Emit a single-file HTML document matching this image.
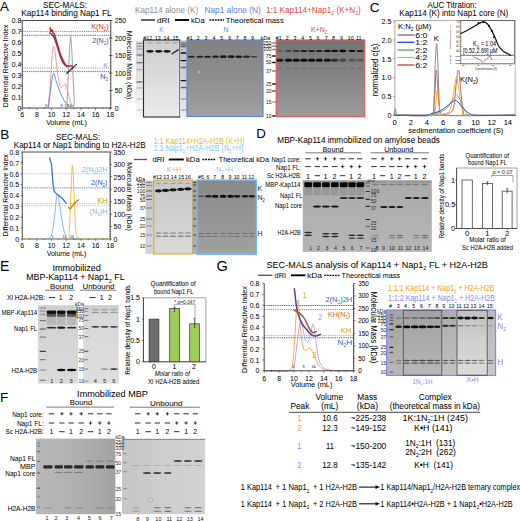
<!DOCTYPE html>
<html><head><meta charset="utf-8"><style>
html,body{margin:0;padding:0;background:#fff;}
svg{display:block;}
text{font-family:"Liberation Sans", sans-serif;}
</style></head><body>
<svg width="520" height="521" viewBox="0 0 520 521">
<rect x="0" y="0" width="520" height="521" fill="#fff"/>
<text x="0" y="4.79" font-size="13.30" text-anchor="start" fill="#000" stroke="#000" stroke-width="0.03" transform="translate(0.00 5.90) scale(1.0000 1)" >A</text>
<text x="0" y="3.17" font-size="8.80" text-anchor="start" fill="#000" stroke="#000" stroke-width="0.03" transform="translate(43.00 4.80) scale(0.9091 1)" textLength="48.51" lengthAdjust="spacingAndGlyphs" >SEC-MALS:</text>
<text x="0" y="3.17" font-size="8.80" text-anchor="start" fill="#000" stroke="#000" stroke-width="0.03" transform="translate(21.25 12.60) scale(0.9091 1)" textLength="99.33" lengthAdjust="spacingAndGlyphs" >Kap114 binding Nap1 FL</text>
<line x1="22.25" y1="31.45" x2="110.80" y2="31.45" stroke="#e86a6a" stroke-width="1.00" stroke-dasharray="1.3,0.9" />
<line x1="22.25" y1="35.28" x2="110.80" y2="35.28" stroke="#4a6fc0" stroke-width="1.00" stroke-dasharray="1.3,0.9" />
<line x1="22.25" y1="67.90" x2="110.80" y2="67.90" stroke="#a0a0a0" stroke-width="0.90" stroke-dasharray="1.3,0.9" />
<line x1="22.25" y1="71.60" x2="110.80" y2="71.60" stroke="#4a6fc0" stroke-width="1.00" stroke-dasharray="1.3,0.9" />
<path d="M22.25,20.50 L110.80,20.50 L110.80,108.10 L22.25,108.10 Z" fill="none" stroke="#333" stroke-width="0.9"/>
<line x1="109.80" y1="108.10" x2="110.80" y2="108.10" stroke="#333" stroke-width="0.50" />
<line x1="109.80" y1="104.60" x2="110.80" y2="104.60" stroke="#333" stroke-width="0.50" />
<line x1="109.80" y1="101.09" x2="110.80" y2="101.09" stroke="#333" stroke-width="0.50" />
<line x1="109.80" y1="97.59" x2="110.80" y2="97.59" stroke="#333" stroke-width="0.50" />
<line x1="109.80" y1="94.08" x2="110.80" y2="94.08" stroke="#333" stroke-width="0.50" />
<line x1="109.80" y1="90.58" x2="110.80" y2="90.58" stroke="#333" stroke-width="0.50" />
<line x1="109.80" y1="87.08" x2="110.80" y2="87.08" stroke="#333" stroke-width="0.50" />
<line x1="109.80" y1="83.57" x2="110.80" y2="83.57" stroke="#333" stroke-width="0.50" />
<line x1="109.80" y1="80.07" x2="110.80" y2="80.07" stroke="#333" stroke-width="0.50" />
<line x1="109.80" y1="76.56" x2="110.80" y2="76.56" stroke="#333" stroke-width="0.50" />
<line x1="109.80" y1="73.06" x2="110.80" y2="73.06" stroke="#333" stroke-width="0.50" />
<line x1="109.80" y1="69.56" x2="110.80" y2="69.56" stroke="#333" stroke-width="0.50" />
<line x1="109.80" y1="66.05" x2="110.80" y2="66.05" stroke="#333" stroke-width="0.50" />
<line x1="109.80" y1="62.55" x2="110.80" y2="62.55" stroke="#333" stroke-width="0.50" />
<line x1="109.80" y1="59.04" x2="110.80" y2="59.04" stroke="#333" stroke-width="0.50" />
<line x1="109.80" y1="55.54" x2="110.80" y2="55.54" stroke="#333" stroke-width="0.50" />
<line x1="109.80" y1="52.04" x2="110.80" y2="52.04" stroke="#333" stroke-width="0.50" />
<line x1="109.80" y1="48.53" x2="110.80" y2="48.53" stroke="#333" stroke-width="0.50" />
<line x1="109.80" y1="45.03" x2="110.80" y2="45.03" stroke="#333" stroke-width="0.50" />
<line x1="109.80" y1="41.52" x2="110.80" y2="41.52" stroke="#333" stroke-width="0.50" />
<line x1="109.80" y1="38.02" x2="110.80" y2="38.02" stroke="#333" stroke-width="0.50" />
<line x1="109.80" y1="34.52" x2="110.80" y2="34.52" stroke="#333" stroke-width="0.50" />
<line x1="109.80" y1="31.01" x2="110.80" y2="31.01" stroke="#333" stroke-width="0.50" />
<line x1="109.80" y1="27.51" x2="110.80" y2="27.51" stroke="#333" stroke-width="0.50" />
<line x1="109.80" y1="24.00" x2="110.80" y2="24.00" stroke="#333" stroke-width="0.50" />
<path d="M22.25,108.10 C26.16,108.10 41.44,108.46 45.72,108.10 C49.99,107.73 47.18,109.56 47.92,105.91 C48.65,102.26 49.38,94.96 50.12,86.20 C50.85,77.44 51.71,60.07 52.32,53.35 C52.93,46.63 53.29,45.90 53.78,45.90 C54.27,45.90 54.64,49.01 55.25,53.35 C55.86,57.69 56.59,66.44 57.45,71.97 C58.31,77.49 59.53,84.16 60.38,86.53 C61.24,88.90 61.73,86.55 62.58,86.20 C63.44,85.85 64.66,83.54 65.52,84.45 C66.37,85.36 66.92,88.86 67.72,91.67 C68.51,94.49 69.31,98.76 70.28,101.31 C71.26,103.87 72.42,105.87 73.58,107.00 C74.74,108.14 71.14,107.92 77.25,108.10 C83.36,108.28 104.75,108.10 110.25,108.10" stroke="#f08080" stroke-width="0.80" fill="none" stroke-linejoin="round" stroke-linecap="round" />
<path d="M22.25,108.10 C26.28,108.10 42.05,108.65 46.45,108.10 C50.85,107.55 47.79,109.19 48.65,104.81 C49.51,100.44 50.73,87.08 51.58,81.82 C52.44,76.56 53.05,73.46 53.78,73.28 C54.52,73.10 54.94,77.66 55.98,80.72 C57.02,83.79 58.51,88.13 60.02,91.67 C61.52,95.22 63.35,99.60 65.00,101.97 C66.65,104.34 68.24,104.94 69.92,105.91 C71.59,106.88 68.33,107.41 75.05,107.77 C81.77,108.14 104.38,108.05 110.25,108.10" stroke="#4a72c8" stroke-width="0.80" fill="none" stroke-linejoin="round" stroke-linecap="round" />
<path d="M22.25,108.10 C29.46,108.10 58.06,109.19 65.52,108.10 C72.97,107.00 66.43,108.83 66.98,101.53 C67.53,94.23 68.21,75.29 68.82,64.30 C69.43,53.31 70.04,35.61 70.65,35.61 C71.26,35.61 71.87,53.31 72.48,64.30 C73.09,75.29 73.77,94.23 74.32,101.53 C74.87,108.83 69.79,107.00 75.78,108.10 C81.77,109.19 104.51,108.10 110.25,108.10" stroke="#a8a8a8" stroke-width="1.10" fill="none" stroke-linejoin="round" stroke-linecap="round" />
<path d="M49.60,32.87 C49.93,33.09 50.89,33.51 51.58,34.19 C52.28,34.86 52.83,34.83 53.78,36.92 C54.74,39.02 56.26,43.68 57.30,46.78 C58.34,49.88 59.14,52.99 60.02,55.54 C60.90,58.10 61.58,60.38 62.58,62.11 C63.59,63.84 65.17,65.21 66.03,65.94 C66.89,66.67 67.44,66.40 67.72,66.49" stroke="#2a50b0" stroke-width="1.40" fill="none" stroke-linejoin="round" stroke-linecap="round" />
<path d="M50.12,27.84 C50.24,28.44 50.54,31.12 50.85,31.45 C51.16,31.78 51.58,29.63 51.95,29.81 C52.32,29.99 52.62,31.72 53.05,32.55 C53.48,33.37 53.81,32.82 54.52,34.73 C55.23,36.65 56.39,40.94 57.30,44.04 C58.22,47.15 59.14,50.76 60.02,53.35 C60.90,55.94 61.58,57.62 62.58,59.59 C63.59,61.56 64.93,64.10 66.03,65.18 C67.13,66.25 68.17,65.92 69.18,66.05 C70.20,66.18 71.63,65.96 72.12,65.94" stroke="#e01818" stroke-width="1.50" fill="none" stroke-linejoin="round" stroke-linecap="round" />
<path d="M66.62,73.39 C67.17,72.88 68.76,71.38 69.92,70.32 C71.08,69.26 72.48,68.02 73.58,67.04 C74.68,66.05 76.03,64.85 76.52,64.41" stroke="#222" stroke-width="1.20" fill="none" stroke-linejoin="round" stroke-linecap="round" />
<line x1="20.45" y1="108.10" x2="22.25" y2="108.10" stroke="#333" stroke-width="0.70" />
<text x="0" y="2.57" font-size="7.14" text-anchor="end" fill="#000" stroke="#000" stroke-width="0.03" transform="translate(21.25 108.10) scale(0.9524 1)" >0</text>
<line x1="20.45" y1="97.15" x2="22.25" y2="97.15" stroke="#333" stroke-width="0.70" />
<text x="0" y="2.57" font-size="7.14" text-anchor="end" fill="#000" stroke="#000" stroke-width="0.03" transform="translate(21.25 97.15) scale(0.9524 1)" >0.1</text>
<line x1="20.45" y1="86.20" x2="22.25" y2="86.20" stroke="#333" stroke-width="0.70" />
<text x="0" y="2.57" font-size="7.14" text-anchor="end" fill="#000" stroke="#000" stroke-width="0.03" transform="translate(21.25 86.20) scale(0.9524 1)" >0.2</text>
<line x1="20.45" y1="75.25" x2="22.25" y2="75.25" stroke="#333" stroke-width="0.70" />
<text x="0" y="2.57" font-size="7.14" text-anchor="end" fill="#000" stroke="#000" stroke-width="0.03" transform="translate(21.25 75.25) scale(0.9524 1)" >0.3</text>
<line x1="20.45" y1="64.30" x2="22.25" y2="64.30" stroke="#333" stroke-width="0.70" />
<text x="0" y="2.57" font-size="7.14" text-anchor="end" fill="#000" stroke="#000" stroke-width="0.03" transform="translate(21.25 64.30) scale(0.9524 1)" >0.4</text>
<line x1="20.45" y1="53.35" x2="22.25" y2="53.35" stroke="#333" stroke-width="0.70" />
<text x="0" y="2.57" font-size="7.14" text-anchor="end" fill="#000" stroke="#000" stroke-width="0.03" transform="translate(21.25 53.35) scale(0.9524 1)" >0.5</text>
<line x1="20.45" y1="42.40" x2="22.25" y2="42.40" stroke="#333" stroke-width="0.70" />
<text x="0" y="2.57" font-size="7.14" text-anchor="end" fill="#000" stroke="#000" stroke-width="0.03" transform="translate(21.25 42.40) scale(0.9524 1)" >0.6</text>
<line x1="20.45" y1="31.45" x2="22.25" y2="31.45" stroke="#333" stroke-width="0.70" />
<text x="0" y="2.57" font-size="7.14" text-anchor="end" fill="#000" stroke="#000" stroke-width="0.03" transform="translate(21.25 31.45) scale(0.9524 1)" >0.7</text>
<line x1="20.45" y1="20.50" x2="22.25" y2="20.50" stroke="#333" stroke-width="0.70" />
<text x="0" y="2.57" font-size="7.14" text-anchor="end" fill="#000" stroke="#000" stroke-width="0.03" transform="translate(21.25 20.50) scale(0.9524 1)" >0.8</text>
<line x1="109.00" y1="108.10" x2="112.60" y2="108.10" stroke="#333" stroke-width="0.70" />
<text x="0" y="2.57" font-size="7.14" text-anchor="start" fill="#000" stroke="#000" stroke-width="0.03" transform="translate(114.70 108.10) scale(0.9524 1)" >0</text>
<line x1="109.00" y1="90.58" x2="112.60" y2="90.58" stroke="#333" stroke-width="0.70" />
<text x="0" y="2.57" font-size="7.14" text-anchor="start" fill="#000" stroke="#000" stroke-width="0.03" transform="translate(114.70 90.58) scale(0.9524 1)" >50</text>
<line x1="109.00" y1="73.06" x2="112.60" y2="73.06" stroke="#333" stroke-width="0.70" />
<text x="0" y="2.57" font-size="7.14" text-anchor="start" fill="#000" stroke="#000" stroke-width="0.03" transform="translate(114.70 73.06) scale(0.9524 1)" >100</text>
<line x1="109.00" y1="55.54" x2="112.60" y2="55.54" stroke="#333" stroke-width="0.70" />
<text x="0" y="2.57" font-size="7.14" text-anchor="start" fill="#000" stroke="#000" stroke-width="0.03" transform="translate(114.70 55.54) scale(0.9524 1)" >150</text>
<line x1="109.00" y1="38.02" x2="112.60" y2="38.02" stroke="#333" stroke-width="0.70" />
<text x="0" y="2.57" font-size="7.14" text-anchor="start" fill="#000" stroke="#000" stroke-width="0.03" transform="translate(114.70 38.02) scale(0.9524 1)" >200</text>
<line x1="109.00" y1="20.50" x2="112.60" y2="20.50" stroke="#333" stroke-width="0.70" />
<text x="0" y="2.57" font-size="7.14" text-anchor="start" fill="#000" stroke="#000" stroke-width="0.03" transform="translate(114.70 20.50) scale(0.9524 1)" >250</text>
<line x1="22.25" y1="108.10" x2="22.25" y2="109.90" stroke="#333" stroke-width="0.70" />
<line x1="29.58" y1="108.10" x2="29.58" y2="109.10" stroke="#333" stroke-width="0.70" />
<line x1="36.92" y1="108.10" x2="36.92" y2="109.90" stroke="#333" stroke-width="0.70" />
<line x1="44.25" y1="108.10" x2="44.25" y2="109.10" stroke="#333" stroke-width="0.70" />
<line x1="51.58" y1="108.10" x2="51.58" y2="109.90" stroke="#333" stroke-width="0.70" />
<line x1="58.92" y1="108.10" x2="58.92" y2="109.10" stroke="#333" stroke-width="0.70" />
<line x1="66.25" y1="108.10" x2="66.25" y2="109.90" stroke="#333" stroke-width="0.70" />
<line x1="73.58" y1="108.10" x2="73.58" y2="109.10" stroke="#333" stroke-width="0.70" />
<line x1="80.92" y1="108.10" x2="80.92" y2="109.90" stroke="#333" stroke-width="0.70" />
<line x1="88.25" y1="108.10" x2="88.25" y2="109.10" stroke="#333" stroke-width="0.70" />
<line x1="95.58" y1="108.10" x2="95.58" y2="109.90" stroke="#333" stroke-width="0.70" />
<line x1="102.92" y1="108.10" x2="102.92" y2="109.10" stroke="#333" stroke-width="0.70" />
<line x1="110.25" y1="108.10" x2="110.25" y2="109.90" stroke="#333" stroke-width="0.70" />
<text x="0" y="2.65" font-size="7.35" text-anchor="middle" fill="#000" stroke="#000" stroke-width="0.03" transform="translate(22.25 114.00) scale(0.9524 1)" >6</text>
<text x="0" y="2.65" font-size="7.35" text-anchor="middle" fill="#000" stroke="#000" stroke-width="0.03" transform="translate(36.92 114.00) scale(0.9524 1)" >8</text>
<text x="0" y="2.65" font-size="7.35" text-anchor="middle" fill="#000" stroke="#000" stroke-width="0.03" transform="translate(51.58 114.00) scale(0.9524 1)" >10</text>
<text x="0" y="2.65" font-size="7.35" text-anchor="middle" fill="#000" stroke="#000" stroke-width="0.03" transform="translate(66.25 114.00) scale(0.9524 1)" >12</text>
<text x="0" y="2.65" font-size="7.35" text-anchor="middle" fill="#000" stroke="#000" stroke-width="0.03" transform="translate(80.92 114.00) scale(0.9524 1)" >14</text>
<text x="0" y="2.65" font-size="7.35" text-anchor="middle" fill="#000" stroke="#000" stroke-width="0.03" transform="translate(95.58 114.00) scale(0.9524 1)" >16</text>
<text x="0" y="2.65" font-size="7.35" text-anchor="middle" fill="#000" stroke="#000" stroke-width="0.03" transform="translate(110.25 114.00) scale(0.9524 1)" >18</text>
<text x="0" y="2.77" font-size="7.70" text-anchor="middle" fill="#000" stroke="#000" stroke-width="0.03" transform="translate(66.50 122.30) scale(0.9091 1)" textLength="44.77" lengthAdjust="spacingAndGlyphs" >Volume (mL)</text>
<text x="0" y="2.65" font-size="7.37" text-anchor="middle" fill="#000" stroke="#000" stroke-width="0.03" transform="translate(5.20 66.00) rotate(-90) scale(0.9091 1)" textLength="90.94" lengthAdjust="spacingAndGlyphs" >Differential Refractive Index</text>
<text x="0" y="2.77" font-size="7.70" text-anchor="middle" fill="#000" stroke="#000" stroke-width="0.03" transform="translate(129.60 65.00) rotate(90) scale(0.9091 1)" textLength="75.57" lengthAdjust="spacingAndGlyphs" >Molecular Mass (kDa)</text>
<text x="0" y="2.89" font-size="8.03" text-anchor="end" fill="#e42c2c" stroke="#e42c2c" stroke-width="0.03" transform="translate(108.80 26.30) scale(0.9091 1)" textLength="19.39" lengthAdjust="spacingAndGlyphs" >K(N<tspan font-size="4.98" dy="2.01">2</tspan><tspan dy="-2.01">)</tspan></text>
<text x="0" y="2.89" font-size="8.03" text-anchor="end" fill="#3050a8" stroke="#3050a8" stroke-width="0.03" transform="translate(108.50 40.30) scale(0.9091 1)" textLength="17.85" lengthAdjust="spacingAndGlyphs" >2(N<tspan font-size="4.98" dy="2.01">2</tspan><tspan dy="-2.01">)</tspan></text>
<text x="0" y="2.89" font-size="8.03" text-anchor="end" fill="#999" stroke="#999" stroke-width="0.03" transform="translate(108.20 64.75) scale(0.9091 1)" >K</text>
<text x="0" y="2.89" font-size="8.03" text-anchor="end" fill="#3050a8" stroke="#3050a8" stroke-width="0.03" transform="translate(108.00 75.80) scale(0.9091 1)" >N<tspan font-size="4.98" dy="2.01">2</tspan></text>
<text x="0" y="1.50" font-size="4.18" text-anchor="middle" fill="#333" stroke="#333" stroke-width="0.03" transform="translate(46.00 105.30) scale(0.9091 1)" >5</text>
<text x="0" y="1.50" font-size="4.18" text-anchor="middle" fill="#333" stroke="#333" stroke-width="0.03" transform="translate(61.50 105.30) scale(0.9091 1)" >9</text>
<text x="0" y="1.50" font-size="4.18" text-anchor="middle" fill="#333" stroke="#333" stroke-width="0.03" transform="translate(66.50 105.30) scale(0.9091 1)" >12</text>
<text x="0" y="1.50" font-size="4.18" text-anchor="middle" fill="#333" stroke="#333" stroke-width="0.03" transform="translate(71.00 105.30) scale(0.9091 1)" >5</text>
<text x="0" y="3.17" font-size="8.80" text-anchor="start" fill="#8f8f8f" stroke="#8f8f8f" stroke-width="0.03" transform="translate(135.00 10.00) scale(0.9091 1)" textLength="69.63" lengthAdjust="spacingAndGlyphs" >Kap114 alone (K)</text>
<text x="0" y="3.17" font-size="8.80" text-anchor="start" fill="#5f86d4" stroke="#5f86d4" stroke-width="0.03" transform="translate(204.50 10.00) scale(0.9091 1)" textLength="61.93" lengthAdjust="spacingAndGlyphs" >Nap1 alone (N)</text>
<text x="0" y="3.13" font-size="8.69" text-anchor="start" fill="#e04848" stroke="#e04848" stroke-width="0.03" transform="translate(266.00 10.00) scale(0.9091 1)" textLength="104.27" lengthAdjust="spacingAndGlyphs" >1:1 Kap114+Nap1<tspan font-size="5.39" dy="2.17">2</tspan><tspan dy="-2.17"> (K+N</tspan><tspan font-size="5.39" dy="2.17">2</tspan><tspan dy="-2.17">)</tspan></text>
<line x1="141.00" y1="20.00" x2="155.00" y2="20.00" stroke="#000" stroke-width="1.20" />
<text x="0" y="2.77" font-size="7.70" text-anchor="start" fill="#000" stroke="#000" stroke-width="0.03" transform="translate(157.00 20.00) scale(0.9091 1)" textLength="13.70" lengthAdjust="spacingAndGlyphs" >dRI</text>
<line x1="175.00" y1="20.00" x2="189.00" y2="20.00" stroke="#000" stroke-width="1.90" />
<text x="0" y="2.77" font-size="7.70" text-anchor="start" fill="#000" stroke="#000" stroke-width="0.03" transform="translate(191.00 20.00) scale(0.9091 1)" textLength="15.07" lengthAdjust="spacingAndGlyphs" >kDa</text>
<line x1="209.50" y1="20.00" x2="224.00" y2="20.00" stroke="#000" stroke-width="1.30" stroke-dasharray="1.8,0.9" />
<text x="0" y="2.77" font-size="7.70" text-anchor="start" fill="#000" stroke="#000" stroke-width="0.03" transform="translate(225.80 20.00) scale(0.9091 1)" textLength="63.69" lengthAdjust="spacingAndGlyphs" >Theoretical mass</text>
<text x="0" y="2.77" font-size="7.70" text-anchor="middle" fill="#999" stroke="#999" stroke-width="0.03" transform="translate(161.50 29.00) scale(0.9091 1)" >K</text>
<text x="0" y="2.77" font-size="7.70" text-anchor="middle" fill="#5f86d4" stroke="#5f86d4" stroke-width="0.03" transform="translate(226.00 29.00) scale(0.9091 1)" >N</text>
<text x="0" y="2.77" font-size="7.70" text-anchor="middle" fill="#e04848" stroke="#e04848" stroke-width="0.03" transform="translate(319.00 29.00) scale(0.9091 1)" >K+N<tspan font-size="4.77" dy="1.93">2</tspan></text>
<linearGradient id="g1" x1="0" y1="0" x2="0" y2="1">
<stop offset="0" stop-color="#d4d4d4"/>
<stop offset="0.5" stop-color="#e4e4e4"/>
<stop offset="1" stop-color="#fafafa"/>
</linearGradient>
<rect x="136.00" y="41.00" width="7.50" height="76.00" fill="url(#g1)" />
<rect x="136.50" y="43.00" width="6.00" height="1.00" rx="0.50" fill="#333" fill-opacity="0.40"/>
<rect x="136.50" y="45.75" width="6.00" height="1.00" rx="0.50" fill="#333" fill-opacity="0.50"/>
<rect x="136.50" y="48.50" width="6.00" height="1.00" rx="0.50" fill="#333" fill-opacity="0.35"/>
<rect x="136.50" y="54.50" width="6.00" height="1.00" rx="0.50" fill="#333" fill-opacity="0.80"/>
<rect x="136.50" y="62.25" width="6.00" height="1.00" rx="0.50" fill="#333" fill-opacity="0.80"/>
<rect x="136.50" y="69.25" width="6.00" height="1.00" rx="0.50" fill="#333" fill-opacity="0.40"/>
<rect x="136.50" y="81.40" width="6.00" height="1.00" rx="0.50" fill="#333" fill-opacity="0.90"/>
<rect x="136.50" y="87.50" width="6.00" height="1.00" rx="0.50" fill="#333" fill-opacity="0.40"/>
<rect x="136.50" y="98.50" width="6.00" height="1.00" rx="0.50" fill="#333" fill-opacity="0.30"/>
<rect x="136.50" y="109.50" width="6.00" height="1.00" rx="0.50" fill="#333" fill-opacity="0.30"/>
<linearGradient id="g2" x1="0" y1="0" x2="0" y2="1">
<stop offset="0" stop-color="#cdcdcd"/>
<stop offset="0.5" stop-color="#dcdcdc"/>
<stop offset="1" stop-color="#ececec"/>
</linearGradient>
<rect x="143.50" y="40.00" width="36.50" height="77.00" fill="url(#g2)" stroke="#2a2a2a" stroke-width="1.10" />
<ellipse cx="150.00" cy="51.30" rx="3.60" ry="1.40" fill="#0a0a0a" fill-opacity="0.95"/>
<ellipse cx="150.00" cy="42.80" rx="3.00" ry="0.50" fill="#555" fill-opacity="0.45"/>
<ellipse cx="158.70" cy="51.30" rx="3.60" ry="1.40" fill="#0a0a0a" fill-opacity="0.95"/>
<ellipse cx="158.70" cy="42.80" rx="3.00" ry="0.50" fill="#555" fill-opacity="0.45"/>
<ellipse cx="167.00" cy="51.30" rx="3.60" ry="1.40" fill="#0a0a0a" fill-opacity="0.95"/>
<ellipse cx="167.00" cy="42.80" rx="3.00" ry="0.50" fill="#555" fill-opacity="0.45"/>
<path d="M171.5,53.5 L178.5,48.8 L178.5,50.6 L171.5,54.8 Z" fill="#0a0a0a" fill-opacity="0.9"/>
<ellipse cx="175.00" cy="42.80" rx="3.00" ry="0.50" fill="#555" fill-opacity="0.45"/>
<text x="0" y="2.10" font-size="5.83" text-anchor="middle" fill="#000" stroke="#000" stroke-width="0.03" transform="translate(147.70 37.75) scale(0.9091 1)" >#12</text>
<text x="0" y="2.10" font-size="5.83" text-anchor="middle" fill="#000" stroke="#000" stroke-width="0.03" transform="translate(157.80 37.75) scale(0.9091 1)" >13</text>
<text x="0" y="2.10" font-size="5.83" text-anchor="middle" fill="#000" stroke="#000" stroke-width="0.03" transform="translate(166.40 37.75) scale(0.9091 1)" >14</text>
<text x="0" y="2.10" font-size="5.83" text-anchor="middle" fill="#000" stroke="#000" stroke-width="0.03" transform="translate(175.50 37.75) scale(0.9091 1)" >15</text>
<linearGradient id="g3" x1="0" y1="0" x2="0" y2="1">
<stop offset="0" stop-color="#bcbcbc"/>
<stop offset="0.5" stop-color="#d2d2d2"/>
<stop offset="1" stop-color="#ececec"/>
</linearGradient>
<rect x="180.00" y="40.50" width="7.00" height="76.50" fill="url(#g3)" />
<rect x="180.50" y="42.30" width="6.00" height="1.40" rx="0.70" fill="#111" fill-opacity="0.40"/>
<rect x="180.50" y="44.00" width="6.00" height="1.40" rx="0.70" fill="#111" fill-opacity="0.40"/>
<rect x="180.50" y="45.80" width="6.00" height="1.40" rx="0.70" fill="#111" fill-opacity="0.50"/>
<rect x="180.50" y="52.30" width="6.00" height="1.40" rx="0.70" fill="#111" fill-opacity="1.00"/>
<rect x="180.50" y="59.90" width="6.00" height="1.40" rx="0.70" fill="#111" fill-opacity="1.00"/>
<rect x="180.50" y="66.80" width="6.00" height="1.40" rx="0.70" fill="#111" fill-opacity="0.55"/>
<rect x="180.50" y="79.90" width="6.00" height="1.40" rx="0.70" fill="#111" fill-opacity="1.00"/>
<rect x="180.50" y="86.80" width="6.00" height="1.40" rx="0.70" fill="#111" fill-opacity="0.55"/>
<rect x="180.50" y="98.30" width="6.00" height="1.40" rx="0.70" fill="#111" fill-opacity="0.30"/>
<rect x="180.50" y="109.30" width="6.00" height="1.40" rx="0.70" fill="#111" fill-opacity="0.30"/>
<linearGradient id="g4" x1="0" y1="0" x2="0" y2="1">
<stop offset="0" stop-color="#828282"/>
<stop offset="0.5" stop-color="#8e8e8e"/>
<stop offset="1" stop-color="#a2a2a2"/>
</linearGradient>
<rect x="187.00" y="40.00" width="76.00" height="76.50" fill="url(#g4)" stroke="#5f86d4" stroke-width="1.20" />
<text x="0" y="2.10" font-size="5.83" text-anchor="middle" fill="#000" stroke="#000" stroke-width="0.03" transform="translate(189.80 37.70) scale(0.9091 1)" >#1</text>
<text x="0" y="2.10" font-size="5.83" text-anchor="middle" fill="#000" stroke="#000" stroke-width="0.03" transform="translate(198.30 37.70) scale(0.9091 1)" >2</text>
<text x="0" y="2.10" font-size="5.83" text-anchor="middle" fill="#000" stroke="#000" stroke-width="0.03" transform="translate(206.00 37.70) scale(0.9091 1)" >3</text>
<text x="0" y="2.10" font-size="5.83" text-anchor="middle" fill="#000" stroke="#000" stroke-width="0.03" transform="translate(214.00 37.70) scale(0.9091 1)" >4</text>
<text x="0" y="2.10" font-size="5.83" text-anchor="middle" fill="#000" stroke="#000" stroke-width="0.03" transform="translate(221.80 37.70) scale(0.9091 1)" >5</text>
<text x="0" y="2.10" font-size="5.83" text-anchor="middle" fill="#000" stroke="#000" stroke-width="0.03" transform="translate(229.60 37.70) scale(0.9091 1)" >6</text>
<text x="0" y="2.10" font-size="5.83" text-anchor="middle" fill="#000" stroke="#000" stroke-width="0.03" transform="translate(237.30 37.70) scale(0.9091 1)" >7</text>
<text x="0" y="2.10" font-size="5.83" text-anchor="middle" fill="#000" stroke="#000" stroke-width="0.03" transform="translate(245.00 37.70) scale(0.9091 1)" >8</text>
<text x="0" y="2.10" font-size="5.83" text-anchor="middle" fill="#000" stroke="#000" stroke-width="0.03" transform="translate(252.50 37.70) scale(0.9091 1)" >9</text>
<ellipse cx="191.30" cy="56.70" rx="3.40" ry="1.00" fill="#101010" fill-opacity="0.80"/>
<ellipse cx="199.80" cy="56.70" rx="3.40" ry="1.00" fill="#101010" fill-opacity="0.85"/>
<ellipse cx="207.50" cy="56.70" rx="3.40" ry="1.05" fill="#101010" fill-opacity="0.90"/>
<ellipse cx="215.50" cy="56.70" rx="3.40" ry="1.15" fill="#101010" fill-opacity="0.90"/>
<ellipse cx="223.30" cy="56.70" rx="3.40" ry="1.40" fill="#101010" fill-opacity="0.95"/>
<ellipse cx="231.10" cy="56.70" rx="3.40" ry="1.40" fill="#101010" fill-opacity="0.95"/>
<ellipse cx="238.80" cy="56.70" rx="3.40" ry="1.30" fill="#101010" fill-opacity="0.95"/>
<ellipse cx="246.50" cy="56.70" rx="3.40" ry="1.10" fill="#101010" fill-opacity="0.85"/>
<ellipse cx="254.00" cy="56.70" rx="3.40" ry="0.80" fill="#101010" fill-opacity="0.70"/>
<circle cx="199" cy="72" r="1.3" fill="#c8c8c8" fill-opacity="0.7"/>
<text x="0" y="2.10" font-size="5.83" text-anchor="middle" fill="#000" stroke="#000" stroke-width="0.03" transform="translate(265.50 37.70) scale(0.9091 1)" >kDa</text>
<text x="0" y="1.98" font-size="5.50" text-anchor="end" fill="#222" stroke="#222" stroke-width="0.03" transform="translate(271.50 43.20) scale(0.9091 1)" >250</text>
<text x="0" y="1.98" font-size="5.50" text-anchor="end" fill="#222" stroke="#222" stroke-width="0.03" transform="translate(271.50 46.00) scale(0.9091 1)" >150</text>
<text x="0" y="1.98" font-size="5.50" text-anchor="end" fill="#222" stroke="#222" stroke-width="0.03" transform="translate(271.50 49.50) scale(0.9091 1)" >100</text>
<text x="0" y="1.98" font-size="5.50" text-anchor="end" fill="#222" stroke="#222" stroke-width="0.03" transform="translate(271.50 56.00) scale(0.9091 1)" >75</text>
<text x="0" y="1.98" font-size="5.50" text-anchor="end" fill="#222" stroke="#222" stroke-width="0.03" transform="translate(271.50 62.50) scale(0.9091 1)" >50</text>
<text x="0" y="1.98" font-size="5.50" text-anchor="end" fill="#222" stroke="#222" stroke-width="0.03" transform="translate(271.50 71.00) scale(0.9091 1)" >37</text>
<text x="0" y="1.98" font-size="5.50" text-anchor="end" fill="#222" stroke="#222" stroke-width="0.03" transform="translate(271.50 84.00) scale(0.9091 1)" >25</text>
<text x="0" y="1.98" font-size="5.50" text-anchor="end" fill="#222" stroke="#222" stroke-width="0.03" transform="translate(271.50 91.00) scale(0.9091 1)" >20</text>
<text x="0" y="1.98" font-size="5.50" text-anchor="end" fill="#222" stroke="#222" stroke-width="0.03" transform="translate(271.50 102.00) scale(0.9091 1)" >15</text>
<text x="0" y="1.98" font-size="5.50" text-anchor="end" fill="#222" stroke="#222" stroke-width="0.03" transform="translate(271.50 116.00) scale(0.9091 1)" >10</text>
<rect x="272.00" y="42.35" width="4.00" height="1.30" rx="0.65" fill="#111" fill-opacity="0.50"/>
<rect x="272.00" y="45.35" width="4.00" height="1.30" rx="0.65" fill="#111" fill-opacity="0.50"/>
<rect x="272.00" y="48.85" width="4.00" height="1.30" rx="0.65" fill="#111" fill-opacity="0.50"/>
<rect x="272.00" y="55.35" width="4.00" height="1.30" rx="0.65" fill="#111" fill-opacity="1.00"/>
<rect x="272.00" y="61.85" width="4.00" height="1.30" rx="0.65" fill="#111" fill-opacity="1.00"/>
<rect x="272.00" y="70.35" width="4.00" height="1.30" rx="0.65" fill="#111" fill-opacity="0.55"/>
<rect x="272.00" y="83.35" width="4.00" height="1.30" rx="0.65" fill="#111" fill-opacity="1.00"/>
<rect x="272.00" y="90.35" width="4.00" height="1.30" rx="0.65" fill="#111" fill-opacity="0.70"/>
<rect x="272.00" y="101.35" width="4.00" height="1.30" rx="0.65" fill="#111" fill-opacity="0.40"/>
<rect x="272.00" y="115.35" width="4.00" height="1.30" rx="0.65" fill="#111" fill-opacity="0.90"/>
<linearGradient id="g5" x1="0" y1="0" x2="0" y2="1">
<stop offset="0" stop-color="#747474"/>
<stop offset="0.5" stop-color="#868686"/>
<stop offset="1" stop-color="#9c9c9c"/>
</linearGradient>
<rect x="276.20" y="40.00" width="88.50" height="76.70" fill="url(#g5)" stroke="#e05a5a" stroke-width="1.20" />
<text x="0" y="2.10" font-size="5.83" text-anchor="middle" fill="#000" stroke="#000" stroke-width="0.03" transform="translate(278.70 37.70) scale(0.9091 1)" >#1</text>
<text x="0" y="2.10" font-size="5.83" text-anchor="middle" fill="#000" stroke="#000" stroke-width="0.03" transform="translate(287.30 37.70) scale(0.9091 1)" >2</text>
<text x="0" y="2.10" font-size="5.83" text-anchor="middle" fill="#000" stroke="#000" stroke-width="0.03" transform="translate(295.00 37.70) scale(0.9091 1)" >3</text>
<text x="0" y="2.10" font-size="5.83" text-anchor="middle" fill="#000" stroke="#000" stroke-width="0.03" transform="translate(302.70 37.70) scale(0.9091 1)" >4</text>
<text x="0" y="2.10" font-size="5.83" text-anchor="middle" fill="#000" stroke="#000" stroke-width="0.03" transform="translate(310.40 37.70) scale(0.9091 1)" >5</text>
<text x="0" y="2.10" font-size="5.83" text-anchor="middle" fill="#000" stroke="#000" stroke-width="0.03" transform="translate(318.00 37.70) scale(0.9091 1)" >6</text>
<text x="0" y="2.10" font-size="5.83" text-anchor="middle" fill="#000" stroke="#000" stroke-width="0.03" transform="translate(326.20 37.70) scale(0.9091 1)" >7</text>
<text x="0" y="2.10" font-size="5.83" text-anchor="middle" fill="#000" stroke="#000" stroke-width="0.03" transform="translate(333.50 37.70) scale(0.9091 1)" >8</text>
<text x="0" y="2.10" font-size="5.83" text-anchor="middle" fill="#000" stroke="#000" stroke-width="0.03" transform="translate(341.50 37.70) scale(0.9091 1)" >9</text>
<text x="0" y="2.10" font-size="5.83" text-anchor="middle" fill="#000" stroke="#000" stroke-width="0.03" transform="translate(350.80 37.70) scale(0.9091 1)" >10</text>
<text x="0" y="2.10" font-size="5.83" text-anchor="middle" fill="#000" stroke="#000" stroke-width="0.03" transform="translate(358.80 37.70) scale(0.9091 1)" >11</text>
<ellipse cx="279.90" cy="50.90" rx="3.40" ry="0.70" fill="#0a0a0a" fill-opacity="0.35"/>
<ellipse cx="279.90" cy="60.20" rx="3.60" ry="1.60" fill="#050505" fill-opacity="0.80"/>
<ellipse cx="279.90" cy="68.50" rx="3.00" ry="0.50" fill="#444" fill-opacity="0.30"/>
<ellipse cx="279.90" cy="43.30" rx="3.00" ry="0.40" fill="#444" fill-opacity="0.25"/>
<ellipse cx="288.50" cy="50.90" rx="3.40" ry="0.80" fill="#0a0a0a" fill-opacity="0.55"/>
<ellipse cx="288.50" cy="60.20" rx="3.60" ry="1.60" fill="#050505" fill-opacity="0.97"/>
<ellipse cx="288.50" cy="68.50" rx="3.00" ry="0.50" fill="#444" fill-opacity="0.30"/>
<ellipse cx="288.50" cy="43.30" rx="3.00" ry="0.40" fill="#444" fill-opacity="0.25"/>
<ellipse cx="296.20" cy="50.90" rx="3.40" ry="0.90" fill="#0a0a0a" fill-opacity="0.70"/>
<ellipse cx="296.20" cy="60.20" rx="3.60" ry="1.60" fill="#050505" fill-opacity="0.97"/>
<ellipse cx="296.20" cy="68.50" rx="3.00" ry="0.50" fill="#444" fill-opacity="0.30"/>
<ellipse cx="296.20" cy="43.30" rx="3.00" ry="0.40" fill="#444" fill-opacity="0.25"/>
<ellipse cx="303.90" cy="50.90" rx="3.40" ry="1.00" fill="#0a0a0a" fill-opacity="0.85"/>
<ellipse cx="303.90" cy="60.20" rx="3.60" ry="1.60" fill="#050505" fill-opacity="0.97"/>
<ellipse cx="303.90" cy="68.50" rx="3.00" ry="0.50" fill="#444" fill-opacity="0.30"/>
<ellipse cx="303.90" cy="43.30" rx="3.00" ry="0.40" fill="#444" fill-opacity="0.25"/>
<ellipse cx="311.60" cy="50.90" rx="3.40" ry="1.00" fill="#0a0a0a" fill-opacity="0.85"/>
<ellipse cx="311.60" cy="60.20" rx="3.60" ry="1.60" fill="#050505" fill-opacity="0.95"/>
<ellipse cx="311.60" cy="68.50" rx="3.00" ry="0.50" fill="#444" fill-opacity="0.30"/>
<ellipse cx="311.60" cy="43.30" rx="3.00" ry="0.40" fill="#444" fill-opacity="0.25"/>
<ellipse cx="319.20" cy="50.90" rx="3.40" ry="1.00" fill="#0a0a0a" fill-opacity="0.85"/>
<ellipse cx="319.20" cy="60.20" rx="3.60" ry="1.60" fill="#050505" fill-opacity="0.90"/>
<ellipse cx="319.20" cy="68.50" rx="3.00" ry="0.50" fill="#444" fill-opacity="0.30"/>
<ellipse cx="319.20" cy="43.30" rx="3.00" ry="0.40" fill="#444" fill-opacity="0.25"/>
<ellipse cx="327.40" cy="50.90" rx="3.40" ry="1.20" fill="#0a0a0a" fill-opacity="0.95"/>
<ellipse cx="327.40" cy="60.20" rx="3.60" ry="1.60" fill="#050505" fill-opacity="0.85"/>
<ellipse cx="327.40" cy="68.50" rx="3.00" ry="0.50" fill="#444" fill-opacity="0.30"/>
<ellipse cx="327.40" cy="43.30" rx="3.00" ry="0.40" fill="#444" fill-opacity="0.25"/>
<ellipse cx="334.70" cy="50.90" rx="3.40" ry="1.20" fill="#0a0a0a" fill-opacity="0.95"/>
<ellipse cx="334.70" cy="60.20" rx="3.60" ry="1.60" fill="#050505" fill-opacity="0.65"/>
<ellipse cx="334.70" cy="68.50" rx="3.00" ry="0.50" fill="#444" fill-opacity="0.30"/>
<ellipse cx="334.70" cy="43.30" rx="3.00" ry="0.40" fill="#444" fill-opacity="0.25"/>
<ellipse cx="342.70" cy="50.90" rx="3.40" ry="1.30" fill="#0a0a0a" fill-opacity="0.97"/>
<ellipse cx="342.70" cy="60.20" rx="3.60" ry="1.60" fill="#050505" fill-opacity="0.45"/>
<ellipse cx="342.70" cy="68.50" rx="3.00" ry="0.50" fill="#444" fill-opacity="0.30"/>
<ellipse cx="342.70" cy="43.30" rx="3.00" ry="0.40" fill="#444" fill-opacity="0.25"/>
<ellipse cx="352.00" cy="50.90" rx="3.40" ry="1.10" fill="#0a0a0a" fill-opacity="0.90"/>
<ellipse cx="352.00" cy="60.20" rx="3.60" ry="1.60" fill="#050505" fill-opacity="0.30"/>
<ellipse cx="352.00" cy="68.50" rx="3.00" ry="0.50" fill="#444" fill-opacity="0.30"/>
<ellipse cx="352.00" cy="43.30" rx="3.00" ry="0.40" fill="#444" fill-opacity="0.25"/>
<ellipse cx="360.00" cy="50.90" rx="3.40" ry="1.00" fill="#0a0a0a" fill-opacity="0.85"/>
<ellipse cx="360.00" cy="60.20" rx="3.60" ry="1.60" fill="#050505" fill-opacity="0.25"/>
<ellipse cx="360.00" cy="68.50" rx="3.00" ry="0.50" fill="#444" fill-opacity="0.30"/>
<ellipse cx="360.00" cy="43.30" rx="3.00" ry="0.40" fill="#444" fill-opacity="0.25"/>
<text x="0" y="4.86" font-size="13.50" text-anchor="start" fill="#000" stroke="#000" stroke-width="0.03" transform="translate(369.80 7.60) scale(1.0000 1)" >C</text>
<text x="0" y="3.09" font-size="8.58" text-anchor="start" fill="#000" stroke="#000" stroke-width="0.03" transform="translate(427.60 5.30) scale(0.9091 1)" textLength="53.99" lengthAdjust="spacingAndGlyphs" >AUC Titration:</text>
<text x="0" y="3.09" font-size="8.58" text-anchor="start" fill="#000" stroke="#000" stroke-width="0.03" transform="translate(399.30 13.20) scale(0.9091 1)" textLength="119.88" lengthAdjust="spacingAndGlyphs" >Kap114 (K) into Nap1 core (N)</text>
<rect x="394.9" y="20.6" width="120.2" height="94.8" fill="none" stroke="#a8a8a8" stroke-width="1.0"/>
<line x1="393.00" y1="115.20" x2="394.90" y2="115.20" stroke="#777" stroke-width="0.70" />
<text x="0" y="2.72" font-size="7.56" text-anchor="end" fill="#000" stroke="#000" stroke-width="0.03" transform="translate(391.50 115.20) scale(0.9524 1)" >0</text>
<line x1="393.00" y1="96.40" x2="394.90" y2="96.40" stroke="#777" stroke-width="0.70" />
<text x="0" y="2.72" font-size="7.56" text-anchor="end" fill="#000" stroke="#000" stroke-width="0.03" transform="translate(391.50 96.40) scale(0.9524 1)" >0.5</text>
<line x1="393.00" y1="77.60" x2="394.90" y2="77.60" stroke="#777" stroke-width="0.70" />
<text x="0" y="2.72" font-size="7.56" text-anchor="end" fill="#000" stroke="#000" stroke-width="0.03" transform="translate(391.50 77.60) scale(0.9524 1)" >1.0</text>
<line x1="393.00" y1="58.80" x2="394.90" y2="58.80" stroke="#777" stroke-width="0.70" />
<text x="0" y="2.72" font-size="7.56" text-anchor="end" fill="#000" stroke="#000" stroke-width="0.03" transform="translate(391.50 58.80) scale(0.9524 1)" >1.5</text>
<line x1="393.00" y1="40.00" x2="394.90" y2="40.00" stroke="#777" stroke-width="0.70" />
<text x="0" y="2.72" font-size="7.56" text-anchor="end" fill="#000" stroke="#000" stroke-width="0.03" transform="translate(391.50 40.00) scale(0.9524 1)" >2.0</text>
<line x1="393.00" y1="21.20" x2="394.90" y2="21.20" stroke="#777" stroke-width="0.70" />
<text x="0" y="2.72" font-size="7.56" text-anchor="end" fill="#000" stroke="#000" stroke-width="0.03" transform="translate(391.50 21.20) scale(0.9524 1)" >2.5</text>
<text x="0" y="2.87" font-size="7.98" text-anchor="middle" fill="#000" stroke="#000" stroke-width="0.03" transform="translate(394.60 122.00) scale(0.9524 1)" >0</text>
<text x="0" y="2.87" font-size="7.98" text-anchor="middle" fill="#000" stroke="#000" stroke-width="0.03" transform="translate(410.78 122.00) scale(0.9524 1)" >2</text>
<text x="0" y="2.87" font-size="7.98" text-anchor="middle" fill="#000" stroke="#000" stroke-width="0.03" transform="translate(426.96 122.00) scale(0.9524 1)" >4</text>
<text x="0" y="2.87" font-size="7.98" text-anchor="middle" fill="#000" stroke="#000" stroke-width="0.03" transform="translate(443.14 122.00) scale(0.9524 1)" >6</text>
<text x="0" y="2.87" font-size="7.98" text-anchor="middle" fill="#000" stroke="#000" stroke-width="0.03" transform="translate(459.32 122.00) scale(0.9524 1)" >8</text>
<text x="0" y="2.87" font-size="7.98" text-anchor="middle" fill="#000" stroke="#000" stroke-width="0.03" transform="translate(475.50 122.00) scale(0.9524 1)" >10</text>
<text x="0" y="2.87" font-size="7.98" text-anchor="middle" fill="#000" stroke="#000" stroke-width="0.03" transform="translate(491.68 122.00) scale(0.9524 1)" >12</text>
<text x="0" y="2.87" font-size="7.98" text-anchor="middle" fill="#000" stroke="#000" stroke-width="0.03" transform="translate(507.86 122.00) scale(0.9524 1)" >14</text>
<text x="0" y="2.77" font-size="7.70" text-anchor="start" fill="#000" stroke="#000" stroke-width="0.03" transform="translate(408.30 129.80) scale(0.9091 1)" textLength="104.39" lengthAdjust="spacingAndGlyphs" >sedimentation coefficient (S)</text>
<text x="0" y="3.01" font-size="8.36" text-anchor="middle" fill="#000" stroke="#000" stroke-width="0.03" transform="translate(374.50 70.00) rotate(-90) scale(0.9091 1)" textLength="58.04" lengthAdjust="spacingAndGlyphs" >normalized c(s)</text>
<text x="0" y="2.59" font-size="7.20" text-anchor="start" fill="#000" stroke="#000" stroke-width="0.03" transform="translate(398.00 26.30) scale(1.0000 1)" textLength="33.22" lengthAdjust="spacingAndGlyphs" >K:N<tspan font-size="4.46" dy="1.80">2</tspan><tspan dy="-1.80"> (μM)</tspan></text>
<line x1="397.40" y1="35.00" x2="414.30" y2="35.00" stroke="#8a8a8a" stroke-width="1.60" />
<text x="0" y="2.88" font-size="8.00" text-anchor="start" fill="#000" stroke="#000" stroke-width="0.03" transform="translate(415.20 35.00) scale(1.0000 1)" textLength="12.10" lengthAdjust="spacingAndGlyphs" >6:0</text>
<line x1="397.40" y1="42.30" x2="414.30" y2="42.30" stroke="#1f3fe8" stroke-width="1.30" />
<text x="0" y="2.88" font-size="8.00" text-anchor="start" fill="#000" stroke="#000" stroke-width="0.03" transform="translate(415.20 42.30) scale(1.0000 1)" textLength="12.10" lengthAdjust="spacingAndGlyphs" >1:2</text>
<line x1="397.40" y1="50.00" x2="414.30" y2="50.00" stroke="#70b870" stroke-width="1.60" />
<text x="0" y="2.88" font-size="8.00" text-anchor="start" fill="#000" stroke="#000" stroke-width="0.03" transform="translate(415.20 50.00) scale(1.0000 1)" textLength="12.10" lengthAdjust="spacingAndGlyphs" >2:2</text>
<line x1="397.40" y1="57.50" x2="414.30" y2="57.50" stroke="#f0a030" stroke-width="1.20" />
<text x="0" y="2.88" font-size="8.00" text-anchor="start" fill="#000" stroke="#000" stroke-width="0.03" transform="translate(415.20 57.50) scale(1.0000 1)" textLength="12.10" lengthAdjust="spacingAndGlyphs" >4:2</text>
<line x1="397.40" y1="65.00" x2="414.30" y2="65.00" stroke="#c06a68" stroke-width="1.60" />
<text x="0" y="2.88" font-size="8.00" text-anchor="start" fill="#000" stroke="#000" stroke-width="0.03" transform="translate(415.20 65.00) scale(1.0000 1)" textLength="12.10" lengthAdjust="spacingAndGlyphs" >6:2</text>
<text x="0" y="2.74" font-size="7.60" text-anchor="middle" fill="#000" stroke="#000" stroke-width="0.03" transform="translate(436.40 38.20) scale(1.0000 1)" >K</text>
<text x="0" y="2.74" font-size="7.60" text-anchor="start" fill="#000" stroke="#000" stroke-width="0.03" transform="translate(460.00 79.60) scale(1.0000 1)" textLength="18.06" lengthAdjust="spacingAndGlyphs" >K(N<tspan font-size="4.71" dy="1.90">2</tspan><tspan dy="-1.90">)</tspan></text>
<path d="M393.79,115.20 C393.93,114.45 394.33,111.75 394.60,110.69 C394.87,109.62 395.07,108.18 395.41,108.81 C395.75,109.43 396.08,113.38 396.62,114.45 C397.16,115.51 392.78,115.07 398.65,115.20 C404.51,115.33 425.95,117.08 431.81,115.20 C437.68,113.32 433.23,113.32 433.84,103.92 C434.44,94.52 434.98,68.83 435.45,58.80 C435.93,48.77 436.26,43.13 436.67,43.76 C437.07,44.39 437.41,51.91 437.88,62.56 C438.35,73.21 438.89,98.91 439.50,107.68 C440.11,116.45 428.92,113.95 441.52,115.20 C454.13,116.45 502.87,115.20 515.14,115.20" stroke="#8a8a8a" stroke-width="1.00" fill="none" stroke-linejoin="round" stroke-linecap="round" />
<path d="M394.60,115.20 C399.99,115.20 420.62,115.33 426.96,115.20 C433.30,115.07 431.34,117.58 432.62,114.45 C433.90,111.31 434.04,103.79 434.65,96.40 C435.25,89.01 435.72,71.33 436.26,70.08 C436.80,68.83 437.27,81.99 437.88,88.88 C438.49,95.77 439.03,107.18 439.90,111.44 C440.78,115.70 440.98,114.76 443.14,114.45 C445.30,114.13 450.69,114.45 452.85,109.56 C455.01,104.67 455.14,92.14 456.08,85.12 C457.03,78.10 457.77,66.82 458.51,67.45 C459.25,68.07 459.72,81.55 460.53,88.88 C461.34,96.21 462.22,107.05 463.37,111.44 C464.51,115.83 458.78,114.57 467.41,115.20 C476.04,115.83 507.19,115.20 515.14,115.20" stroke="#c06a68" stroke-width="1.00" fill="none" stroke-linejoin="round" stroke-linecap="round" />
<path d="M394.60,115.20 C400.67,115.20 424.26,115.83 431.00,115.20 C437.75,114.57 434.04,115.70 435.05,111.44 C436.06,107.18 436.47,91.20 437.07,89.63 C437.68,88.07 438.08,98.09 438.69,102.04 C439.30,105.99 439.97,111.31 440.71,113.32 C441.45,115.33 441.66,114.51 443.14,114.07 C444.62,113.63 447.86,114.26 449.61,110.69 C451.36,107.12 452.51,98.15 453.66,92.64 C454.80,87.13 455.54,77.60 456.49,77.60 C457.43,77.60 458.31,87.00 459.32,92.64 C460.33,98.28 461.21,107.68 462.56,111.44 C463.90,115.20 458.65,114.57 467.41,115.20 C476.17,115.83 507.19,115.20 515.14,115.20" stroke="#f0a030" stroke-width="0.90" fill="none" stroke-linejoin="round" stroke-linecap="round" />
<path d="M394.60,115.20 C400.40,115.20 421.97,115.58 429.39,115.20 C436.80,114.82 436.13,114.20 439.10,112.94 C442.06,111.69 444.89,109.94 447.19,107.68 C449.48,105.42 451.23,101.60 452.85,99.41 C454.47,97.21 455.54,94.08 456.89,94.52 C458.24,94.96 459.45,99.09 460.94,102.04 C462.42,104.99 464.04,110.00 465.79,112.19 C467.54,114.39 463.23,114.70 471.46,115.20 C479.68,115.70 507.86,115.20 515.14,115.20" stroke="#70b870" stroke-width="0.90" fill="none" stroke-linejoin="round" stroke-linecap="round" />
<path d="M394.60,115.20 C399.72,115.20 419.27,115.45 425.34,115.20 C431.41,114.95 428.71,114.32 431.00,113.70 C433.30,113.07 436.40,112.69 439.10,111.44 C441.79,110.19 444.76,107.93 447.19,106.18 C449.61,104.42 451.90,101.66 453.66,100.91 C455.41,100.16 456.08,100.41 457.70,101.66 C459.32,102.92 461.34,106.43 463.37,108.43 C465.39,110.44 467.54,112.57 469.84,113.70 C472.13,114.82 469.57,114.95 477.12,115.20 C484.67,115.45 508.80,115.20 515.14,115.20" stroke="#1f3fe8" stroke-width="1.00" fill="none" stroke-linejoin="round" stroke-linecap="round" />
<rect x="447.50" y="21.20" width="67.20" height="49.00" fill="#fff" />
<rect x="460.8" y="20.6" width="53.8" height="43.3" fill="none" stroke="#333" stroke-width="0.6"/>
<line x1="460.80" y1="55.30" x2="514.60" y2="55.30" stroke="#333" stroke-width="0.60" />
<path d="M460.80,33.50 C461.83,33.00 464.80,31.67 467.00,30.50 C469.20,29.33 472.00,27.67 474.00,26.50 C476.00,25.33 477.37,24.27 479.00,23.50 C480.63,22.73 482.30,21.73 483.80,21.90 C485.30,22.07 486.58,22.83 488.00,24.50 C489.42,26.17 491.05,29.57 492.30,31.90 C493.55,34.23 494.47,36.18 495.50,38.50 C496.53,40.82 497.25,43.72 498.50,45.80 C499.75,47.88 500.95,49.42 503.00,51.00 C505.05,52.58 509.50,54.58 510.80,55.30" stroke="#111" stroke-width="1.20" fill="none" stroke-linejoin="round" stroke-linecap="round" />
<circle cx="478.5" cy="23" r="1.1" fill="#111"/>
<circle cx="483.5" cy="22" r="1.1" fill="#111"/>
<circle cx="489" cy="26" r="1.1" fill="#111"/>
<circle cx="492" cy="31" r="1.1" fill="#111"/>
<circle cx="494" cy="37" r="1.1" fill="#111"/>
<text x="0" y="0.94" font-size="2.60" text-anchor="end" fill="#333" stroke="#333" stroke-width="0.03" transform="translate(459.80 22.50) scale(1.0000 1)" >7.0</text>
<line x1="460.80" y1="22.50" x2="461.80" y2="22.50" stroke="#333" stroke-width="0.40" />
<text x="0" y="0.94" font-size="2.60" text-anchor="end" fill="#333" stroke="#333" stroke-width="0.03" transform="translate(459.80 27.30) scale(1.0000 1)" >6.8</text>
<line x1="460.80" y1="27.30" x2="461.80" y2="27.30" stroke="#333" stroke-width="0.40" />
<text x="0" y="0.94" font-size="2.60" text-anchor="end" fill="#333" stroke="#333" stroke-width="0.03" transform="translate(459.80 32.10) scale(1.0000 1)" >6.6</text>
<line x1="460.80" y1="32.10" x2="461.80" y2="32.10" stroke="#333" stroke-width="0.40" />
<text x="0" y="0.94" font-size="2.60" text-anchor="end" fill="#333" stroke="#333" stroke-width="0.03" transform="translate(459.80 36.90) scale(1.0000 1)" >6.4</text>
<line x1="460.80" y1="36.90" x2="461.80" y2="36.90" stroke="#333" stroke-width="0.40" />
<text x="0" y="0.94" font-size="2.60" text-anchor="end" fill="#333" stroke="#333" stroke-width="0.03" transform="translate(459.80 41.70) scale(1.0000 1)" >6.2</text>
<line x1="460.80" y1="41.70" x2="461.80" y2="41.70" stroke="#333" stroke-width="0.40" />
<text x="0" y="0.94" font-size="2.60" text-anchor="end" fill="#333" stroke="#333" stroke-width="0.03" transform="translate(459.80 46.50) scale(1.0000 1)" >4.2</text>
<line x1="460.80" y1="46.50" x2="461.80" y2="46.50" stroke="#333" stroke-width="0.40" />
<text x="0" y="0.94" font-size="2.60" text-anchor="end" fill="#333" stroke="#333" stroke-width="0.03" transform="translate(459.80 51.30) scale(1.0000 1)" >4.0</text>
<line x1="460.80" y1="51.30" x2="461.80" y2="51.30" stroke="#333" stroke-width="0.40" />
<text x="0" y="2.30" font-size="6.38" text-anchor="start" fill="#000" stroke="#000" stroke-width="0.03" transform="translate(473.00 43.90) scale(0.9091 1)" textLength="25.28" lengthAdjust="spacingAndGlyphs" >K<tspan font-size="3.96" dy="1.59">D</tspan><tspan dy="-1.59"> =  1.04</tspan></text>
<text x="0" y="2.30" font-size="6.38" text-anchor="start" fill="#000" stroke="#000" stroke-width="0.03" transform="translate(463.00 50.70) scale(0.9091 1)" textLength="38.04" lengthAdjust="spacingAndGlyphs" >[0.52,2.69] μM</text>
<circle cx="461" cy="55.8" r="0.45" fill="#222"/>
<circle cx="461" cy="63.5" r="0.45" fill="#222"/>
<circle cx="464" cy="55.8" r="0.45" fill="#222"/>
<circle cx="464" cy="63.5" r="0.45" fill="#222"/>
<circle cx="467" cy="55.8" r="0.45" fill="#222"/>
<circle cx="467" cy="63.5" r="0.45" fill="#222"/>
<circle cx="470" cy="55.8" r="0.45" fill="#222"/>
<circle cx="470" cy="63.5" r="0.45" fill="#222"/>
<circle cx="473" cy="55.8" r="0.45" fill="#222"/>
<circle cx="473" cy="63.5" r="0.45" fill="#222"/>
<circle cx="476" cy="55.8" r="0.45" fill="#222"/>
<circle cx="476" cy="63.5" r="0.45" fill="#222"/>
<circle cx="479" cy="55.8" r="0.45" fill="#222"/>
<circle cx="479" cy="63.5" r="0.45" fill="#222"/>
<circle cx="482" cy="55.8" r="0.45" fill="#222"/>
<circle cx="482" cy="63.5" r="0.45" fill="#222"/>
<circle cx="485" cy="55.8" r="0.45" fill="#222"/>
<circle cx="485" cy="63.5" r="0.45" fill="#222"/>
<circle cx="488" cy="55.8" r="0.45" fill="#222"/>
<circle cx="488" cy="63.5" r="0.45" fill="#222"/>
<circle cx="491" cy="55.8" r="0.45" fill="#222"/>
<circle cx="491" cy="63.5" r="0.45" fill="#222"/>
<circle cx="494" cy="55.8" r="0.45" fill="#222"/>
<circle cx="494" cy="63.5" r="0.45" fill="#222"/>
<circle cx="497" cy="55.8" r="0.45" fill="#222"/>
<circle cx="497" cy="63.5" r="0.45" fill="#222"/>
<circle cx="500" cy="55.8" r="0.45" fill="#222"/>
<circle cx="500" cy="63.5" r="0.45" fill="#222"/>
<circle cx="503" cy="55.8" r="0.45" fill="#222"/>
<circle cx="503" cy="63.5" r="0.45" fill="#222"/>
<circle cx="506" cy="55.8" r="0.45" fill="#222"/>
<circle cx="506" cy="63.5" r="0.45" fill="#222"/>
<circle cx="509" cy="55.8" r="0.45" fill="#222"/>
<circle cx="509" cy="63.5" r="0.45" fill="#222"/>
<circle cx="512" cy="55.8" r="0.45" fill="#222"/>
<circle cx="512" cy="63.5" r="0.45" fill="#222"/>
<line x1="460.80" y1="59.20" x2="514.60" y2="59.20" stroke="#aaa" stroke-width="0.40" />
<path d="M474.00,57.00 L478.50,59.00 L483.00,62.50 L487.00,58.50 L490.00,56.00 L492.00,60.00" stroke="#222" stroke-width="0.50" fill="none" stroke-linejoin="round" stroke-linecap="round" />
<text x="0" y="0.79" font-size="2.20" text-anchor="middle" fill="#333" stroke="#333" stroke-width="0.03" transform="translate(463.00 65.60) scale(1.0000 1)" >10</text>
<text x="0" y="0.79" font-size="2.20" text-anchor="middle" fill="#333" stroke="#333" stroke-width="0.03" transform="translate(478.00 65.60) scale(1.0000 1)" >10</text>
<text x="0" y="0.79" font-size="2.20" text-anchor="middle" fill="#333" stroke="#333" stroke-width="0.03" transform="translate(493.00 65.60) scale(1.0000 1)" >10</text>
<text x="0" y="0.79" font-size="2.20" text-anchor="middle" fill="#333" stroke="#333" stroke-width="0.03" transform="translate(510.00 65.60) scale(1.0000 1)" >10</text>
<text x="0" y="1.01" font-size="2.80" text-anchor="middle" fill="#333" stroke="#333" stroke-width="0.03" transform="translate(486.00 68.80) scale(1.0000 1)" >Concentration (S)</text>
<text x="0" y="0.86" font-size="2.40" text-anchor="middle" fill="#333" stroke="#333" stroke-width="0.03" transform="translate(449.80 37.00) rotate(-90) scale(1.0000 1)" >weighted-average s (S)</text>
<text x="0" y="0.86" font-size="2.40" text-anchor="middle" fill="#333" stroke="#333" stroke-width="0.03" transform="translate(449.80 59.50) rotate(-90) scale(1.0000 1)" >residuals</text>
<text x="0" y="0.79" font-size="2.20" text-anchor="end" fill="#333" stroke="#333" stroke-width="0.03" transform="translate(459.80 56.50) scale(1.0000 1)" >0.02</text>
<text x="0" y="0.79" font-size="2.20" text-anchor="end" fill="#333" stroke="#333" stroke-width="0.03" transform="translate(459.80 59.80) scale(1.0000 1)" >0.00</text>
<text x="0" y="0.79" font-size="2.20" text-anchor="end" fill="#333" stroke="#333" stroke-width="0.03" transform="translate(459.80 63.10) scale(1.0000 1)" >-0.02</text>
<text x="0" y="4.86" font-size="13.50" text-anchor="start" fill="#000" stroke="#000" stroke-width="0.03" transform="translate(0.30 134.30) scale(1.0000 1)" >B</text>
<text x="0" y="3.17" font-size="8.80" text-anchor="start" fill="#000" stroke="#000" stroke-width="0.03" transform="translate(56.00 136.70) scale(0.9091 1)" textLength="48.62" lengthAdjust="spacingAndGlyphs" >SEC-MALS:</text>
<text x="0" y="3.17" font-size="8.80" text-anchor="start" fill="#000" stroke="#000" stroke-width="0.03" transform="translate(13.75 145.00) scale(0.9091 1)" textLength="144.98" lengthAdjust="spacingAndGlyphs" >Kap114 or Nap1 binding to H2A-H2B</text>
<line x1="22.25" y1="173.75" x2="110.25" y2="173.75" stroke="#7cc4f0" stroke-width="0.80" stroke-dasharray="1.3,0.9" />
<line x1="22.25" y1="187.89" x2="110.25" y2="187.89" stroke="#3a62c8" stroke-width="0.80" stroke-dasharray="1.3,0.9" />
<line x1="22.25" y1="203.66" x2="110.25" y2="203.66" stroke="#f0b030" stroke-width="0.90" stroke-dasharray="1.3,0.9" />
<line x1="22.25" y1="205.83" x2="110.25" y2="205.83" stroke="#7cc4f0" stroke-width="0.80" stroke-dasharray="1.3,0.9" />
<path d="M22.25,152.00 L110.25,152.00 L110.25,239.00 L22.25,239.00 Z" fill="none" stroke="#333" stroke-width="0.9"/>
<line x1="109.25" y1="239.00" x2="110.25" y2="239.00" stroke="#333" stroke-width="0.50" />
<line x1="109.25" y1="236.51" x2="110.25" y2="236.51" stroke="#333" stroke-width="0.50" />
<line x1="109.25" y1="234.03" x2="110.25" y2="234.03" stroke="#333" stroke-width="0.50" />
<line x1="109.25" y1="231.54" x2="110.25" y2="231.54" stroke="#333" stroke-width="0.50" />
<line x1="109.25" y1="229.06" x2="110.25" y2="229.06" stroke="#333" stroke-width="0.50" />
<line x1="109.25" y1="226.57" x2="110.25" y2="226.57" stroke="#333" stroke-width="0.50" />
<line x1="109.25" y1="224.09" x2="110.25" y2="224.09" stroke="#333" stroke-width="0.50" />
<line x1="109.25" y1="221.60" x2="110.25" y2="221.60" stroke="#333" stroke-width="0.50" />
<line x1="109.25" y1="219.11" x2="110.25" y2="219.11" stroke="#333" stroke-width="0.50" />
<line x1="109.25" y1="216.63" x2="110.25" y2="216.63" stroke="#333" stroke-width="0.50" />
<line x1="109.25" y1="214.14" x2="110.25" y2="214.14" stroke="#333" stroke-width="0.50" />
<line x1="109.25" y1="211.66" x2="110.25" y2="211.66" stroke="#333" stroke-width="0.50" />
<line x1="109.25" y1="209.17" x2="110.25" y2="209.17" stroke="#333" stroke-width="0.50" />
<line x1="109.25" y1="206.69" x2="110.25" y2="206.69" stroke="#333" stroke-width="0.50" />
<line x1="109.25" y1="204.20" x2="110.25" y2="204.20" stroke="#333" stroke-width="0.50" />
<line x1="109.25" y1="201.71" x2="110.25" y2="201.71" stroke="#333" stroke-width="0.50" />
<line x1="109.25" y1="199.23" x2="110.25" y2="199.23" stroke="#333" stroke-width="0.50" />
<line x1="109.25" y1="196.74" x2="110.25" y2="196.74" stroke="#333" stroke-width="0.50" />
<line x1="109.25" y1="194.26" x2="110.25" y2="194.26" stroke="#333" stroke-width="0.50" />
<line x1="109.25" y1="191.77" x2="110.25" y2="191.77" stroke="#333" stroke-width="0.50" />
<line x1="109.25" y1="189.29" x2="110.25" y2="189.29" stroke="#333" stroke-width="0.50" />
<line x1="109.25" y1="186.80" x2="110.25" y2="186.80" stroke="#333" stroke-width="0.50" />
<line x1="109.25" y1="184.31" x2="110.25" y2="184.31" stroke="#333" stroke-width="0.50" />
<line x1="109.25" y1="181.83" x2="110.25" y2="181.83" stroke="#333" stroke-width="0.50" />
<line x1="109.25" y1="179.34" x2="110.25" y2="179.34" stroke="#333" stroke-width="0.50" />
<line x1="109.25" y1="176.86" x2="110.25" y2="176.86" stroke="#333" stroke-width="0.50" />
<line x1="109.25" y1="174.37" x2="110.25" y2="174.37" stroke="#333" stroke-width="0.50" />
<line x1="109.25" y1="171.89" x2="110.25" y2="171.89" stroke="#333" stroke-width="0.50" />
<line x1="109.25" y1="169.40" x2="110.25" y2="169.40" stroke="#333" stroke-width="0.50" />
<line x1="109.25" y1="166.91" x2="110.25" y2="166.91" stroke="#333" stroke-width="0.50" />
<line x1="109.25" y1="164.43" x2="110.25" y2="164.43" stroke="#333" stroke-width="0.50" />
<line x1="109.25" y1="161.94" x2="110.25" y2="161.94" stroke="#333" stroke-width="0.50" />
<line x1="109.25" y1="159.46" x2="110.25" y2="159.46" stroke="#333" stroke-width="0.50" />
<line x1="109.25" y1="156.97" x2="110.25" y2="156.97" stroke="#333" stroke-width="0.50" />
<line x1="109.25" y1="154.49" x2="110.25" y2="154.49" stroke="#333" stroke-width="0.50" />
<path d="M22.25,239.00 C26.41,239.00 42.54,239.36 47.18,239.00 C51.83,238.64 49.26,237.91 50.12,236.82 C50.97,235.74 51.58,235.74 52.32,232.47 C53.05,229.21 53.84,222.87 54.52,217.25 C55.19,211.63 55.86,202.57 56.35,198.76 C56.84,194.96 57.02,194.23 57.45,194.41 C57.88,194.59 58.31,196.41 58.92,199.85 C59.53,203.29 60.38,210.36 61.12,215.07 C61.85,219.79 62.46,224.50 63.32,228.12 C64.17,231.75 65.27,235.10 66.25,236.82 C67.23,238.55 61.85,238.09 69.18,238.46 C76.52,238.82 103.41,238.91 110.25,239.00" stroke="#5aaaf0" stroke-width="0.80" fill="none" stroke-linejoin="round" stroke-linecap="round" />
<path d="M22.25,239.00 C29.71,239.00 59.16,240.09 66.98,239.00 C74.81,237.91 68.51,240.63 69.18,232.47 C69.86,224.32 70.47,201.30 71.02,190.06 C71.57,178.82 71.99,165.05 72.48,165.05 C72.97,165.05 73.40,179.19 73.95,190.06 C74.50,200.94 74.99,222.33 75.78,230.30 C76.58,238.28 76.64,236.46 78.72,237.91 C80.79,239.36 82.99,238.82 88.25,239.00 C93.51,239.18 106.58,239.00 110.25,239.00" stroke="#f5b52a" stroke-width="0.90" fill="none" stroke-linejoin="round" stroke-linecap="round" />
<path d="M49.75,157.98 L51.58,165.05 L53.05,184.62 L54.15,191.15 L55.98,193.32 L58.92,195.50 L62.58,198.76 L66.25,203.11" stroke="#3a70e0" stroke-width="1.30" fill="none" stroke-linejoin="round" stroke-linecap="round" />
<path d="M68.45,207.46 L70.28,209.09 L72.85,205.29 L75.78,202.03 L78.72,199.85" stroke="#b8861a" stroke-width="1.30" fill="none" stroke-linejoin="round" stroke-linecap="round" />
<line x1="20.45" y1="239.00" x2="22.25" y2="239.00" stroke="#444" stroke-width="0.70" />
<text x="0" y="2.77" font-size="7.70" text-anchor="end" fill="#000" stroke="#000" stroke-width="0.03" transform="translate(19.20 239.00) scale(0.9091 1)" >0</text>
<line x1="20.45" y1="228.12" x2="22.25" y2="228.12" stroke="#444" stroke-width="0.70" />
<text x="0" y="2.77" font-size="7.70" text-anchor="end" fill="#000" stroke="#000" stroke-width="0.03" transform="translate(19.20 228.12) scale(0.9091 1)" >0.1</text>
<line x1="20.45" y1="217.25" x2="22.25" y2="217.25" stroke="#444" stroke-width="0.70" />
<text x="0" y="2.77" font-size="7.70" text-anchor="end" fill="#000" stroke="#000" stroke-width="0.03" transform="translate(19.20 217.25) scale(0.9091 1)" >0.2</text>
<line x1="20.45" y1="206.38" x2="22.25" y2="206.38" stroke="#444" stroke-width="0.70" />
<text x="0" y="2.77" font-size="7.70" text-anchor="end" fill="#000" stroke="#000" stroke-width="0.03" transform="translate(19.20 206.38) scale(0.9091 1)" >0.3</text>
<line x1="20.45" y1="195.50" x2="22.25" y2="195.50" stroke="#444" stroke-width="0.70" />
<text x="0" y="2.77" font-size="7.70" text-anchor="end" fill="#000" stroke="#000" stroke-width="0.03" transform="translate(19.20 195.50) scale(0.9091 1)" >0.4</text>
<line x1="20.45" y1="184.62" x2="22.25" y2="184.62" stroke="#444" stroke-width="0.70" />
<text x="0" y="2.77" font-size="7.70" text-anchor="end" fill="#000" stroke="#000" stroke-width="0.03" transform="translate(19.20 184.62) scale(0.9091 1)" >0.5</text>
<line x1="20.45" y1="173.75" x2="22.25" y2="173.75" stroke="#444" stroke-width="0.70" />
<text x="0" y="2.77" font-size="7.70" text-anchor="end" fill="#000" stroke="#000" stroke-width="0.03" transform="translate(19.20 173.75) scale(0.9091 1)" >0.6</text>
<line x1="20.45" y1="162.88" x2="22.25" y2="162.88" stroke="#444" stroke-width="0.70" />
<text x="0" y="2.77" font-size="7.70" text-anchor="end" fill="#000" stroke="#000" stroke-width="0.03" transform="translate(19.20 162.88) scale(0.9091 1)" >0.7</text>
<line x1="20.45" y1="152.00" x2="22.25" y2="152.00" stroke="#444" stroke-width="0.70" />
<text x="0" y="2.77" font-size="7.70" text-anchor="end" fill="#000" stroke="#000" stroke-width="0.03" transform="translate(19.20 152.00) scale(0.9091 1)" >0.8</text>
<line x1="110.25" y1="239.00" x2="112.05" y2="239.00" stroke="#444" stroke-width="0.70" />
<text x="0" y="2.77" font-size="7.70" text-anchor="start" fill="#000" stroke="#000" stroke-width="0.03" transform="translate(113.50 239.00) scale(0.9091 1)" >0</text>
<line x1="110.25" y1="226.57" x2="112.05" y2="226.57" stroke="#444" stroke-width="0.70" />
<text x="0" y="2.77" font-size="7.70" text-anchor="start" fill="#000" stroke="#000" stroke-width="0.03" transform="translate(113.50 226.57) scale(0.9091 1)" >50</text>
<line x1="110.25" y1="214.14" x2="112.05" y2="214.14" stroke="#444" stroke-width="0.70" />
<text x="0" y="2.77" font-size="7.70" text-anchor="start" fill="#000" stroke="#000" stroke-width="0.03" transform="translate(113.50 214.14) scale(0.9091 1)" >100</text>
<line x1="110.25" y1="201.71" x2="112.05" y2="201.71" stroke="#444" stroke-width="0.70" />
<text x="0" y="2.77" font-size="7.70" text-anchor="start" fill="#000" stroke="#000" stroke-width="0.03" transform="translate(113.50 201.71) scale(0.9091 1)" >150</text>
<line x1="110.25" y1="189.29" x2="112.05" y2="189.29" stroke="#444" stroke-width="0.70" />
<text x="0" y="2.77" font-size="7.70" text-anchor="start" fill="#000" stroke="#000" stroke-width="0.03" transform="translate(113.50 189.29) scale(0.9091 1)" >200</text>
<line x1="110.25" y1="176.86" x2="112.05" y2="176.86" stroke="#444" stroke-width="0.70" />
<text x="0" y="2.77" font-size="7.70" text-anchor="start" fill="#000" stroke="#000" stroke-width="0.03" transform="translate(113.50 176.86) scale(0.9091 1)" >250</text>
<line x1="110.25" y1="164.43" x2="112.05" y2="164.43" stroke="#444" stroke-width="0.70" />
<text x="0" y="2.77" font-size="7.70" text-anchor="start" fill="#000" stroke="#000" stroke-width="0.03" transform="translate(113.50 164.43) scale(0.9091 1)" >300</text>
<line x1="110.25" y1="152.00" x2="112.05" y2="152.00" stroke="#444" stroke-width="0.70" />
<text x="0" y="2.77" font-size="7.70" text-anchor="start" fill="#000" stroke="#000" stroke-width="0.03" transform="translate(113.50 152.00) scale(0.9091 1)" >350</text>
<line x1="22.25" y1="239.00" x2="22.25" y2="240.80" stroke="#444" stroke-width="0.70" />
<line x1="29.58" y1="239.00" x2="29.58" y2="240.00" stroke="#444" stroke-width="0.70" />
<line x1="36.92" y1="239.00" x2="36.92" y2="240.80" stroke="#444" stroke-width="0.70" />
<line x1="44.25" y1="239.00" x2="44.25" y2="240.00" stroke="#444" stroke-width="0.70" />
<line x1="51.58" y1="239.00" x2="51.58" y2="240.80" stroke="#444" stroke-width="0.70" />
<line x1="58.92" y1="239.00" x2="58.92" y2="240.00" stroke="#444" stroke-width="0.70" />
<line x1="66.25" y1="239.00" x2="66.25" y2="240.80" stroke="#444" stroke-width="0.70" />
<line x1="73.58" y1="239.00" x2="73.58" y2="240.00" stroke="#444" stroke-width="0.70" />
<line x1="80.92" y1="239.00" x2="80.92" y2="240.80" stroke="#444" stroke-width="0.70" />
<line x1="88.25" y1="239.00" x2="88.25" y2="240.00" stroke="#444" stroke-width="0.70" />
<line x1="95.58" y1="239.00" x2="95.58" y2="240.80" stroke="#444" stroke-width="0.70" />
<line x1="102.92" y1="239.00" x2="102.92" y2="240.00" stroke="#444" stroke-width="0.70" />
<line x1="110.25" y1="239.00" x2="110.25" y2="240.80" stroke="#444" stroke-width="0.70" />
<text x="0" y="2.77" font-size="7.70" text-anchor="middle" fill="#000" stroke="#000" stroke-width="0.03" transform="translate(22.25 245.50) scale(0.9091 1)" >6</text>
<text x="0" y="2.77" font-size="7.70" text-anchor="middle" fill="#000" stroke="#000" stroke-width="0.03" transform="translate(36.92 245.50) scale(0.9091 1)" >8</text>
<text x="0" y="2.77" font-size="7.70" text-anchor="middle" fill="#000" stroke="#000" stroke-width="0.03" transform="translate(51.58 245.50) scale(0.9091 1)" >10</text>
<text x="0" y="2.77" font-size="7.70" text-anchor="middle" fill="#000" stroke="#000" stroke-width="0.03" transform="translate(66.25 245.50) scale(0.9091 1)" >12</text>
<text x="0" y="2.77" font-size="7.70" text-anchor="middle" fill="#000" stroke="#000" stroke-width="0.03" transform="translate(80.92 245.50) scale(0.9091 1)" >14</text>
<text x="0" y="2.77" font-size="7.70" text-anchor="middle" fill="#000" stroke="#000" stroke-width="0.03" transform="translate(95.58 245.50) scale(0.9091 1)" >16</text>
<text x="0" y="2.77" font-size="7.70" text-anchor="middle" fill="#000" stroke="#000" stroke-width="0.03" transform="translate(110.25 245.50) scale(0.9091 1)" >18</text>
<text x="0" y="2.77" font-size="7.70" text-anchor="middle" fill="#000" stroke="#000" stroke-width="0.03" transform="translate(66.50 253.50) scale(0.9091 1)" >Volume (mL)</text>
<text x="0" y="2.65" font-size="7.37" text-anchor="middle" fill="#000" stroke="#000" stroke-width="0.03" transform="translate(5.50 195.50) rotate(-90) scale(0.9091 1)" >Differential Refractive Index</text>
<text x="0" y="2.77" font-size="7.70" text-anchor="middle" fill="#000" stroke="#000" stroke-width="0.03" transform="translate(129.60 196.50) rotate(90) scale(0.9091 1)" textLength="75.57" lengthAdjust="spacingAndGlyphs" >Molecular Mass (kDa)</text>
<text x="0" y="2.85" font-size="7.92" text-anchor="end" fill="#6ec0f0" stroke="#6ec0f0" stroke-width="0.03" transform="translate(107.50 168.80) scale(0.9091 1)" >2(N<tspan font-size="4.91" dy="1.98">2</tspan><tspan dy="-1.98">)2H</tspan></text>
<text x="0" y="2.85" font-size="7.92" text-anchor="end" fill="#3050b0" stroke="#3050b0" stroke-width="0.03" transform="translate(107.50 182.50) scale(0.9091 1)" >2(N<tspan font-size="4.91" dy="1.98">2</tspan><tspan dy="-1.98">)</tspan></text>
<text x="0" y="2.85" font-size="7.92" text-anchor="end" fill="#c09020" stroke="#c09020" stroke-width="0.03" transform="translate(107.50 200.50) scale(0.9091 1)" >KH</text>
<text x="0" y="2.85" font-size="7.92" text-anchor="end" fill="#6ec0f0" stroke="#6ec0f0" stroke-width="0.03" transform="translate(107.50 211.00) scale(0.9091 1)" >(N<tspan font-size="4.91" dy="1.98">2</tspan><tspan dy="-1.98">)H</tspan></text>
<text x="0" y="1.39" font-size="3.85" text-anchor="middle" fill="#333" stroke="#333" stroke-width="0.03" transform="translate(52.50 236.50) scale(0.9091 1)" >5</text>
<text x="0" y="1.39" font-size="3.85" text-anchor="middle" fill="#333" stroke="#333" stroke-width="0.03" transform="translate(64.50 236.50) scale(0.9091 1)" >12</text>
<text x="0" y="1.39" font-size="3.85" text-anchor="middle" fill="#333" stroke="#333" stroke-width="0.03" transform="translate(72.00 236.50) scale(0.9091 1)" >16</text>
<text x="0" y="3.13" font-size="8.69" text-anchor="start" fill="#e6b440" stroke="#e6b440" stroke-width="0.03" transform="translate(153.75 140.50) scale(0.9091 1)" textLength="99.87" lengthAdjust="spacingAndGlyphs" >1:1 Kap114+H2A-H2B (K+H)</text>
<text x="0" y="3.13" font-size="8.69" text-anchor="start" fill="#86c6f0" stroke="#86c6f0" stroke-width="0.03" transform="translate(153.75 148.20) scale(0.9091 1)" textLength="98.49" lengthAdjust="spacingAndGlyphs" >1:1 Nap1<tspan font-size="5.39" dy="2.17">2</tspan><tspan dy="-2.17">+H2A-H2B (N</tspan><tspan font-size="5.39" dy="2.17">2</tspan><tspan dy="-2.17">+H)</tspan></text>
<line x1="134.00" y1="159.50" x2="147.00" y2="159.50" stroke="#555" stroke-width="1.30" />
<text x="0" y="2.77" font-size="7.70" text-anchor="start" fill="#000" stroke="#000" stroke-width="0.03" transform="translate(152.50 159.50) scale(0.9091 1)" textLength="13.14" lengthAdjust="spacingAndGlyphs" >dRI</text>
<line x1="168.75" y1="159.50" x2="183.75" y2="159.50" stroke="#000" stroke-width="1.90" />
<text x="0" y="2.77" font-size="7.70" text-anchor="start" fill="#000" stroke="#000" stroke-width="0.03" transform="translate(186.00 159.50) scale(0.9091 1)" textLength="15.07" lengthAdjust="spacingAndGlyphs" >kDa</text>
<line x1="202.50" y1="159.50" x2="215.00" y2="159.50" stroke="#000" stroke-width="1.30" stroke-dasharray="1.8,0.9" />
<text x="0" y="2.77" font-size="7.70" text-anchor="start" fill="#000" stroke="#000" stroke-width="0.03" transform="translate(218.75 159.50) scale(0.9091 1)" textLength="55.22" lengthAdjust="spacingAndGlyphs" >Theoretical kDa</text>
<text x="0" y="2.85" font-size="7.92" text-anchor="middle" fill="#e6b440" stroke="#e6b440" stroke-width="0.03" transform="translate(174.00 169.00) scale(0.9091 1)" >K+H</text>
<text x="0" y="2.85" font-size="7.92" text-anchor="middle" fill="#86c6f0" stroke="#86c6f0" stroke-width="0.03" transform="translate(224.50 169.00) scale(0.9091 1)" >N<tspan font-size="4.91" dy="1.98">2</tspan><tspan dy="-1.98">+H</tspan></text>
<text x="0" y="2.10" font-size="5.83" text-anchor="middle" fill="#000" stroke="#000" stroke-width="0.03" transform="translate(157.50 177.20) scale(0.9091 1)" >#12</text>
<text x="0" y="2.10" font-size="5.83" text-anchor="middle" fill="#000" stroke="#000" stroke-width="0.03" transform="translate(166.25 177.20) scale(0.9091 1)" >13</text>
<text x="0" y="2.10" font-size="5.83" text-anchor="middle" fill="#000" stroke="#000" stroke-width="0.03" transform="translate(173.75 177.20) scale(0.9091 1)" >14</text>
<text x="0" y="2.10" font-size="5.83" text-anchor="middle" fill="#000" stroke="#000" stroke-width="0.03" transform="translate(181.25 177.20) scale(0.9091 1)" >15</text>
<text x="0" y="2.10" font-size="5.83" text-anchor="middle" fill="#000" stroke="#000" stroke-width="0.03" transform="translate(188.00 177.20) scale(0.9091 1)" >16</text>
<text x="0" y="2.10" font-size="5.83" text-anchor="middle" fill="#000" stroke="#000" stroke-width="0.03" transform="translate(200.90 177.20) scale(0.9091 1)" >#5</text>
<text x="0" y="2.10" font-size="5.83" text-anchor="middle" fill="#000" stroke="#000" stroke-width="0.03" transform="translate(207.90 177.20) scale(0.9091 1)" >6</text>
<text x="0" y="2.10" font-size="5.83" text-anchor="middle" fill="#000" stroke="#000" stroke-width="0.03" transform="translate(214.60 177.20) scale(0.9091 1)" >7</text>
<text x="0" y="2.10" font-size="5.83" text-anchor="middle" fill="#000" stroke="#000" stroke-width="0.03" transform="translate(222.60 177.20) scale(0.9091 1)" >8</text>
<text x="0" y="2.10" font-size="5.83" text-anchor="middle" fill="#000" stroke="#000" stroke-width="0.03" transform="translate(230.00 177.20) scale(0.9091 1)" >9</text>
<text x="0" y="2.10" font-size="5.83" text-anchor="middle" fill="#000" stroke="#000" stroke-width="0.03" transform="translate(236.60 177.20) scale(0.9091 1)" >10</text>
<text x="0" y="2.10" font-size="5.83" text-anchor="middle" fill="#000" stroke="#000" stroke-width="0.03" transform="translate(244.50 177.20) scale(0.9091 1)" >11</text>
<text x="0" y="2.10" font-size="5.83" text-anchor="middle" fill="#000" stroke="#000" stroke-width="0.03" transform="translate(251.25 177.20) scale(0.9091 1)" >12</text>
<text x="0" y="1.98" font-size="5.50" text-anchor="middle" fill="#000" stroke="#000" stroke-width="0.03" transform="translate(140.50 179.50) scale(0.9091 1)" >kDa</text>
<text x="0" y="2.06" font-size="5.72" text-anchor="end" fill="#222" stroke="#222" stroke-width="0.03" transform="translate(145.50 182.50) scale(0.9091 1)" >250</text>
<text x="0" y="2.06" font-size="5.72" text-anchor="end" fill="#222" stroke="#222" stroke-width="0.03" transform="translate(145.50 185.50) scale(0.9091 1)" >150</text>
<text x="0" y="2.06" font-size="5.72" text-anchor="end" fill="#222" stroke="#222" stroke-width="0.03" transform="translate(145.50 191.00) scale(0.9091 1)" >100</text>
<text x="0" y="2.06" font-size="5.72" text-anchor="end" fill="#222" stroke="#222" stroke-width="0.03" transform="translate(145.50 196.00) scale(0.9091 1)" >75</text>
<text x="0" y="2.06" font-size="5.72" text-anchor="end" fill="#222" stroke="#222" stroke-width="0.03" transform="translate(145.50 199.50) scale(0.9091 1)" >50</text>
<text x="0" y="2.06" font-size="5.72" text-anchor="end" fill="#222" stroke="#222" stroke-width="0.03" transform="translate(145.50 208.00) scale(0.9091 1)" >37</text>
<text x="0" y="2.06" font-size="5.72" text-anchor="end" fill="#222" stroke="#222" stroke-width="0.03" transform="translate(145.50 219.00) scale(0.9091 1)" >25</text>
<text x="0" y="2.06" font-size="5.72" text-anchor="end" fill="#222" stroke="#222" stroke-width="0.03" transform="translate(145.50 226.00) scale(0.9091 1)" >20</text>
<text x="0" y="2.06" font-size="5.72" text-anchor="end" fill="#222" stroke="#222" stroke-width="0.03" transform="translate(145.50 235.00) scale(0.9091 1)" >15</text>
<text x="0" y="2.06" font-size="5.72" text-anchor="end" fill="#222" stroke="#222" stroke-width="0.03" transform="translate(145.50 246.00) scale(0.9091 1)" >10</text>
<linearGradient id="g6" x1="0" y1="0" x2="0" y2="1">
<stop offset="0" stop-color="#c4c4c4"/>
<stop offset="1" stop-color="#d6d6d6"/>
</linearGradient>
<rect x="145.50" y="180.50" width="8.50" height="73.50" fill="url(#g6)" />
<rect x="146.00" y="182.00" width="6.00" height="1.00" rx="0.50" fill="#222" fill-opacity="0.40"/>
<rect x="146.00" y="185.00" width="6.00" height="1.00" rx="0.50" fill="#222" fill-opacity="0.40"/>
<rect x="146.00" y="190.50" width="6.00" height="1.00" rx="0.50" fill="#222" fill-opacity="0.60"/>
<rect x="146.00" y="195.50" width="6.00" height="1.00" rx="0.50" fill="#222" fill-opacity="0.60"/>
<rect x="146.00" y="199.00" width="6.00" height="1.00" rx="0.50" fill="#222" fill-opacity="0.60"/>
<rect x="146.00" y="207.50" width="6.00" height="1.00" rx="0.50" fill="#222" fill-opacity="0.50"/>
<rect x="146.00" y="218.50" width="6.00" height="1.00" rx="0.50" fill="#222" fill-opacity="0.50"/>
<rect x="146.00" y="225.50" width="6.00" height="1.00" rx="0.50" fill="#222" fill-opacity="0.40"/>
<rect x="146.00" y="234.50" width="6.00" height="1.00" rx="0.50" fill="#222" fill-opacity="0.40"/>
<rect x="146.00" y="245.50" width="6.00" height="1.00" rx="0.50" fill="#222" fill-opacity="0.40"/>
<linearGradient id="g7" x1="0" y1="0" x2="0" y2="1">
<stop offset="0" stop-color="#c6c6c6"/>
<stop offset="0.5" stop-color="#d0d0d0"/>
<stop offset="1" stop-color="#dadada"/>
</linearGradient>
<rect x="153.75" y="180.00" width="38.75" height="74.00" fill="url(#g7)" stroke="#e0ae38" stroke-width="1.20" />
<ellipse cx="158.50" cy="190.80" rx="3.30" ry="1.60" fill="#080808" fill-opacity="0.95"/>
<ellipse cx="158.50" cy="183.20" rx="2.50" ry="0.45" fill="#444" fill-opacity="0.45"/>
<ellipse cx="158.50" cy="233.00" rx="3.00" ry="0.60" fill="#333" fill-opacity="0.60"/>
<ellipse cx="158.50" cy="236.20" rx="3.00" ry="0.60" fill="#333" fill-opacity="0.60"/>
<ellipse cx="165.50" cy="190.30" rx="3.60" ry="1.60" fill="#080808" fill-opacity="0.95"/>
<ellipse cx="165.50" cy="183.20" rx="2.80" ry="0.45" fill="#444" fill-opacity="0.45"/>
<ellipse cx="165.50" cy="233.00" rx="3.30" ry="0.60" fill="#333" fill-opacity="0.60"/>
<ellipse cx="165.50" cy="236.20" rx="3.30" ry="0.60" fill="#333" fill-opacity="0.60"/>
<ellipse cx="172.90" cy="189.80" rx="3.70" ry="1.60" fill="#080808" fill-opacity="0.95"/>
<ellipse cx="172.90" cy="183.20" rx="2.90" ry="0.45" fill="#444" fill-opacity="0.45"/>
<ellipse cx="172.90" cy="233.00" rx="3.40" ry="0.60" fill="#333" fill-opacity="0.60"/>
<ellipse cx="172.90" cy="236.20" rx="3.40" ry="0.60" fill="#333" fill-opacity="0.60"/>
<ellipse cx="180.65" cy="189.30" rx="3.45" ry="1.60" fill="#080808" fill-opacity="0.95"/>
<ellipse cx="180.65" cy="183.20" rx="2.65" ry="0.45" fill="#444" fill-opacity="0.45"/>
<ellipse cx="180.65" cy="233.00" rx="3.15" ry="0.60" fill="#333" fill-opacity="0.60"/>
<ellipse cx="180.65" cy="236.20" rx="3.15" ry="0.60" fill="#333" fill-opacity="0.60"/>
<ellipse cx="187.85" cy="188.80" rx="3.65" ry="1.60" fill="#080808" fill-opacity="0.95"/>
<ellipse cx="187.85" cy="183.20" rx="2.85" ry="0.45" fill="#444" fill-opacity="0.45"/>
<ellipse cx="187.85" cy="233.00" rx="3.35" ry="0.60" fill="#333" fill-opacity="0.60"/>
<ellipse cx="187.85" cy="236.20" rx="3.35" ry="0.60" fill="#333" fill-opacity="0.60"/>
<linearGradient id="g8" x1="0" y1="0" x2="0" y2="1">
<stop offset="0" stop-color="#a0a0a0"/>
<stop offset="1" stop-color="#b0b0b0"/>
</linearGradient>
<rect x="192.50" y="180.50" width="4.50" height="73.50" fill="url(#g8)" />
<rect x="193.00" y="182.05" width="3.50" height="0.90" rx="0.45" fill="#111" fill-opacity="0.70"/>
<rect x="193.00" y="184.55" width="3.50" height="0.90" rx="0.45" fill="#111" fill-opacity="0.70"/>
<rect x="193.00" y="190.55" width="3.50" height="0.90" rx="0.45" fill="#111" fill-opacity="0.70"/>
<rect x="193.00" y="195.55" width="3.50" height="0.90" rx="0.45" fill="#111" fill-opacity="0.70"/>
<rect x="193.00" y="199.55" width="3.50" height="0.90" rx="0.45" fill="#111" fill-opacity="0.70"/>
<rect x="193.00" y="207.55" width="3.50" height="0.90" rx="0.45" fill="#111" fill-opacity="0.70"/>
<rect x="193.00" y="218.55" width="3.50" height="0.90" rx="0.45" fill="#111" fill-opacity="0.70"/>
<rect x="193.00" y="225.55" width="3.50" height="0.90" rx="0.45" fill="#111" fill-opacity="0.70"/>
<rect x="193.00" y="234.55" width="3.50" height="0.90" rx="0.45" fill="#111" fill-opacity="0.70"/>
<rect x="193.00" y="245.55" width="3.50" height="0.90" rx="0.45" fill="#111" fill-opacity="0.70"/>
<linearGradient id="g9" x1="0" y1="0" x2="0" y2="1">
<stop offset="0" stop-color="#8a8a8a"/>
<stop offset="0.5" stop-color="#949494"/>
<stop offset="1" stop-color="#a2a2a2"/>
</linearGradient>
<rect x="197.00" y="180.00" width="59.40" height="74.50" fill="url(#g9)" stroke="#76bcee" stroke-width="1.30" />
<ellipse cx="201.40" cy="196.30" rx="3.30" ry="0.80" fill="#080808" fill-opacity="0.60"/>
<ellipse cx="201.40" cy="233.20" rx="3.20" ry="0.55" fill="#333" fill-opacity="0.45"/>
<ellipse cx="201.40" cy="236.20" rx="3.20" ry="0.55" fill="#333" fill-opacity="0.45"/>
<ellipse cx="208.40" cy="196.30" rx="3.30" ry="1.20" fill="#080808" fill-opacity="0.85"/>
<ellipse cx="208.40" cy="233.20" rx="3.20" ry="0.55" fill="#333" fill-opacity="0.45"/>
<ellipse cx="208.40" cy="236.20" rx="3.20" ry="0.55" fill="#333" fill-opacity="0.45"/>
<ellipse cx="215.10" cy="196.30" rx="3.30" ry="1.50" fill="#080808" fill-opacity="0.95"/>
<ellipse cx="215.10" cy="233.20" rx="3.20" ry="0.55" fill="#333" fill-opacity="0.45"/>
<ellipse cx="215.10" cy="236.20" rx="3.20" ry="0.55" fill="#333" fill-opacity="0.45"/>
<ellipse cx="223.10" cy="196.30" rx="3.30" ry="1.50" fill="#080808" fill-opacity="0.95"/>
<ellipse cx="223.10" cy="233.20" rx="3.20" ry="0.55" fill="#333" fill-opacity="0.45"/>
<ellipse cx="223.10" cy="236.20" rx="3.20" ry="0.55" fill="#333" fill-opacity="0.45"/>
<ellipse cx="230.50" cy="196.30" rx="3.30" ry="1.50" fill="#080808" fill-opacity="0.95"/>
<ellipse cx="230.50" cy="233.20" rx="3.20" ry="0.55" fill="#333" fill-opacity="0.45"/>
<ellipse cx="230.50" cy="236.20" rx="3.20" ry="0.55" fill="#333" fill-opacity="0.45"/>
<ellipse cx="237.10" cy="196.30" rx="3.30" ry="1.40" fill="#080808" fill-opacity="0.90"/>
<ellipse cx="237.10" cy="233.20" rx="3.20" ry="0.55" fill="#333" fill-opacity="0.45"/>
<ellipse cx="237.10" cy="236.20" rx="3.20" ry="0.55" fill="#333" fill-opacity="0.45"/>
<ellipse cx="245.00" cy="196.30" rx="3.30" ry="1.30" fill="#080808" fill-opacity="0.90"/>
<ellipse cx="245.00" cy="233.20" rx="3.20" ry="0.55" fill="#333" fill-opacity="0.45"/>
<ellipse cx="245.00" cy="236.20" rx="3.20" ry="0.55" fill="#333" fill-opacity="0.45"/>
<ellipse cx="251.75" cy="196.30" rx="3.30" ry="1.20" fill="#080808" fill-opacity="0.85"/>
<ellipse cx="251.75" cy="233.20" rx="3.20" ry="0.55" fill="#333" fill-opacity="0.45"/>
<ellipse cx="251.75" cy="236.20" rx="3.20" ry="0.55" fill="#333" fill-opacity="0.45"/>
<text x="0" y="2.77" font-size="7.70" text-anchor="start" fill="#222" stroke="#222" stroke-width="0.03" transform="translate(257.50 188.00) scale(0.9091 1)" >K</text>
<text x="0" y="2.77" font-size="7.70" text-anchor="start" fill="#222" stroke="#222" stroke-width="0.03" transform="translate(257.50 197.30) scale(0.9091 1)" >N<tspan font-size="4.77" dy="1.93">2</tspan></text>
<text x="0" y="2.77" font-size="7.70" text-anchor="start" fill="#222" stroke="#222" stroke-width="0.03" transform="translate(257.50 233.50) scale(0.9091 1)" >H</text>
<text x="0" y="4.79" font-size="13.30" text-anchor="start" fill="#000" stroke="#000" stroke-width="0.03" transform="translate(256.20 133.20) scale(1.0000 1)" >D</text>
<text x="0" y="3.17" font-size="8.80" text-anchor="start" fill="#000" stroke="#000" stroke-width="0.03" transform="translate(277.30 140.30) scale(0.9091 1)" textLength="178.75" lengthAdjust="spacingAndGlyphs" >MBP-Kap114 immobilized on amylose beads</text>
<text x="0" y="2.85" font-size="7.92" text-anchor="middle" fill="#000" stroke="#000" stroke-width="0.03" transform="translate(333.00 149.20) scale(0.9091 1)" textLength="23.01" lengthAdjust="spacingAndGlyphs" >Bound</text>
<line x1="305.40" y1="152.80" x2="361.20" y2="152.80" stroke="#777" stroke-width="1.00" />
<text x="0" y="2.85" font-size="7.92" text-anchor="middle" fill="#000" stroke="#000" stroke-width="0.03" transform="translate(398.70 149.20) scale(0.9091 1)" textLength="31.92" lengthAdjust="spacingAndGlyphs" >Unbound</text>
<line x1="370.40" y1="152.80" x2="428.90" y2="152.80" stroke="#777" stroke-width="1.00" />
<text x="0" y="2.46" font-size="6.82" text-anchor="end" fill="#000" stroke="#000" stroke-width="0.03" transform="translate(301.00 159.80) scale(0.9091 1)" textLength="32.58" lengthAdjust="spacingAndGlyphs" >Nap1 core:</text>
<text x="0" y="2.46" font-size="6.82" text-anchor="end" fill="#000" stroke="#000" stroke-width="0.03" transform="translate(301.00 167.30) scale(0.9091 1)" textLength="27.41" lengthAdjust="spacingAndGlyphs" >Nap1 FL:</text>
<text x="0" y="2.46" font-size="6.82" text-anchor="end" fill="#000" stroke="#000" stroke-width="0.03" transform="translate(301.50 176.00) scale(0.9091 1)" textLength="38.08" lengthAdjust="spacingAndGlyphs" >Sc H2A-H2B:</text>
<line x1="305.40" y1="158.80" x2="310.80" y2="158.80" stroke="#222" stroke-width="0.95" />
<line x1="305.40" y1="166.60" x2="310.80" y2="166.60" stroke="#222" stroke-width="0.95" />
<text x="0" y="2.85" font-size="7.92" text-anchor="middle" fill="#000" stroke="#000" stroke-width="0.03" transform="translate(308.10 175.70) scale(0.9091 1)" >1</text>
<line x1="315.70" y1="158.80" x2="319.10" y2="158.80" stroke="#111" stroke-width="0.80" />
<line x1="317.40" y1="157.10" x2="317.40" y2="160.50" stroke="#111" stroke-width="0.80" />
<line x1="314.70" y1="166.60" x2="320.10" y2="166.60" stroke="#222" stroke-width="0.95" />
<line x1="314.70" y1="175.70" x2="320.10" y2="175.70" stroke="#222" stroke-width="0.95" />
<line x1="323.80" y1="158.80" x2="327.20" y2="158.80" stroke="#111" stroke-width="0.80" />
<line x1="325.50" y1="157.10" x2="325.50" y2="160.50" stroke="#111" stroke-width="0.80" />
<line x1="322.80" y1="166.60" x2="328.20" y2="166.60" stroke="#222" stroke-width="0.95" />
<text x="0" y="2.85" font-size="7.92" text-anchor="middle" fill="#000" stroke="#000" stroke-width="0.03" transform="translate(325.50 175.70) scale(0.9091 1)" >1</text>
<line x1="332.90" y1="158.80" x2="336.30" y2="158.80" stroke="#111" stroke-width="0.80" />
<line x1="334.60" y1="157.10" x2="334.60" y2="160.50" stroke="#111" stroke-width="0.80" />
<line x1="331.90" y1="166.60" x2="337.30" y2="166.60" stroke="#222" stroke-width="0.95" />
<text x="0" y="2.85" font-size="7.92" text-anchor="middle" fill="#000" stroke="#000" stroke-width="0.03" transform="translate(334.60 175.70) scale(0.9091 1)" >2</text>
<line x1="339.90" y1="158.80" x2="345.30" y2="158.80" stroke="#222" stroke-width="0.95" />
<line x1="340.90" y1="166.60" x2="344.30" y2="166.60" stroke="#111" stroke-width="0.80" />
<line x1="342.60" y1="164.90" x2="342.60" y2="168.30" stroke="#111" stroke-width="0.80" />
<line x1="339.90" y1="175.70" x2="345.30" y2="175.70" stroke="#222" stroke-width="0.95" />
<line x1="348.60" y1="158.80" x2="354.00" y2="158.80" stroke="#222" stroke-width="0.95" />
<line x1="349.60" y1="166.60" x2="353.00" y2="166.60" stroke="#111" stroke-width="0.80" />
<line x1="351.30" y1="164.90" x2="351.30" y2="168.30" stroke="#111" stroke-width="0.80" />
<text x="0" y="2.85" font-size="7.92" text-anchor="middle" fill="#000" stroke="#000" stroke-width="0.03" transform="translate(351.30 175.70) scale(0.9091 1)" >1</text>
<line x1="356.90" y1="158.80" x2="362.30" y2="158.80" stroke="#222" stroke-width="0.95" />
<line x1="357.90" y1="166.60" x2="361.30" y2="166.60" stroke="#111" stroke-width="0.80" />
<line x1="359.60" y1="164.90" x2="359.60" y2="168.30" stroke="#111" stroke-width="0.80" />
<text x="0" y="2.85" font-size="7.92" text-anchor="middle" fill="#000" stroke="#000" stroke-width="0.03" transform="translate(359.60 175.70) scale(0.9091 1)" >2</text>
<line x1="371.30" y1="158.80" x2="376.70" y2="158.80" stroke="#222" stroke-width="0.95" />
<line x1="371.30" y1="166.60" x2="376.70" y2="166.60" stroke="#222" stroke-width="0.95" />
<text x="0" y="2.85" font-size="7.92" text-anchor="middle" fill="#000" stroke="#000" stroke-width="0.03" transform="translate(374.00 175.70) scale(0.9091 1)" >1</text>
<line x1="381.00" y1="158.80" x2="384.40" y2="158.80" stroke="#111" stroke-width="0.80" />
<line x1="382.70" y1="157.10" x2="382.70" y2="160.50" stroke="#111" stroke-width="0.80" />
<line x1="380.00" y1="166.60" x2="385.40" y2="166.60" stroke="#222" stroke-width="0.95" />
<line x1="380.00" y1="175.70" x2="385.40" y2="175.70" stroke="#222" stroke-width="0.95" />
<line x1="390.10" y1="158.80" x2="393.50" y2="158.80" stroke="#111" stroke-width="0.80" />
<line x1="391.80" y1="157.10" x2="391.80" y2="160.50" stroke="#111" stroke-width="0.80" />
<line x1="389.10" y1="166.60" x2="394.50" y2="166.60" stroke="#222" stroke-width="0.95" />
<text x="0" y="2.85" font-size="7.92" text-anchor="middle" fill="#000" stroke="#000" stroke-width="0.03" transform="translate(391.80 175.70) scale(0.9091 1)" >1</text>
<line x1="397.90" y1="158.80" x2="401.30" y2="158.80" stroke="#111" stroke-width="0.80" />
<line x1="399.60" y1="157.10" x2="399.60" y2="160.50" stroke="#111" stroke-width="0.80" />
<line x1="396.90" y1="166.60" x2="402.30" y2="166.60" stroke="#222" stroke-width="0.95" />
<text x="0" y="2.85" font-size="7.92" text-anchor="middle" fill="#000" stroke="#000" stroke-width="0.03" transform="translate(399.60 175.70) scale(0.9091 1)" >2</text>
<line x1="404.90" y1="158.80" x2="410.30" y2="158.80" stroke="#222" stroke-width="0.95" />
<line x1="405.90" y1="166.60" x2="409.30" y2="166.60" stroke="#111" stroke-width="0.80" />
<line x1="407.60" y1="164.90" x2="407.60" y2="168.30" stroke="#111" stroke-width="0.80" />
<line x1="404.90" y1="175.70" x2="410.30" y2="175.70" stroke="#222" stroke-width="0.95" />
<line x1="413.00" y1="158.80" x2="418.40" y2="158.80" stroke="#222" stroke-width="0.95" />
<line x1="414.00" y1="166.60" x2="417.40" y2="166.60" stroke="#111" stroke-width="0.80" />
<line x1="415.70" y1="164.90" x2="415.70" y2="168.30" stroke="#111" stroke-width="0.80" />
<text x="0" y="2.85" font-size="7.92" text-anchor="middle" fill="#000" stroke="#000" stroke-width="0.03" transform="translate(415.70 175.70) scale(0.9091 1)" >1</text>
<line x1="421.80" y1="158.80" x2="427.20" y2="158.80" stroke="#222" stroke-width="0.95" />
<line x1="422.80" y1="166.60" x2="426.20" y2="166.60" stroke="#111" stroke-width="0.80" />
<line x1="424.50" y1="164.90" x2="424.50" y2="168.30" stroke="#111" stroke-width="0.80" />
<text x="0" y="2.85" font-size="7.92" text-anchor="middle" fill="#000" stroke="#000" stroke-width="0.03" transform="translate(424.50 175.70) scale(0.9091 1)" >2</text>
<linearGradient id="g10" x1="0" y1="0" x2="0" y2="1">
<stop offset="0" stop-color="#909090"/>
<stop offset="0.06" stop-color="#aaaaaa"/>
<stop offset="0.5" stop-color="#b0b0b0"/>
<stop offset="1" stop-color="#b6b6b6"/>
</linearGradient>
<rect x="302.70" y="180.30" width="129.10" height="71.60" fill="url(#g10)" />
<text x="0" y="2.46" font-size="6.82" text-anchor="end" fill="#000" stroke="#000" stroke-width="0.03" transform="translate(300.40 184.40) scale(0.9091 1)" textLength="38.63" lengthAdjust="spacingAndGlyphs" >MBP-Kap114</text>
<text x="0" y="2.46" font-size="6.82" text-anchor="end" fill="#000" stroke="#000" stroke-width="0.03" transform="translate(302.50 195.80) scale(0.9091 1)" textLength="24.66" lengthAdjust="spacingAndGlyphs" >Nap1 FL</text>
<text x="0" y="2.46" font-size="6.82" text-anchor="end" fill="#000" stroke="#000" stroke-width="0.03" transform="translate(302.00 205.70) scale(0.9091 1)" textLength="29.83" lengthAdjust="spacingAndGlyphs" >Nap1 core</text>
<text x="0" y="2.46" font-size="6.82" text-anchor="end" fill="#000" stroke="#000" stroke-width="0.03" transform="translate(300.60 232.70) scale(0.9091 1)" textLength="25.43" lengthAdjust="spacingAndGlyphs" >H2A-H2B</text>
<rect x="304.30" y="182.20" width="7.80" height="5.00" rx="1.20" fill="#050505" fill-opacity="0.97"/>
<rect x="304.30" y="187.20" width="7.80" height="8.00" fill="#555" fill-opacity="0.22"/>
<ellipse cx="308.20" cy="232.50" rx="3.90" ry="0.70" fill="#111" fill-opacity="0.85"/>
<ellipse cx="308.20" cy="235.30" rx="3.90" ry="0.70" fill="#111" fill-opacity="0.85"/>
<rect x="313.00" y="182.20" width="8.00" height="5.00" rx="1.20" fill="#050505" fill-opacity="0.97"/>
<rect x="313.00" y="187.20" width="8.00" height="8.00" fill="#555" fill-opacity="0.22"/>
<ellipse cx="317.00" cy="206.40" rx="4.00" ry="1.00" fill="#080808" fill-opacity="0.95"/>
<rect x="322.00" y="182.20" width="7.80" height="5.00" rx="1.20" fill="#050505" fill-opacity="0.97"/>
<rect x="322.00" y="187.20" width="7.80" height="8.00" fill="#555" fill-opacity="0.22"/>
<ellipse cx="325.90" cy="206.40" rx="3.90" ry="1.00" fill="#080808" fill-opacity="0.95"/>
<ellipse cx="325.90" cy="233.70" rx="3.90" ry="0.70" fill="#111" fill-opacity="0.85"/>
<ellipse cx="325.90" cy="236.50" rx="3.90" ry="0.70" fill="#111" fill-opacity="0.85"/>
<rect x="331.00" y="182.20" width="7.60" height="5.00" rx="1.20" fill="#050505" fill-opacity="0.97"/>
<rect x="331.00" y="187.20" width="7.60" height="8.00" fill="#555" fill-opacity="0.22"/>
<ellipse cx="334.80" cy="206.40" rx="3.80" ry="1.00" fill="#080808" fill-opacity="0.95"/>
<ellipse cx="334.80" cy="233.70" rx="3.80" ry="0.70" fill="#111" fill-opacity="0.85"/>
<ellipse cx="334.80" cy="236.50" rx="3.80" ry="0.70" fill="#111" fill-opacity="0.85"/>
<rect x="339.80" y="182.20" width="7.80" height="5.00" rx="1.20" fill="#050505" fill-opacity="0.97"/>
<rect x="339.80" y="187.20" width="7.80" height="8.00" fill="#555" fill-opacity="0.22"/>
<ellipse cx="343.70" cy="197.90" rx="3.90" ry="1.00" fill="#101010" fill-opacity="0.85"/>
<rect x="348.30" y="182.20" width="7.40" height="5.00" rx="1.20" fill="#050505" fill-opacity="0.97"/>
<rect x="348.30" y="187.20" width="7.40" height="8.00" fill="#555" fill-opacity="0.22"/>
<ellipse cx="352.00" cy="197.90" rx="3.70" ry="1.00" fill="#101010" fill-opacity="0.85"/>
<ellipse cx="352.00" cy="235.30" rx="3.70" ry="0.70" fill="#111" fill-opacity="0.85"/>
<ellipse cx="352.00" cy="238.10" rx="3.70" ry="0.70" fill="#111" fill-opacity="0.85"/>
<rect x="356.50" y="182.20" width="7.70" height="5.00" rx="1.20" fill="#050505" fill-opacity="0.97"/>
<rect x="356.50" y="187.20" width="7.70" height="8.00" fill="#555" fill-opacity="0.22"/>
<ellipse cx="360.35" cy="197.90" rx="3.85" ry="1.00" fill="#101010" fill-opacity="0.85"/>
<ellipse cx="360.35" cy="235.30" rx="3.85" ry="0.70" fill="#111" fill-opacity="0.85"/>
<ellipse cx="360.35" cy="238.10" rx="3.85" ry="0.70" fill="#111" fill-opacity="0.85"/>
<ellipse cx="375.50" cy="184.40" rx="3.50" ry="0.75" fill="#444" fill-opacity="0.45"/>
<ellipse cx="375.50" cy="235.50" rx="3.50" ry="0.65" fill="#111" fill-opacity="0.20"/>
<ellipse cx="375.50" cy="237.70" rx="3.50" ry="0.65" fill="#111" fill-opacity="0.20"/>
<ellipse cx="383.85" cy="184.40" rx="3.55" ry="0.75" fill="#444" fill-opacity="0.45"/>
<ellipse cx="383.85" cy="207.10" rx="3.55" ry="1.00" fill="#080808" fill-opacity="0.90"/>
<ellipse cx="391.95" cy="184.40" rx="3.55" ry="0.75" fill="#444" fill-opacity="0.45"/>
<ellipse cx="391.95" cy="207.10" rx="3.55" ry="1.00" fill="#080808" fill-opacity="0.90"/>
<ellipse cx="391.95" cy="235.50" rx="3.55" ry="0.65" fill="#111" fill-opacity="0.30"/>
<ellipse cx="391.95" cy="237.70" rx="3.55" ry="0.65" fill="#111" fill-opacity="0.30"/>
<ellipse cx="399.90" cy="184.40" rx="3.40" ry="0.75" fill="#444" fill-opacity="0.45"/>
<ellipse cx="399.90" cy="207.10" rx="3.40" ry="1.00" fill="#080808" fill-opacity="0.90"/>
<ellipse cx="399.90" cy="235.50" rx="3.40" ry="0.65" fill="#111" fill-opacity="0.40"/>
<ellipse cx="399.90" cy="237.70" rx="3.40" ry="0.65" fill="#111" fill-opacity="0.40"/>
<ellipse cx="408.35" cy="184.40" rx="3.55" ry="0.75" fill="#444" fill-opacity="0.45"/>
<ellipse cx="408.35" cy="197.90" rx="3.55" ry="1.00" fill="#080808" fill-opacity="0.90"/>
<ellipse cx="416.35" cy="184.40" rx="3.35" ry="0.75" fill="#444" fill-opacity="0.45"/>
<ellipse cx="416.35" cy="197.90" rx="3.35" ry="1.00" fill="#080808" fill-opacity="0.90"/>
<ellipse cx="416.35" cy="235.50" rx="3.35" ry="0.65" fill="#111" fill-opacity="0.30"/>
<ellipse cx="416.35" cy="237.70" rx="3.35" ry="0.65" fill="#111" fill-opacity="0.30"/>
<ellipse cx="424.85" cy="184.40" rx="3.75" ry="0.75" fill="#444" fill-opacity="0.45"/>
<ellipse cx="424.85" cy="197.90" rx="3.75" ry="1.00" fill="#080808" fill-opacity="0.90"/>
<ellipse cx="424.85" cy="235.50" rx="3.75" ry="0.65" fill="#111" fill-opacity="0.40"/>
<ellipse cx="424.85" cy="237.70" rx="3.75" ry="0.65" fill="#111" fill-opacity="0.40"/>
<text x="0" y="1.58" font-size="4.40" text-anchor="middle" fill="#222" stroke="#222" stroke-width="0.03" transform="translate(371.00 180.10) scale(0.9091 1)" >kDa</text>
<text x="0" y="2.06" font-size="5.72" text-anchor="start" fill="#333" stroke="#333" stroke-width="0.03" transform="translate(370.70 190.80) scale(0.9091 1)" >100</text>
<text x="0" y="2.06" font-size="5.72" text-anchor="start" fill="#333" stroke="#333" stroke-width="0.03" transform="translate(370.70 194.80) scale(0.9091 1)" >75</text>
<text x="0" y="2.06" font-size="5.72" text-anchor="start" fill="#333" stroke="#333" stroke-width="0.03" transform="translate(370.70 201.40) scale(0.9091 1)" >50</text>
<text x="0" y="2.06" font-size="5.72" text-anchor="start" fill="#333" stroke="#333" stroke-width="0.03" transform="translate(370.70 208.20) scale(0.9091 1)" >37</text>
<text x="0" y="2.06" font-size="5.72" text-anchor="start" fill="#333" stroke="#333" stroke-width="0.03" transform="translate(370.70 223.20) scale(0.9091 1)" >25</text>
<text x="0" y="2.06" font-size="5.72" text-anchor="start" fill="#333" stroke="#333" stroke-width="0.03" transform="translate(370.70 228.40) scale(0.9091 1)" >20</text>
<text x="0" y="2.06" font-size="5.72" text-anchor="start" fill="#333" stroke="#333" stroke-width="0.03" transform="translate(370.70 239.80) scale(0.9091 1)" >15</text>
<text x="0" y="2.06" font-size="5.72" text-anchor="start" fill="#333" stroke="#333" stroke-width="0.03" transform="translate(370.70 250.40) scale(0.9091 1)" >10</text>
<rect x="365.50" y="182.40" width="4.50" height="1.20" rx="0.60" fill="#111" fill-opacity="0.50"/>
<rect x="365.50" y="185.40" width="4.50" height="1.20" rx="0.60" fill="#111" fill-opacity="0.50"/>
<rect x="365.50" y="190.90" width="4.50" height="1.20" rx="0.60" fill="#111" fill-opacity="0.80"/>
<rect x="365.50" y="198.70" width="4.50" height="1.20" rx="0.60" fill="#111" fill-opacity="0.80"/>
<rect x="365.50" y="205.80" width="4.50" height="1.20" rx="0.60" fill="#111" fill-opacity="0.80"/>
<rect x="365.50" y="218.90" width="4.50" height="1.20" rx="0.60" fill="#111" fill-opacity="0.90"/>
<rect x="365.50" y="225.70" width="4.50" height="1.20" rx="0.60" fill="#111" fill-opacity="0.50"/>
<rect x="365.50" y="247.40" width="4.50" height="1.20" rx="0.60" fill="#111" fill-opacity="0.50"/>
<text x="0" y="2.06" font-size="5.72" text-anchor="middle" fill="#222" stroke="#222" stroke-width="0.03" transform="translate(310.60 247.60) scale(0.9091 1)" >1</text>
<text x="0" y="2.06" font-size="5.72" text-anchor="middle" fill="#222" stroke="#222" stroke-width="0.03" transform="translate(318.50 247.60) scale(0.9091 1)" >2</text>
<text x="0" y="2.06" font-size="5.72" text-anchor="middle" fill="#222" stroke="#222" stroke-width="0.03" transform="translate(327.00 247.60) scale(0.9091 1)" >3</text>
<text x="0" y="2.06" font-size="5.72" text-anchor="middle" fill="#222" stroke="#222" stroke-width="0.03" transform="translate(335.50 247.60) scale(0.9091 1)" >4</text>
<text x="0" y="2.06" font-size="5.72" text-anchor="middle" fill="#222" stroke="#222" stroke-width="0.03" transform="translate(344.00 247.60) scale(0.9091 1)" >5</text>
<text x="0" y="2.06" font-size="5.72" text-anchor="middle" fill="#222" stroke="#222" stroke-width="0.03" transform="translate(352.30 247.60) scale(0.9091 1)" >6</text>
<text x="0" y="2.06" font-size="5.72" text-anchor="middle" fill="#222" stroke="#222" stroke-width="0.03" transform="translate(361.00 247.60) scale(0.9091 1)" >7</text>
<text x="0" y="2.06" font-size="5.72" text-anchor="middle" fill="#222" stroke="#222" stroke-width="0.03" transform="translate(377.00 247.60) scale(0.9091 1)" >8</text>
<text x="0" y="2.06" font-size="5.72" text-anchor="middle" fill="#222" stroke="#222" stroke-width="0.03" transform="translate(383.50 247.60) scale(0.9091 1)" >9</text>
<text x="0" y="2.06" font-size="5.72" text-anchor="middle" fill="#222" stroke="#222" stroke-width="0.03" transform="translate(392.00 247.60) scale(0.9091 1)" >10</text>
<text x="0" y="2.06" font-size="5.72" text-anchor="middle" fill="#222" stroke="#222" stroke-width="0.03" transform="translate(400.50 247.60) scale(0.9091 1)" >11</text>
<text x="0" y="2.06" font-size="5.72" text-anchor="middle" fill="#222" stroke="#222" stroke-width="0.03" transform="translate(408.30 247.60) scale(0.9091 1)" >12</text>
<text x="0" y="2.06" font-size="5.72" text-anchor="middle" fill="#222" stroke="#222" stroke-width="0.03" transform="translate(416.80 247.60) scale(0.9091 1)" >13</text>
<text x="0" y="2.06" font-size="5.72" text-anchor="middle" fill="#222" stroke="#222" stroke-width="0.03" transform="translate(425.40 247.60) scale(0.9091 1)" >14</text>
<text x="0" y="2.57" font-size="7.15" text-anchor="start" fill="#000" stroke="#000" stroke-width="0.03" transform="translate(465.50 155.60) scale(0.9091 1)" textLength="47.80" lengthAdjust="spacingAndGlyphs" >Quantification of</text>
<text x="0" y="2.57" font-size="7.15" text-anchor="start" fill="#000" stroke="#000" stroke-width="0.03" transform="translate(468.00 162.00) scale(0.9091 1)" textLength="42.84" lengthAdjust="spacingAndGlyphs" >bound Nap1 FL</text>
<path d="M456.60,168.00 L517.00,168.00 L517.00,228.50" fill="none" stroke="#888" stroke-width="0.8"/>
<path d="M456.60,168.00 L456.60,228.50 L517.00,228.50" fill="none" stroke="#333" stroke-width="0.9"/>
<line x1="460.00" y1="204.25" x2="461.20" y2="204.25" stroke="#ddd" stroke-width="0.40" />
<line x1="463.00" y1="204.25" x2="464.20" y2="204.25" stroke="#ddd" stroke-width="0.40" />
<line x1="466.00" y1="204.25" x2="467.20" y2="204.25" stroke="#ddd" stroke-width="0.40" />
<line x1="469.00" y1="204.25" x2="470.20" y2="204.25" stroke="#ddd" stroke-width="0.40" />
<line x1="472.00" y1="204.25" x2="473.20" y2="204.25" stroke="#ddd" stroke-width="0.40" />
<line x1="475.00" y1="204.25" x2="476.20" y2="204.25" stroke="#ddd" stroke-width="0.40" />
<line x1="478.00" y1="204.25" x2="479.20" y2="204.25" stroke="#ddd" stroke-width="0.40" />
<line x1="481.00" y1="204.25" x2="482.20" y2="204.25" stroke="#ddd" stroke-width="0.40" />
<line x1="484.00" y1="204.25" x2="485.20" y2="204.25" stroke="#ddd" stroke-width="0.40" />
<line x1="487.00" y1="204.25" x2="488.20" y2="204.25" stroke="#ddd" stroke-width="0.40" />
<line x1="490.00" y1="204.25" x2="491.20" y2="204.25" stroke="#ddd" stroke-width="0.40" />
<line x1="493.00" y1="204.25" x2="494.20" y2="204.25" stroke="#ddd" stroke-width="0.40" />
<line x1="496.00" y1="204.25" x2="497.20" y2="204.25" stroke="#ddd" stroke-width="0.40" />
<line x1="499.00" y1="204.25" x2="500.20" y2="204.25" stroke="#ddd" stroke-width="0.40" />
<line x1="502.00" y1="204.25" x2="503.20" y2="204.25" stroke="#ddd" stroke-width="0.40" />
<line x1="505.00" y1="204.25" x2="506.20" y2="204.25" stroke="#ddd" stroke-width="0.40" />
<line x1="508.00" y1="204.25" x2="509.20" y2="204.25" stroke="#ddd" stroke-width="0.40" />
<line x1="511.00" y1="204.25" x2="512.20" y2="204.25" stroke="#ddd" stroke-width="0.40" />
<line x1="514.00" y1="204.25" x2="515.20" y2="204.25" stroke="#ddd" stroke-width="0.40" />
<line x1="455.10" y1="228.50" x2="456.60" y2="228.50" stroke="#333" stroke-width="0.70" />
<text x="0" y="2.83" font-size="7.88" text-anchor="end" fill="#000" stroke="#000" stroke-width="0.03" transform="translate(455.30 228.50) scale(0.9524 1)" >0</text>
<line x1="455.10" y1="204.25" x2="456.60" y2="204.25" stroke="#333" stroke-width="0.70" />
<text x="0" y="2.83" font-size="7.88" text-anchor="end" fill="#000" stroke="#000" stroke-width="0.03" transform="translate(455.30 204.25) scale(0.9524 1)" >0.5</text>
<line x1="455.10" y1="180.00" x2="456.60" y2="180.00" stroke="#333" stroke-width="0.70" />
<text x="0" y="2.83" font-size="7.88" text-anchor="end" fill="#000" stroke="#000" stroke-width="0.03" transform="translate(455.30 180.00) scale(0.9524 1)" >1</text>
<rect x="462.00" y="180.00" width="10.30" height="48.50" fill="#fff" stroke="#444" stroke-width="0.80" />
<line x1="467.15" y1="228.50" x2="467.15" y2="230.00" stroke="#333" stroke-width="0.60" />
<text x="0" y="2.83" font-size="7.88" text-anchor="middle" fill="#000" stroke="#000" stroke-width="0.03" transform="translate(467.15 233.50) scale(0.9524 1)" >0</text>
<rect x="482.50" y="183.39" width="9.90" height="45.11" fill="#fff" stroke="#444" stroke-width="0.80" />
<line x1="487.45" y1="181.70" x2="487.45" y2="185.09" stroke="#222" stroke-width="0.70" />
<line x1="486.45" y1="181.70" x2="488.45" y2="181.70" stroke="#222" stroke-width="0.60" />
<line x1="487.45" y1="228.50" x2="487.45" y2="230.00" stroke="#333" stroke-width="0.60" />
<text x="0" y="2.83" font-size="7.88" text-anchor="middle" fill="#000" stroke="#000" stroke-width="0.03" transform="translate(487.45 233.50) scale(0.9524 1)" >1</text>
<rect x="502.20" y="191.16" width="9.90" height="37.34" fill="#fff" stroke="#444" stroke-width="0.80" />
<line x1="507.15" y1="188.73" x2="507.15" y2="193.58" stroke="#222" stroke-width="0.70" />
<line x1="506.15" y1="188.73" x2="508.15" y2="188.73" stroke="#222" stroke-width="0.60" />
<line x1="507.15" y1="228.50" x2="507.15" y2="230.00" stroke="#333" stroke-width="0.60" />
<text x="0" y="2.83" font-size="7.88" text-anchor="middle" fill="#000" stroke="#000" stroke-width="0.03" transform="translate(507.15 233.50) scale(0.9524 1)" >2</text>
<path d="M491.50,177.10 L491.50,175.50 L513.00,175.50 L513.00,181.80" stroke="#666" stroke-width="0.60" fill="none" stroke-linejoin="round" stroke-linecap="round" />
<text x="0" y="1.82" font-size="5.06" text-anchor="middle" fill="#333" stroke="#333" stroke-width="0.03" transform="translate(502.50 172.40) scale(0.9091 1)" textLength="21.96" lengthAdjust="spacingAndGlyphs" >p = 0.07</text>
<text x="0" y="2.57" font-size="7.15" text-anchor="middle" fill="#000" stroke="#000" stroke-width="0.03" transform="translate(487.50 239.50) scale(0.9091 1)" textLength="40.32" lengthAdjust="spacingAndGlyphs" >Molar ratio of</text>
<text x="0" y="2.57" font-size="7.15" text-anchor="middle" fill="#000" stroke="#000" stroke-width="0.03" transform="translate(487.50 247.60) scale(0.9091 1)" textLength="56.27" lengthAdjust="spacingAndGlyphs" >Sc H2A-H2B added</text>
<text x="0" y="2.57" font-size="7.15" text-anchor="middle" fill="#000" stroke="#000" stroke-width="0.03" transform="translate(441.00 196.00) rotate(-90) scale(0.9091 1)" textLength="93.12" lengthAdjust="spacingAndGlyphs" >Relative density of Nap1 bands</text>
<text x="0" y="5.04" font-size="14.00" text-anchor="start" fill="#000" stroke="#000" stroke-width="0.03" transform="translate(0.00 265.70) scale(1.0000 1)" >E</text>
<text x="0" y="3.37" font-size="9.35" text-anchor="start" fill="#000" stroke="#000" stroke-width="0.03" transform="translate(52.50 268.00) scale(0.9091 1)" textLength="53.19" lengthAdjust="spacingAndGlyphs" >Immobilized</text>
<text x="0" y="3.37" font-size="9.35" text-anchor="start" fill="#000" stroke="#000" stroke-width="0.03" transform="translate(26.25 276.80) scale(0.9091 1)" textLength="108.19" lengthAdjust="spacingAndGlyphs" >MBP-Kap114 + Nap1<tspan font-size="5.80" dy="2.34">2</tspan><tspan dy="-2.34"> FL</tspan></text>
<text x="0" y="2.85" font-size="7.92" text-anchor="start" fill="#000" stroke="#000" stroke-width="0.03" transform="translate(50.00 286.00) scale(0.9091 1)" textLength="25.54" lengthAdjust="spacingAndGlyphs" >Bound</text>
<line x1="45.00" y1="290.20" x2="75.00" y2="290.20" stroke="#777" stroke-width="1.00" />
<text x="0" y="2.85" font-size="7.92" text-anchor="start" fill="#000" stroke="#000" stroke-width="0.03" transform="translate(82.50 286.00) scale(0.9091 1)" textLength="35.17" lengthAdjust="spacingAndGlyphs" >Unbound</text>
<line x1="80.00" y1="290.20" x2="116.25" y2="290.20" stroke="#777" stroke-width="1.00" />
<text x="0" y="2.30" font-size="6.38" text-anchor="end" fill="#000" stroke="#000" stroke-width="0.03" transform="translate(45.00 297.50) scale(0.9091 1)" textLength="41.89" lengthAdjust="spacingAndGlyphs" >Xl H2A-H2B:</text>
<line x1="48.90" y1="297.50" x2="54.90" y2="297.50" stroke="#222" stroke-width="0.95" />
<text x="0" y="2.77" font-size="7.70" text-anchor="middle" fill="#000" stroke="#000" stroke-width="0.03" transform="translate(60.60 297.50) scale(0.9091 1)" >1</text>
<text x="0" y="2.77" font-size="7.70" text-anchor="middle" fill="#000" stroke="#000" stroke-width="0.03" transform="translate(71.25 297.50) scale(0.9091 1)" >2</text>
<line x1="89.50" y1="297.50" x2="95.50" y2="297.50" stroke="#222" stroke-width="0.95" />
<text x="0" y="2.77" font-size="7.70" text-anchor="middle" fill="#000" stroke="#000" stroke-width="0.03" transform="translate(101.60 297.50) scale(0.9091 1)" >1</text>
<text x="0" y="2.77" font-size="7.70" text-anchor="middle" fill="#000" stroke="#000" stroke-width="0.03" transform="translate(110.00 297.50) scale(0.9091 1)" >2</text>
<linearGradient id="g11" x1="0" y1="0" x2="0" y2="1">
<stop offset="0" stop-color="#cecece"/>
<stop offset="0.5" stop-color="#d6d6d6"/>
<stop offset="1" stop-color="#dadada"/>
</linearGradient>
<rect x="38.00" y="305.20" width="40.20" height="78.50" fill="url(#g11)" />
<linearGradient id="g12" x1="0" y1="0" x2="0" y2="1">
<stop offset="0" stop-color="#cacaca"/>
<stop offset="0.15" stop-color="#d8d8d8"/>
<stop offset="1" stop-color="#dedede"/>
</linearGradient>
<rect x="83.30" y="305.20" width="35.50" height="78.50" fill="url(#g12)" />
<rect x="39.50" y="307.35" width="6.50" height="1.30" rx="0.65" fill="#333" fill-opacity="0.30"/>
<rect x="39.50" y="310.35" width="6.50" height="1.30" rx="0.65" fill="#333" fill-opacity="0.30"/>
<rect x="39.50" y="313.85" width="6.50" height="1.30" rx="0.65" fill="#333" fill-opacity="0.30"/>
<rect x="39.50" y="320.05" width="6.50" height="1.30" rx="0.65" fill="#333" fill-opacity="0.55"/>
<rect x="39.50" y="328.35" width="6.50" height="1.30" rx="0.65" fill="#333" fill-opacity="0.55"/>
<rect x="39.50" y="336.55" width="6.50" height="1.30" rx="0.65" fill="#333" fill-opacity="0.55"/>
<rect x="39.50" y="350.65" width="6.50" height="1.30" rx="0.65" fill="#333" fill-opacity="0.90"/>
<rect x="39.50" y="358.95" width="6.50" height="1.30" rx="0.65" fill="#333" fill-opacity="0.50"/>
<rect x="39.50" y="369.35" width="6.50" height="1.30" rx="0.65" fill="#333" fill-opacity="0.35"/>
<rect x="39.50" y="379.75" width="6.50" height="1.30" rx="0.65" fill="#333" fill-opacity="0.45"/>
<text x="0" y="2.61" font-size="7.26" text-anchor="end" fill="#000" stroke="#000" stroke-width="0.03" transform="translate(37.20 312.40) scale(0.9091 1)" textLength="39.34" lengthAdjust="spacingAndGlyphs" >MBP-Kap114</text>
<text x="0" y="2.61" font-size="7.26" text-anchor="end" fill="#000" stroke="#000" stroke-width="0.03" transform="translate(37.20 328.50) scale(0.9091 1)" textLength="25.48" lengthAdjust="spacingAndGlyphs" >Nap1 FL</text>
<text x="0" y="2.61" font-size="7.26" text-anchor="end" fill="#000" stroke="#000" stroke-width="0.03" transform="translate(37.20 370.50) scale(0.9091 1)" textLength="28.34" lengthAdjust="spacingAndGlyphs" >H2A-H2B</text>
<rect x="46.70" y="310.40" width="9.50" height="3.60" rx="1.20" fill="#080808" fill-opacity="0.95"/>
<rect x="46.70" y="313.70" width="9.50" height="3.00" rx="1.20" fill="#222" fill-opacity="0.70"/>
<rect x="46.70" y="316.00" width="9.50" height="9.00" fill="#555" fill-opacity="0.2"/>
<ellipse cx="51.45" cy="327.70" rx="4.75" ry="0.90" fill="#111" fill-opacity="0.85"/>
<text x="0" y="2.22" font-size="6.16" text-anchor="middle" fill="#222" stroke="#222" stroke-width="0.03" transform="translate(51.90 380.40) scale(0.9091 1)" >1</text>
<rect x="57.00" y="310.40" width="8.50" height="3.60" rx="1.20" fill="#080808" fill-opacity="0.95"/>
<rect x="57.00" y="313.70" width="8.50" height="3.00" rx="1.20" fill="#222" fill-opacity="0.70"/>
<rect x="57.00" y="316.00" width="8.50" height="9.00" fill="#555" fill-opacity="0.2"/>
<ellipse cx="61.25" cy="327.70" rx="4.25" ry="1.15" fill="#111" fill-opacity="0.95"/>
<ellipse cx="61.25" cy="370.00" rx="4.25" ry="1.20" fill="#050505" fill-opacity="0.97"/>
<text x="0" y="2.22" font-size="6.16" text-anchor="middle" fill="#222" stroke="#222" stroke-width="0.03" transform="translate(61.40 380.40) scale(0.9091 1)" >2</text>
<rect x="66.90" y="310.40" width="9.50" height="3.60" rx="1.20" fill="#080808" fill-opacity="0.95"/>
<rect x="66.90" y="313.70" width="9.50" height="3.00" rx="1.20" fill="#222" fill-opacity="0.70"/>
<rect x="66.90" y="316.00" width="9.50" height="9.00" fill="#555" fill-opacity="0.2"/>
<ellipse cx="71.65" cy="327.70" rx="4.75" ry="0.90" fill="#111" fill-opacity="0.85"/>
<ellipse cx="71.65" cy="370.00" rx="4.75" ry="1.20" fill="#050505" fill-opacity="0.97"/>
<text x="0" y="2.22" font-size="6.16" text-anchor="middle" fill="#222" stroke="#222" stroke-width="0.03" transform="translate(71.00 380.40) scale(0.9091 1)" >3</text>
<ellipse cx="95.40" cy="309.80" rx="3.75" ry="0.55" fill="#444" fill-opacity="0.45"/>
<ellipse cx="95.40" cy="312.40" rx="3.75" ry="0.55" fill="#444" fill-opacity="0.45"/>
<ellipse cx="95.40" cy="326.80" rx="4.00" ry="0.90" fill="#111" fill-opacity="0.80"/>
<text x="0" y="2.22" font-size="6.16" text-anchor="middle" fill="#222" stroke="#222" stroke-width="0.03" transform="translate(95.40 380.40) scale(0.9091 1)" >4</text>
<ellipse cx="104.60" cy="309.80" rx="3.75" ry="0.55" fill="#444" fill-opacity="0.45"/>
<ellipse cx="104.60" cy="312.40" rx="3.75" ry="0.55" fill="#444" fill-opacity="0.45"/>
<ellipse cx="104.60" cy="326.80" rx="4.00" ry="0.90" fill="#111" fill-opacity="0.80"/>
<ellipse cx="104.60" cy="369.10" rx="3.75" ry="0.90" fill="#111" fill-opacity="0.35"/>
<text x="0" y="2.22" font-size="6.16" text-anchor="middle" fill="#222" stroke="#222" stroke-width="0.03" transform="translate(104.60 380.40) scale(0.9091 1)" >5</text>
<ellipse cx="113.90" cy="309.80" rx="3.75" ry="0.55" fill="#444" fill-opacity="0.45"/>
<ellipse cx="113.90" cy="312.40" rx="3.75" ry="0.55" fill="#444" fill-opacity="0.45"/>
<ellipse cx="113.90" cy="326.80" rx="4.00" ry="0.90" fill="#111" fill-opacity="0.80"/>
<ellipse cx="113.90" cy="369.10" rx="3.75" ry="0.90" fill="#111" fill-opacity="0.85"/>
<text x="0" y="2.22" font-size="6.16" text-anchor="middle" fill="#222" stroke="#222" stroke-width="0.03" transform="translate(113.90 380.40) scale(0.9091 1)" >6</text>
<text x="0" y="1.98" font-size="5.50" text-anchor="end" fill="#333" stroke="#333" stroke-width="0.03" transform="translate(84.00 304.30) scale(0.9091 1)" >kDa</text>
<text x="0" y="1.98" font-size="5.50" text-anchor="end" fill="#333" stroke="#333" stroke-width="0.03" transform="translate(84.00 308.60) scale(0.9091 1)" >250</text>
<text x="0" y="1.98" font-size="5.50" text-anchor="end" fill="#333" stroke="#333" stroke-width="0.03" transform="translate(84.00 311.20) scale(0.9091 1)" >150</text>
<text x="0" y="1.98" font-size="5.50" text-anchor="end" fill="#333" stroke="#333" stroke-width="0.03" transform="translate(84.00 315.60) scale(0.9091 1)" >100</text>
<text x="0" y="1.98" font-size="5.50" text-anchor="end" fill="#333" stroke="#333" stroke-width="0.03" transform="translate(84.00 320.40) scale(0.9091 1)" >75</text>
<text x="0" y="1.98" font-size="5.50" text-anchor="end" fill="#333" stroke="#333" stroke-width="0.03" transform="translate(84.00 328.50) scale(0.9091 1)" >50</text>
<text x="0" y="1.98" font-size="5.50" text-anchor="end" fill="#333" stroke="#333" stroke-width="0.03" transform="translate(84.00 336.60) scale(0.9091 1)" >37</text>
<text x="0" y="1.98" font-size="5.50" text-anchor="end" fill="#333" stroke="#333" stroke-width="0.03" transform="translate(84.00 351.30) scale(0.9091 1)" >25</text>
<text x="0" y="1.98" font-size="5.50" text-anchor="end" fill="#333" stroke="#333" stroke-width="0.03" transform="translate(84.00 359.60) scale(0.9091 1)" >20</text>
<text x="0" y="1.98" font-size="5.50" text-anchor="end" fill="#333" stroke="#333" stroke-width="0.03" transform="translate(84.00 369.10) scale(0.9091 1)" >15</text>
<text x="0" y="1.98" font-size="5.50" text-anchor="end" fill="#333" stroke="#333" stroke-width="0.03" transform="translate(84.00 381.20) scale(0.9091 1)" >10</text>
<rect x="84.20" y="308.05" width="4.30" height="1.10" rx="0.55" fill="#222" fill-opacity="0.40"/>
<rect x="84.20" y="310.65" width="4.30" height="1.10" rx="0.55" fill="#222" fill-opacity="0.40"/>
<rect x="84.20" y="315.05" width="4.30" height="1.10" rx="0.55" fill="#222" fill-opacity="0.40"/>
<rect x="84.20" y="319.85" width="4.30" height="1.10" rx="0.55" fill="#222" fill-opacity="0.40"/>
<rect x="84.20" y="327.95" width="4.30" height="1.10" rx="0.55" fill="#222" fill-opacity="0.60"/>
<rect x="84.20" y="336.05" width="4.30" height="1.10" rx="0.55" fill="#222" fill-opacity="0.50"/>
<rect x="84.20" y="350.75" width="4.30" height="1.10" rx="0.55" fill="#222" fill-opacity="0.80"/>
<rect x="84.20" y="359.05" width="4.30" height="1.10" rx="0.55" fill="#222" fill-opacity="0.40"/>
<rect x="84.20" y="368.55" width="4.30" height="1.10" rx="0.55" fill="#222" fill-opacity="0.40"/>
<rect x="84.20" y="380.65" width="4.30" height="1.10" rx="0.55" fill="#222" fill-opacity="0.40"/>
<text x="0" y="2.57" font-size="7.15" text-anchor="middle" fill="#000" stroke="#000" stroke-width="0.03" transform="translate(127.50 330.00) rotate(-90) scale(0.9091 1)" textLength="98.62" lengthAdjust="spacingAndGlyphs" >Relative density of Nap1 bands</text>
<text x="0" y="2.57" font-size="7.15" text-anchor="start" fill="#000" stroke="#000" stroke-width="0.03" transform="translate(150.60 283.70) scale(0.9091 1)" textLength="49.66" lengthAdjust="spacingAndGlyphs" >Quantification of</text>
<text x="0" y="2.57" font-size="7.15" text-anchor="start" fill="#000" stroke="#000" stroke-width="0.03" transform="translate(153.90 291.30) scale(0.9091 1)" textLength="43.62" lengthAdjust="spacingAndGlyphs" >bound Nap1 FL</text>
<path d="M143.40,297.80 L205.90,297.80 L205.90,361.80" fill="none" stroke="#888" stroke-width="0.8"/>
<path d="M143.40,297.80 L143.40,361.80 L205.90,361.80" fill="none" stroke="#222" stroke-width="0.9"/>
<line x1="141.90" y1="361.80" x2="143.40" y2="361.80" stroke="#333" stroke-width="0.70" />
<text x="0" y="2.65" font-size="7.35" text-anchor="end" fill="#000" stroke="#000" stroke-width="0.03" transform="translate(140.00 361.80) scale(0.9524 1)" >0</text>
<line x1="141.90" y1="340.47" x2="143.40" y2="340.47" stroke="#333" stroke-width="0.70" />
<text x="0" y="2.65" font-size="7.35" text-anchor="end" fill="#000" stroke="#000" stroke-width="0.03" transform="translate(140.00 340.47) scale(0.9524 1)" >0.5</text>
<line x1="141.90" y1="319.13" x2="143.40" y2="319.13" stroke="#333" stroke-width="0.70" />
<text x="0" y="2.65" font-size="7.35" text-anchor="end" fill="#000" stroke="#000" stroke-width="0.03" transform="translate(140.00 319.13) scale(0.9524 1)" >1</text>
<line x1="141.90" y1="297.80" x2="143.40" y2="297.80" stroke="#333" stroke-width="0.70" />
<text x="0" y="2.65" font-size="7.35" text-anchor="end" fill="#000" stroke="#000" stroke-width="0.03" transform="translate(140.00 297.80) scale(0.9524 1)" >1.5</text>
<rect x="149.10" y="319.13" width="9.80" height="42.67" fill="#6e6e6e" stroke="#333" stroke-width="0.70" />
<text x="0" y="2.65" font-size="7.35" text-anchor="middle" fill="#000" stroke="#000" stroke-width="0.03" transform="translate(153.90 366.10) scale(0.9524 1)" >0</text>
<rect x="169.70" y="308.47" width="9.80" height="53.33" fill="#9ccc5a" stroke="#333" stroke-width="0.70" />
<line x1="174.60" y1="307.10" x2="174.60" y2="312.30" stroke="#222" stroke-width="0.70" />
<line x1="173.60" y1="307.10" x2="175.60" y2="307.10" stroke="#222" stroke-width="0.60" />
<text x="0" y="2.65" font-size="7.35" text-anchor="middle" fill="#000" stroke="#000" stroke-width="0.03" transform="translate(174.50 366.10) scale(0.9524 1)" >1</text>
<rect x="189.70" y="323.83" width="9.70" height="37.97" fill="#9ccc5a" stroke="#333" stroke-width="0.70" />
<line x1="194.55" y1="318.40" x2="194.55" y2="328.10" stroke="#222" stroke-width="0.70" />
<line x1="193.55" y1="318.40" x2="195.55" y2="318.40" stroke="#222" stroke-width="0.60" />
<text x="0" y="2.65" font-size="7.35" text-anchor="middle" fill="#000" stroke="#000" stroke-width="0.03" transform="translate(194.00 366.10) scale(0.9524 1)" >2</text>
<path d="M174.50,307.50 L174.50,304.30 L195.10,304.30 L195.10,327.10" stroke="#777" stroke-width="0.60" fill="none" stroke-linejoin="round" stroke-linecap="round" />
<text x="0" y="1.74" font-size="4.84" text-anchor="middle" fill="#333" stroke="#333" stroke-width="0.03" transform="translate(184.80 302.60) scale(0.9091 1)" textLength="23.03" lengthAdjust="spacingAndGlyphs" >* p=0.047</text>
<text x="0" y="2.57" font-size="7.15" text-anchor="middle" fill="#000" stroke="#000" stroke-width="0.03" transform="translate(172.30 373.70) scale(0.9091 1)" textLength="38.89" lengthAdjust="spacingAndGlyphs" font-style="italic">Molar ratio of</text>
<text x="0" y="2.57" font-size="7.15" text-anchor="middle" fill="#000" stroke="#000" stroke-width="0.03" transform="translate(173.70 381.30) scale(0.9091 1)" textLength="56.38" lengthAdjust="spacingAndGlyphs" >Xl H2A-H2B added</text>
<text x="0" y="5.22" font-size="14.50" text-anchor="start" fill="#000" stroke="#000" stroke-width="0.03" transform="translate(216.50 266.00) scale(1.0000 1)" >G</text>
<text x="0" y="3.45" font-size="9.57" text-anchor="start" fill="#000" stroke="#000" stroke-width="0.03" transform="translate(266.50 264.50) scale(0.9091 1)" textLength="243.51" lengthAdjust="spacingAndGlyphs" >SEC-MALS analysis of Kap114 + Nap1<tspan font-size="5.93" dy="2.39">2</tspan><tspan dy="-2.39"> FL + H2A-H2B</tspan></text>
<line x1="258.00" y1="275.30" x2="272.50" y2="275.30" stroke="#555" stroke-width="1.30" />
<text x="0" y="2.77" font-size="7.70" text-anchor="start" fill="#000" stroke="#000" stroke-width="0.03" transform="translate(274.60 275.30) scale(0.9091 1)" textLength="12.54" lengthAdjust="spacingAndGlyphs" >dRI</text>
<line x1="291.00" y1="275.30" x2="305.50" y2="275.30" stroke="#000" stroke-width="1.90" />
<text x="0" y="2.77" font-size="7.70" text-anchor="start" fill="#000" stroke="#000" stroke-width="0.03" transform="translate(306.90 275.30) scale(0.9091 1)" textLength="16.61" lengthAdjust="spacingAndGlyphs" >kDa</text>
<line x1="324.20" y1="275.30" x2="340.10" y2="275.30" stroke="#000" stroke-width="1.30" stroke-dasharray="1.8,0.9" />
<text x="0" y="2.77" font-size="7.70" text-anchor="start" fill="#000" stroke="#000" stroke-width="0.03" transform="translate(341.50 275.30) scale(0.9091 1)" textLength="64.24" lengthAdjust="spacingAndGlyphs" >Theorectical mass</text>
<line x1="264.20" y1="305.50" x2="353.60" y2="305.50" stroke="#3a5fc8" stroke-width="1.00" stroke-dasharray="1.3,0.9" />
<line x1="264.20" y1="309.60" x2="353.60" y2="309.60" stroke="#e07a2a" stroke-width="1.00" stroke-dasharray="1.3,0.9" />
<line x1="264.20" y1="335.40" x2="353.60" y2="335.40" stroke="#f0b030" stroke-width="1.00" stroke-dasharray="1.3,0.9" />
<line x1="264.20" y1="337.70" x2="353.60" y2="337.70" stroke="#3a5fc8" stroke-width="1.00" stroke-dasharray="1.3,0.9" />
<path d="M264.20,370.80 C267.93,370.80 282.33,370.98 286.55,370.80 C290.77,370.62 288.54,370.62 289.53,369.71 C290.52,368.80 291.64,370.62 292.51,365.34 C293.38,360.06 294.06,347.68 294.75,338.02 C295.43,328.37 296.02,313.63 296.61,307.44 C297.19,301.24 297.69,298.51 298.25,300.88 C298.81,303.25 299.43,315.45 299.96,321.64 C300.49,327.83 300.83,333.47 301.45,338.02 C302.07,342.58 302.82,346.95 303.69,348.95 C304.55,350.95 305.62,350.22 306.67,350.04 C307.71,349.86 308.95,347.49 309.94,347.86 C310.94,348.22 311.73,350.41 312.62,352.23 C313.52,354.05 314.19,356.42 315.31,358.78 C316.42,361.15 317.91,364.70 319.33,366.43 C320.75,368.16 321.81,368.49 323.80,369.16 C325.79,369.83 326.28,370.20 331.25,370.47 C336.22,370.75 349.88,370.75 353.60,370.80" stroke="#f5a030" stroke-width="0.90" fill="none" stroke-linejoin="round" stroke-linecap="round" />
<path d="M264.20,370.80 C268.55,370.80 285.31,371.35 290.27,370.80 C295.24,370.25 292.88,372.07 294.00,367.52 C295.12,362.97 295.92,351.13 296.98,343.49 C298.04,335.84 299.34,324.00 300.33,321.64 C301.33,319.27 302.13,326.37 302.94,329.29 C303.75,332.20 304.36,336.93 305.18,339.12 C305.99,341.30 306.99,343.12 307.86,342.39 C308.73,341.67 309.51,337.84 310.39,334.75 C311.27,331.65 312.28,323.28 313.15,323.82 C314.02,324.37 314.72,332.38 315.61,338.02 C316.49,343.67 317.32,352.96 318.44,357.69 C319.55,362.42 320.17,364.34 322.31,366.43 C324.45,368.52 326.03,369.53 331.25,370.25 C336.47,370.98 349.88,370.71 353.60,370.80" stroke="#a8a0f8" stroke-width="0.90" fill="none" stroke-linejoin="round" stroke-linecap="round" />
<path d="M294.37,288.64 C294.68,291.31 295.59,300.30 296.24,304.63 C296.88,308.95 297.20,311.33 298.25,314.61 C299.29,317.90 301.08,321.86 302.49,324.35 C303.91,326.85 305.32,327.93 306.74,329.60 C308.16,331.26 309.56,333.26 310.99,334.34 C312.41,335.42 313.72,336.09 315.31,336.09 C316.90,336.09 319.65,334.63 320.52,334.34" stroke="#5a3aa8" stroke-width="1.50" fill="none" stroke-linejoin="round" stroke-linecap="round" />
<path d="M294.00,310.12 C294.37,310.33 295.34,310.87 296.24,311.37 C297.13,311.87 298.12,312.08 299.36,313.12 C300.61,314.16 302.46,315.95 303.69,317.61 C304.91,319.28 305.70,321.11 306.74,323.10 C307.78,325.10 308.88,327.97 309.94,329.60 C311.01,331.22 312.08,332.51 313.15,332.84 C314.21,333.18 315.82,331.80 316.35,331.59" stroke="#a05a20" stroke-width="1.50" fill="none" stroke-linejoin="round" stroke-linecap="round" />
<path d="M264.20,283.40 L264.20,370.80 L353.60,370.80 L353.60,283.40" fill="none" stroke="#333" stroke-width="0.9"/>
<line x1="262.40" y1="370.80" x2="264.20" y2="370.80" stroke="#333" stroke-width="0.70" />
<text x="0" y="2.65" font-size="7.35" text-anchor="end" fill="#000" stroke="#000" stroke-width="0.03" transform="translate(259.50 370.80) scale(0.9524 1)" >0</text>
<line x1="262.40" y1="359.88" x2="264.20" y2="359.88" stroke="#333" stroke-width="0.70" />
<text x="0" y="2.65" font-size="7.35" text-anchor="end" fill="#000" stroke="#000" stroke-width="0.03" transform="translate(259.50 359.88) scale(0.9524 1)" >0.1</text>
<line x1="262.40" y1="348.95" x2="264.20" y2="348.95" stroke="#333" stroke-width="0.70" />
<text x="0" y="2.65" font-size="7.35" text-anchor="end" fill="#000" stroke="#000" stroke-width="0.03" transform="translate(259.50 348.95) scale(0.9524 1)" >0.2</text>
<line x1="262.40" y1="338.02" x2="264.20" y2="338.02" stroke="#333" stroke-width="0.70" />
<text x="0" y="2.65" font-size="7.35" text-anchor="end" fill="#000" stroke="#000" stroke-width="0.03" transform="translate(259.50 338.02) scale(0.9524 1)" >0.3</text>
<line x1="262.40" y1="327.10" x2="264.20" y2="327.10" stroke="#333" stroke-width="0.70" />
<text x="0" y="2.65" font-size="7.35" text-anchor="end" fill="#000" stroke="#000" stroke-width="0.03" transform="translate(259.50 327.10) scale(0.9524 1)" >0.4</text>
<line x1="262.40" y1="316.18" x2="264.20" y2="316.18" stroke="#333" stroke-width="0.70" />
<text x="0" y="2.65" font-size="7.35" text-anchor="end" fill="#000" stroke="#000" stroke-width="0.03" transform="translate(259.50 316.18) scale(0.9524 1)" >0.5</text>
<line x1="262.40" y1="305.25" x2="264.20" y2="305.25" stroke="#333" stroke-width="0.70" />
<text x="0" y="2.65" font-size="7.35" text-anchor="end" fill="#000" stroke="#000" stroke-width="0.03" transform="translate(259.50 305.25) scale(0.9524 1)" >0.6</text>
<line x1="262.40" y1="294.32" x2="264.20" y2="294.32" stroke="#333" stroke-width="0.70" />
<text x="0" y="2.65" font-size="7.35" text-anchor="end" fill="#000" stroke="#000" stroke-width="0.03" transform="translate(259.50 294.32) scale(0.9524 1)" >0.7</text>
<line x1="262.40" y1="283.40" x2="264.20" y2="283.40" stroke="#333" stroke-width="0.70" />
<text x="0" y="2.65" font-size="7.35" text-anchor="end" fill="#000" stroke="#000" stroke-width="0.03" transform="translate(259.50 283.40) scale(0.9524 1)" >0.8</text>
<line x1="353.60" y1="370.80" x2="355.40" y2="370.80" stroke="#333" stroke-width="0.70" />
<line x1="353.60" y1="368.30" x2="354.60" y2="368.30" stroke="#333" stroke-width="0.50" />
<line x1="353.60" y1="365.81" x2="354.60" y2="365.81" stroke="#333" stroke-width="0.50" />
<line x1="353.60" y1="363.31" x2="354.60" y2="363.31" stroke="#333" stroke-width="0.50" />
<line x1="353.60" y1="360.81" x2="354.60" y2="360.81" stroke="#333" stroke-width="0.50" />
<text x="0" y="2.49" font-size="6.93" text-anchor="start" fill="#000" stroke="#000" stroke-width="0.03" transform="translate(358.30 370.80) scale(0.9091 1)" >0</text>
<line x1="353.60" y1="358.31" x2="355.40" y2="358.31" stroke="#333" stroke-width="0.70" />
<line x1="353.60" y1="355.82" x2="354.60" y2="355.82" stroke="#333" stroke-width="0.50" />
<line x1="353.60" y1="353.32" x2="354.60" y2="353.32" stroke="#333" stroke-width="0.50" />
<line x1="353.60" y1="350.82" x2="354.60" y2="350.82" stroke="#333" stroke-width="0.50" />
<line x1="353.60" y1="348.33" x2="354.60" y2="348.33" stroke="#333" stroke-width="0.50" />
<text x="0" y="2.49" font-size="6.93" text-anchor="start" fill="#000" stroke="#000" stroke-width="0.03" transform="translate(358.30 358.31) scale(0.9091 1)" >50</text>
<line x1="353.60" y1="345.83" x2="355.40" y2="345.83" stroke="#333" stroke-width="0.70" />
<line x1="353.60" y1="343.33" x2="354.60" y2="343.33" stroke="#333" stroke-width="0.50" />
<line x1="353.60" y1="340.83" x2="354.60" y2="340.83" stroke="#333" stroke-width="0.50" />
<line x1="353.60" y1="338.34" x2="354.60" y2="338.34" stroke="#333" stroke-width="0.50" />
<line x1="353.60" y1="335.84" x2="354.60" y2="335.84" stroke="#333" stroke-width="0.50" />
<text x="0" y="2.49" font-size="6.93" text-anchor="start" fill="#000" stroke="#000" stroke-width="0.03" transform="translate(358.30 345.83) scale(0.9091 1)" >100</text>
<line x1="353.60" y1="333.34" x2="355.40" y2="333.34" stroke="#333" stroke-width="0.70" />
<line x1="353.60" y1="330.85" x2="354.60" y2="330.85" stroke="#333" stroke-width="0.50" />
<line x1="353.60" y1="328.35" x2="354.60" y2="328.35" stroke="#333" stroke-width="0.50" />
<line x1="353.60" y1="325.85" x2="354.60" y2="325.85" stroke="#333" stroke-width="0.50" />
<line x1="353.60" y1="323.35" x2="354.60" y2="323.35" stroke="#333" stroke-width="0.50" />
<text x="0" y="2.49" font-size="6.93" text-anchor="start" fill="#000" stroke="#000" stroke-width="0.03" transform="translate(358.30 333.34) scale(0.9091 1)" >150</text>
<line x1="353.60" y1="320.86" x2="355.40" y2="320.86" stroke="#333" stroke-width="0.70" />
<line x1="353.60" y1="318.36" x2="354.60" y2="318.36" stroke="#333" stroke-width="0.50" />
<line x1="353.60" y1="315.86" x2="354.60" y2="315.86" stroke="#333" stroke-width="0.50" />
<line x1="353.60" y1="313.37" x2="354.60" y2="313.37" stroke="#333" stroke-width="0.50" />
<line x1="353.60" y1="310.87" x2="354.60" y2="310.87" stroke="#333" stroke-width="0.50" />
<text x="0" y="2.49" font-size="6.93" text-anchor="start" fill="#000" stroke="#000" stroke-width="0.03" transform="translate(358.30 320.86) scale(0.9091 1)" >200</text>
<line x1="353.60" y1="308.37" x2="355.40" y2="308.37" stroke="#333" stroke-width="0.70" />
<line x1="353.60" y1="305.87" x2="354.60" y2="305.87" stroke="#333" stroke-width="0.50" />
<line x1="353.60" y1="303.38" x2="354.60" y2="303.38" stroke="#333" stroke-width="0.50" />
<line x1="353.60" y1="300.88" x2="354.60" y2="300.88" stroke="#333" stroke-width="0.50" />
<line x1="353.60" y1="298.38" x2="354.60" y2="298.38" stroke="#333" stroke-width="0.50" />
<text x="0" y="2.49" font-size="6.93" text-anchor="start" fill="#000" stroke="#000" stroke-width="0.03" transform="translate(358.30 308.37) scale(0.9091 1)" >250</text>
<line x1="353.60" y1="295.89" x2="355.40" y2="295.89" stroke="#333" stroke-width="0.70" />
<line x1="353.60" y1="293.39" x2="354.60" y2="293.39" stroke="#333" stroke-width="0.50" />
<line x1="353.60" y1="290.89" x2="354.60" y2="290.89" stroke="#333" stroke-width="0.50" />
<line x1="353.60" y1="288.39" x2="354.60" y2="288.39" stroke="#333" stroke-width="0.50" />
<line x1="353.60" y1="285.90" x2="354.60" y2="285.90" stroke="#333" stroke-width="0.50" />
<text x="0" y="2.49" font-size="6.93" text-anchor="start" fill="#000" stroke="#000" stroke-width="0.03" transform="translate(358.30 295.89) scale(0.9091 1)" >300</text>
<line x1="353.60" y1="283.40" x2="355.40" y2="283.40" stroke="#333" stroke-width="0.70" />
<text x="0" y="2.49" font-size="6.93" text-anchor="start" fill="#000" stroke="#000" stroke-width="0.03" transform="translate(358.30 283.40) scale(0.9091 1)" >350</text>
<line x1="264.20" y1="370.80" x2="264.20" y2="372.60" stroke="#333" stroke-width="0.70" />
<line x1="271.65" y1="370.80" x2="271.65" y2="371.80" stroke="#333" stroke-width="0.70" />
<line x1="279.10" y1="370.80" x2="279.10" y2="372.60" stroke="#333" stroke-width="0.70" />
<line x1="286.55" y1="370.80" x2="286.55" y2="371.80" stroke="#333" stroke-width="0.70" />
<line x1="294.00" y1="370.80" x2="294.00" y2="372.60" stroke="#333" stroke-width="0.70" />
<line x1="301.45" y1="370.80" x2="301.45" y2="371.80" stroke="#333" stroke-width="0.70" />
<line x1="308.90" y1="370.80" x2="308.90" y2="372.60" stroke="#333" stroke-width="0.70" />
<line x1="316.35" y1="370.80" x2="316.35" y2="371.80" stroke="#333" stroke-width="0.70" />
<line x1="323.80" y1="370.80" x2="323.80" y2="372.60" stroke="#333" stroke-width="0.70" />
<line x1="331.25" y1="370.80" x2="331.25" y2="371.80" stroke="#333" stroke-width="0.70" />
<line x1="338.70" y1="370.80" x2="338.70" y2="372.60" stroke="#333" stroke-width="0.70" />
<line x1="346.15" y1="370.80" x2="346.15" y2="371.80" stroke="#333" stroke-width="0.70" />
<line x1="353.60" y1="370.80" x2="353.60" y2="372.60" stroke="#333" stroke-width="0.70" />
<text x="0" y="2.65" font-size="7.35" text-anchor="middle" fill="#000" stroke="#000" stroke-width="0.03" transform="translate(264.20 378.30) scale(0.9524 1)" >6</text>
<text x="0" y="2.65" font-size="7.35" text-anchor="middle" fill="#000" stroke="#000" stroke-width="0.03" transform="translate(279.10 378.30) scale(0.9524 1)" >8</text>
<text x="0" y="2.65" font-size="7.35" text-anchor="middle" fill="#000" stroke="#000" stroke-width="0.03" transform="translate(294.00 378.30) scale(0.9524 1)" >10</text>
<text x="0" y="2.65" font-size="7.35" text-anchor="middle" fill="#000" stroke="#000" stroke-width="0.03" transform="translate(308.90 378.30) scale(0.9524 1)" >12</text>
<text x="0" y="2.65" font-size="7.35" text-anchor="middle" fill="#000" stroke="#000" stroke-width="0.03" transform="translate(323.80 378.30) scale(0.9524 1)" >14</text>
<text x="0" y="2.65" font-size="7.35" text-anchor="middle" fill="#000" stroke="#000" stroke-width="0.03" transform="translate(338.70 378.30) scale(0.9524 1)" >16</text>
<text x="0" y="2.65" font-size="7.35" text-anchor="middle" fill="#000" stroke="#000" stroke-width="0.03" transform="translate(353.60 378.30) scale(0.9524 1)" >18</text>
<text x="0" y="2.77" font-size="7.70" text-anchor="middle" fill="#000" stroke="#000" stroke-width="0.03" transform="translate(311.50 384.70) scale(0.9091 1)" textLength="45.87" lengthAdjust="spacingAndGlyphs" >Volume (mL)</text>
<text x="0" y="2.65" font-size="7.37" text-anchor="middle" fill="#000" stroke="#000" stroke-width="0.03" transform="translate(244.50 329.60) rotate(-90) scale(0.9091 1)" textLength="95.34" lengthAdjust="spacingAndGlyphs" >Differential Refractive Index</text>
<text x="0" y="2.97" font-size="8.25" text-anchor="middle" fill="#000" stroke="#000" stroke-width="0.03" transform="translate(373.80 327.40) rotate(90) scale(0.9091 1)" textLength="78.93" lengthAdjust="spacingAndGlyphs" >Molecular Mass (kDa)</text>
<text x="0" y="2.77" font-size="7.70" text-anchor="end" fill="#3a5fc8" stroke="#3a5fc8" stroke-width="0.03" transform="translate(352.30 299.50) scale(0.9091 1)" textLength="29.59" lengthAdjust="spacingAndGlyphs" >2(N<tspan font-size="4.77" dy="1.93">2</tspan><tspan dy="-1.93">)2H</tspan></text>
<text x="0" y="2.77" font-size="7.70" text-anchor="end" fill="#c06a28" stroke="#c06a28" stroke-width="0.03" transform="translate(350.10 314.10) scale(0.9091 1)" textLength="24.31" lengthAdjust="spacingAndGlyphs" >KH(N<tspan font-size="4.77" dy="1.93">2</tspan><tspan dy="-1.93">)</tspan></text>
<text x="0" y="2.77" font-size="7.70" text-anchor="end" fill="#d8a020" stroke="#d8a020" stroke-width="0.03" transform="translate(351.20 330.60) scale(0.9091 1)" textLength="11.44" lengthAdjust="spacingAndGlyphs" >KH</text>
<text x="0" y="2.77" font-size="7.70" text-anchor="end" fill="#3a5fc8" stroke="#3a5fc8" stroke-width="0.03" transform="translate(352.30 342.00) scale(0.9091 1)" textLength="16.17" lengthAdjust="spacingAndGlyphs" >N<tspan font-size="4.77" dy="1.93">2</tspan><tspan dy="-1.93">H</tspan></text>
<text x="0" y="2.97" font-size="8.25" text-anchor="middle" fill="#f0a030" stroke="#f0a030" stroke-width="0.03" transform="translate(304.60 295.20) scale(0.9091 1)" >1</text>
<text x="0" y="2.97" font-size="8.25" text-anchor="middle" fill="#a8a0f0" stroke="#a8a0f0" stroke-width="0.03" transform="translate(320.10 317.30) scale(0.9091 1)" >2</text>
<text x="0" y="2.97" font-size="8.25" text-anchor="middle" fill="#f0a030" stroke="#f0a030" stroke-width="0.03" transform="translate(314.70 354.70) scale(0.9091 1)" >2</text>
<text x="0" y="1.50" font-size="4.18" text-anchor="middle" fill="#333" stroke="#333" stroke-width="0.03" transform="translate(293.40 366.10) scale(0.9091 1)" >3</text>
<text x="0" y="1.50" font-size="4.18" text-anchor="middle" fill="#333" stroke="#333" stroke-width="0.03" transform="translate(303.50 366.10) scale(0.9091 1)" >9</text>
<text x="0" y="1.50" font-size="4.18" text-anchor="middle" fill="#333" stroke="#333" stroke-width="0.03" transform="translate(313.50 366.10) scale(0.9091 1)" >14</text>
<text x="0" y="2.97" font-size="8.25" text-anchor="start" fill="#f0a030" stroke="#f0a030" stroke-width="0.03" transform="translate(388.00 287.90) scale(0.9091 1)" textLength="116.77" lengthAdjust="spacingAndGlyphs" >1:1:1 Kap114 + Nap1<tspan font-size="5.12" dy="2.06">2</tspan><tspan dy="-2.06"> + H2A-H2B</tspan></text>
<text x="0" y="2.97" font-size="8.25" text-anchor="start" fill="#9088ec" stroke="#9088ec" stroke-width="0.03" transform="translate(388.00 297.60) scale(0.9091 1)" textLength="117.65" lengthAdjust="spacingAndGlyphs" >1:1:2 Kap114 + Nap1<tspan font-size="5.12" dy="2.06">2</tspan><tspan dy="-2.06"> + H2A-H2B</tspan></text>
<linearGradient id="g13" x1="0" y1="0" x2="0" y2="1">
<stop offset="0" stop-color="#a2a2a2"/>
<stop offset="0.5" stop-color="#acacac"/>
<stop offset="1" stop-color="#b8b8b8"/>
</linearGradient>
<rect x="386.70" y="310.00" width="108.80" height="65.40" fill="url(#g13)" />
<linearGradient id="g14" x1="0" y1="0" x2="0" y2="1">
<stop offset="0" stop-color="#c0c0c0"/>
<stop offset="0.5" stop-color="#d0d0d0"/>
<stop offset="1" stop-color="#dcdcdc"/>
</linearGradient>
<rect x="457.00" y="310.00" width="30.20" height="65.20" fill="url(#g14)" />
<linearGradient id="g15" x1="0" y1="0" x2="0" y2="1">
<stop offset="0" stop-color="#acacac"/>
<stop offset="1" stop-color="#c2c2c2"/>
</linearGradient>
<rect x="441.80" y="310.00" width="15.20" height="65.20" fill="url(#g15)" />
<linearGradient id="g16" x1="0" y1="0" x2="0" y2="1">
<stop offset="0" stop-color="#b8b8b8"/>
<stop offset="1" stop-color="#cacaca"/>
</linearGradient>
<rect x="487.20" y="310.00" width="8.30" height="65.20" fill="url(#g16)" />
<rect x="386.70" y="310.00" width="108.80" height="65.40" fill="none" stroke="#8f86f0" stroke-width="1.30" />
<rect x="403.30" y="310.30" width="38.50" height="64.90" fill="none" stroke="#4a4a4a" stroke-width="0.80" />
<rect x="457.00" y="310.30" width="30.20" height="64.90" fill="none" stroke="#4a4a4a" stroke-width="0.80" />
<text x="0" y="2.10" font-size="5.83" text-anchor="middle" fill="#000" stroke="#000" stroke-width="0.03" transform="translate(390.40 305.90) scale(0.9091 1)" >#</text>
<text x="0" y="2.10" font-size="5.83" text-anchor="middle" fill="#000" stroke="#000" stroke-width="0.03" transform="translate(398.10 305.90) scale(0.9091 1)" >3</text>
<text x="0" y="2.10" font-size="5.83" text-anchor="middle" fill="#000" stroke="#000" stroke-width="0.03" transform="translate(405.50 305.90) scale(0.9091 1)" >4</text>
<text x="0" y="2.10" font-size="5.83" text-anchor="middle" fill="#000" stroke="#000" stroke-width="0.03" transform="translate(413.60 305.90) scale(0.9091 1)" >5</text>
<text x="0" y="2.10" font-size="5.83" text-anchor="middle" fill="#000" stroke="#000" stroke-width="0.03" transform="translate(421.50 305.90) scale(0.9091 1)" >6</text>
<text x="0" y="2.10" font-size="5.83" text-anchor="middle" fill="#000" stroke="#000" stroke-width="0.03" transform="translate(429.30 305.90) scale(0.9091 1)" >7</text>
<text x="0" y="2.10" font-size="5.83" text-anchor="middle" fill="#000" stroke="#000" stroke-width="0.03" transform="translate(437.00 305.90) scale(0.9091 1)" >8</text>
<text x="0" y="2.10" font-size="5.83" text-anchor="middle" fill="#000" stroke="#000" stroke-width="0.03" transform="translate(443.80 305.90) scale(0.9091 1)" >9</text>
<text x="0" y="2.10" font-size="5.83" text-anchor="middle" fill="#000" stroke="#000" stroke-width="0.03" transform="translate(451.40 305.90) scale(0.9091 1)" >10</text>
<text x="0" y="2.10" font-size="5.83" text-anchor="middle" fill="#000" stroke="#000" stroke-width="0.03" transform="translate(459.00 305.90) scale(0.9091 1)" >11</text>
<text x="0" y="2.10" font-size="5.83" text-anchor="middle" fill="#000" stroke="#000" stroke-width="0.03" transform="translate(465.90 305.90) scale(0.9091 1)" >12</text>
<text x="0" y="2.10" font-size="5.83" text-anchor="middle" fill="#000" stroke="#000" stroke-width="0.03" transform="translate(473.50 305.90) scale(0.9091 1)" >13</text>
<text x="0" y="2.10" font-size="5.83" text-anchor="middle" fill="#000" stroke="#000" stroke-width="0.03" transform="translate(481.40 305.90) scale(0.9091 1)" >14</text>
<text x="0" y="2.10" font-size="5.83" text-anchor="middle" fill="#000" stroke="#000" stroke-width="0.03" transform="translate(489.70 305.90) scale(0.9091 1)" >15</text>
<ellipse cx="398.70" cy="318.00" rx="3.35" ry="0.65" fill="#080808" fill-opacity="0.30"/>
<ellipse cx="398.70" cy="326.80" rx="3.35" ry="1.20" fill="#050505" fill-opacity="0.85"/>
<ellipse cx="398.70" cy="360.50" rx="3.35" ry="0.70" fill="#222" fill-opacity="0.35"/>
<ellipse cx="398.70" cy="363.10" rx="3.35" ry="0.70" fill="#222" fill-opacity="0.35"/>
<ellipse cx="406.80" cy="318.00" rx="3.55" ry="0.75" fill="#080808" fill-opacity="0.40"/>
<ellipse cx="406.80" cy="326.80" rx="3.55" ry="1.50" fill="#050505" fill-opacity="0.97"/>
<ellipse cx="406.80" cy="360.50" rx="3.55" ry="0.70" fill="#222" fill-opacity="0.65"/>
<ellipse cx="406.80" cy="363.10" rx="3.55" ry="0.70" fill="#222" fill-opacity="0.65"/>
<ellipse cx="414.75" cy="318.00" rx="3.90" ry="0.80" fill="#080808" fill-opacity="0.45"/>
<ellipse cx="414.75" cy="326.80" rx="3.90" ry="1.50" fill="#050505" fill-opacity="0.97"/>
<ellipse cx="414.75" cy="360.50" rx="3.90" ry="0.70" fill="#222" fill-opacity="0.70"/>
<ellipse cx="414.75" cy="363.10" rx="3.90" ry="0.70" fill="#222" fill-opacity="0.70"/>
<ellipse cx="422.50" cy="318.00" rx="3.75" ry="0.80" fill="#080808" fill-opacity="0.50"/>
<ellipse cx="422.50" cy="326.80" rx="3.75" ry="1.50" fill="#050505" fill-opacity="0.97"/>
<ellipse cx="422.50" cy="360.50" rx="3.75" ry="0.70" fill="#222" fill-opacity="0.70"/>
<ellipse cx="422.50" cy="363.10" rx="3.75" ry="0.70" fill="#222" fill-opacity="0.70"/>
<ellipse cx="430.30" cy="318.00" rx="3.85" ry="0.85" fill="#080808" fill-opacity="0.55"/>
<ellipse cx="430.30" cy="326.80" rx="3.85" ry="1.40" fill="#050505" fill-opacity="0.95"/>
<ellipse cx="430.30" cy="360.50" rx="3.85" ry="0.70" fill="#222" fill-opacity="0.70"/>
<ellipse cx="430.30" cy="363.10" rx="3.85" ry="0.70" fill="#222" fill-opacity="0.70"/>
<ellipse cx="437.20" cy="318.00" rx="3.15" ry="0.90" fill="#080808" fill-opacity="0.60"/>
<ellipse cx="437.20" cy="326.80" rx="3.15" ry="1.30" fill="#050505" fill-opacity="0.90"/>
<ellipse cx="437.20" cy="360.50" rx="3.15" ry="0.70" fill="#222" fill-opacity="0.70"/>
<ellipse cx="437.20" cy="363.10" rx="3.15" ry="0.70" fill="#222" fill-opacity="0.70"/>
<ellipse cx="445.50" cy="318.00" rx="3.25" ry="1.10" fill="#080808" fill-opacity="0.80"/>
<ellipse cx="445.50" cy="325.80" rx="3.25" ry="1.10" fill="#050505" fill-opacity="0.80"/>
<ellipse cx="445.50" cy="360.50" rx="3.25" ry="0.70" fill="#222" fill-opacity="0.60"/>
<ellipse cx="445.50" cy="363.10" rx="3.25" ry="0.70" fill="#222" fill-opacity="0.60"/>
<ellipse cx="452.50" cy="318.00" rx="3.25" ry="1.10" fill="#080808" fill-opacity="0.80"/>
<ellipse cx="452.50" cy="325.80" rx="3.25" ry="1.00" fill="#050505" fill-opacity="0.75"/>
<ellipse cx="452.50" cy="360.50" rx="3.25" ry="0.70" fill="#222" fill-opacity="0.60"/>
<ellipse cx="452.50" cy="363.10" rx="3.25" ry="0.70" fill="#222" fill-opacity="0.60"/>
<ellipse cx="460.65" cy="318.00" rx="3.10" ry="1.40" fill="#080808" fill-opacity="0.95"/>
<ellipse cx="460.65" cy="325.80" rx="3.10" ry="0.75" fill="#050505" fill-opacity="0.40"/>
<ellipse cx="460.65" cy="360.50" rx="3.10" ry="0.70" fill="#222" fill-opacity="0.60"/>
<ellipse cx="460.65" cy="363.10" rx="3.10" ry="0.70" fill="#222" fill-opacity="0.60"/>
<ellipse cx="467.50" cy="318.00" rx="3.25" ry="1.50" fill="#080808" fill-opacity="0.97"/>
<ellipse cx="467.50" cy="325.80" rx="3.25" ry="0.70" fill="#050505" fill-opacity="0.30"/>
<ellipse cx="467.50" cy="360.50" rx="3.25" ry="0.70" fill="#222" fill-opacity="0.65"/>
<ellipse cx="467.50" cy="363.10" rx="3.25" ry="0.70" fill="#222" fill-opacity="0.65"/>
<ellipse cx="474.50" cy="318.00" rx="3.25" ry="1.40" fill="#080808" fill-opacity="0.95"/>
<ellipse cx="474.50" cy="325.80" rx="3.25" ry="0.70" fill="#050505" fill-opacity="0.30"/>
<ellipse cx="474.50" cy="360.50" rx="3.25" ry="0.70" fill="#222" fill-opacity="0.55"/>
<ellipse cx="474.50" cy="363.10" rx="3.25" ry="0.70" fill="#222" fill-opacity="0.55"/>
<ellipse cx="481.50" cy="318.00" rx="3.25" ry="1.10" fill="#080808" fill-opacity="0.80"/>
<ellipse cx="481.50" cy="325.80" rx="3.25" ry="0.65" fill="#050505" fill-opacity="0.22"/>
<ellipse cx="481.50" cy="360.50" rx="3.25" ry="0.70" fill="#222" fill-opacity="0.45"/>
<ellipse cx="481.50" cy="363.10" rx="3.25" ry="0.70" fill="#222" fill-opacity="0.45"/>
<ellipse cx="490.50" cy="318.00" rx="3.25" ry="1.20" fill="#080808" fill-opacity="0.90"/>
<ellipse cx="490.50" cy="325.80" rx="3.25" ry="0.65" fill="#050505" fill-opacity="0.20"/>
<ellipse cx="490.50" cy="360.50" rx="3.25" ry="0.70" fill="#222" fill-opacity="0.50"/>
<ellipse cx="490.50" cy="363.10" rx="3.25" ry="0.70" fill="#222" fill-opacity="0.50"/>
<text x="0" y="2.10" font-size="5.83" text-anchor="end" fill="#333" stroke="#333" stroke-width="0.03" transform="translate(386.30 310.60) scale(0.9091 1)" >kDa</text>
<text x="0" y="2.10" font-size="5.83" text-anchor="end" fill="#333" stroke="#333" stroke-width="0.03" transform="translate(386.30 314.80) scale(0.9091 1)" >250</text>
<text x="0" y="2.10" font-size="5.83" text-anchor="end" fill="#333" stroke="#333" stroke-width="0.03" transform="translate(386.30 317.70) scale(0.9091 1)" >150</text>
<text x="0" y="2.10" font-size="5.83" text-anchor="end" fill="#333" stroke="#333" stroke-width="0.03" transform="translate(386.30 320.40) scale(0.9091 1)" >100</text>
<text x="0" y="2.10" font-size="5.83" text-anchor="end" fill="#333" stroke="#333" stroke-width="0.03" transform="translate(386.30 323.90) scale(0.9091 1)" >75</text>
<text x="0" y="2.10" font-size="5.83" text-anchor="end" fill="#333" stroke="#333" stroke-width="0.03" transform="translate(386.30 329.70) scale(0.9091 1)" >50</text>
<text x="0" y="2.10" font-size="5.83" text-anchor="end" fill="#333" stroke="#333" stroke-width="0.03" transform="translate(386.30 336.90) scale(0.9091 1)" >37</text>
<text x="0" y="2.10" font-size="5.83" text-anchor="end" fill="#333" stroke="#333" stroke-width="0.03" transform="translate(386.30 347.30) scale(0.9091 1)" >25</text>
<text x="0" y="2.10" font-size="5.83" text-anchor="end" fill="#333" stroke="#333" stroke-width="0.03" transform="translate(386.30 352.50) scale(0.9091 1)" >20</text>
<text x="0" y="2.10" font-size="5.83" text-anchor="end" fill="#333" stroke="#333" stroke-width="0.03" transform="translate(386.30 362.40) scale(0.9091 1)" >15</text>
<text x="0" y="2.10" font-size="5.83" text-anchor="end" fill="#333" stroke="#333" stroke-width="0.03" transform="translate(386.30 372.10) scale(0.9091 1)" >10</text>
<rect x="389.40" y="314.15" width="4.10" height="1.30" rx="0.65" fill="#111" fill-opacity="0.40"/>
<rect x="389.40" y="317.05" width="4.10" height="1.30" rx="0.65" fill="#111" fill-opacity="0.40"/>
<rect x="389.40" y="319.75" width="4.10" height="1.30" rx="0.65" fill="#111" fill-opacity="0.45"/>
<rect x="389.40" y="323.25" width="4.10" height="1.30" rx="0.65" fill="#111" fill-opacity="0.80"/>
<rect x="389.40" y="329.05" width="4.10" height="1.30" rx="0.65" fill="#111" fill-opacity="0.80"/>
<rect x="389.40" y="336.25" width="4.10" height="1.30" rx="0.65" fill="#111" fill-opacity="0.45"/>
<rect x="389.40" y="346.65" width="4.10" height="1.30" rx="0.65" fill="#111" fill-opacity="0.95"/>
<rect x="389.40" y="351.85" width="4.10" height="1.30" rx="0.65" fill="#111" fill-opacity="0.50"/>
<rect x="389.40" y="361.75" width="4.10" height="1.30" rx="0.65" fill="#111" fill-opacity="0.40"/>
<rect x="389.40" y="371.45" width="4.10" height="1.30" rx="0.65" fill="#111" fill-opacity="0.40"/>
<text x="0" y="3.09" font-size="8.58" text-anchor="start" fill="#8a80e8" stroke="#8a80e8" stroke-width="0.03" transform="translate(497.60 317.30) scale(0.9091 1)" >K</text>
<text x="0" y="3.09" font-size="8.58" text-anchor="start" fill="#8a80e8" stroke="#8a80e8" stroke-width="0.03" transform="translate(497.60 326.20) scale(0.9091 1)" >N<tspan font-size="5.32" dy="2.15">2</tspan></text>
<text x="0" y="3.09" font-size="8.58" text-anchor="start" fill="#8a80e8" stroke="#8a80e8" stroke-width="0.03" transform="translate(497.60 362.40) scale(0.9091 1)" >H</text>
<text x="0" y="2.38" font-size="6.60" text-anchor="middle" fill="#9088ec" stroke="#9088ec" stroke-width="0.03" transform="translate(422.50 381.40) scale(0.9091 1)" textLength="22.00" lengthAdjust="spacingAndGlyphs" >1N<tspan font-size="4.09" dy="1.65">2</tspan><tspan dy="-1.65">:1H</tspan></text>
<text x="0" y="2.38" font-size="6.60" text-anchor="middle" fill="#9088ec" stroke="#9088ec" stroke-width="0.03" transform="translate(472.70 379.60) scale(0.9091 1)" textLength="12.76" lengthAdjust="spacingAndGlyphs" >K•H</text>
<text x="0" y="4.86" font-size="13.50" text-anchor="start" fill="#000" stroke="#000" stroke-width="0.03" transform="translate(0.00 397.30) scale(1.0000 1)" >F</text>
<text x="0" y="3.37" font-size="9.35" text-anchor="start" fill="#000" stroke="#000" stroke-width="0.03" transform="translate(77.10 393.40) scale(0.9091 1)" textLength="77.94" lengthAdjust="spacingAndGlyphs" >Immobilized MBP</text>
<text x="0" y="2.85" font-size="7.92" text-anchor="middle" fill="#000" stroke="#000" stroke-width="0.03" transform="translate(81.00 402.10) scale(0.9091 1)" textLength="24.77" lengthAdjust="spacingAndGlyphs" >Bound</text>
<line x1="46.40" y1="407.10" x2="114.10" y2="407.10" stroke="#777" stroke-width="1.00" />
<text x="0" y="2.85" font-size="7.92" text-anchor="middle" fill="#000" stroke="#000" stroke-width="0.03" transform="translate(166.25 403.00) scale(0.9091 1)" textLength="35.88" lengthAdjust="spacingAndGlyphs" >Unbound</text>
<line x1="129.90" y1="407.20" x2="199.90" y2="407.20" stroke="#777" stroke-width="1.00" />
<text x="0" y="2.46" font-size="6.82" text-anchor="end" fill="#000" stroke="#000" stroke-width="0.03" transform="translate(43.70 414.20) scale(0.9091 1)" textLength="34.67" lengthAdjust="spacingAndGlyphs" >Nap1 core:</text>
<text x="0" y="2.46" font-size="6.82" text-anchor="end" fill="#000" stroke="#000" stroke-width="0.03" transform="translate(43.70 423.30) scale(0.9091 1)" textLength="29.50" lengthAdjust="spacingAndGlyphs" >Nap1 FL:</text>
<text x="0" y="2.46" font-size="6.82" text-anchor="end" fill="#000" stroke="#000" stroke-width="0.03" transform="translate(43.70 431.70) scale(0.9091 1)" textLength="42.04" lengthAdjust="spacingAndGlyphs" >Sc H2A-H2B:</text>
<line x1="48.80" y1="413.80" x2="54.20" y2="413.80" stroke="#222" stroke-width="0.95" />
<line x1="48.80" y1="423.00" x2="54.20" y2="423.00" stroke="#222" stroke-width="0.95" />
<text x="0" y="2.77" font-size="7.70" text-anchor="middle" fill="#000" stroke="#000" stroke-width="0.03" transform="translate(51.50 431.70) scale(0.9091 1)" >1</text>
<line x1="60.20" y1="413.80" x2="63.60" y2="413.80" stroke="#111" stroke-width="0.80" />
<line x1="61.90" y1="412.10" x2="61.90" y2="415.50" stroke="#111" stroke-width="0.80" />
<line x1="59.20" y1="423.00" x2="64.60" y2="423.00" stroke="#222" stroke-width="0.95" />
<line x1="59.20" y1="431.70" x2="64.60" y2="431.70" stroke="#222" stroke-width="0.95" />
<line x1="69.30" y1="413.80" x2="72.70" y2="413.80" stroke="#111" stroke-width="0.80" />
<line x1="71.00" y1="412.10" x2="71.00" y2="415.50" stroke="#111" stroke-width="0.80" />
<line x1="68.30" y1="423.00" x2="73.70" y2="423.00" stroke="#222" stroke-width="0.95" />
<text x="0" y="2.77" font-size="7.70" text-anchor="middle" fill="#000" stroke="#000" stroke-width="0.03" transform="translate(71.00 431.70) scale(0.9091 1)" >1</text>
<line x1="79.60" y1="413.80" x2="83.00" y2="413.80" stroke="#111" stroke-width="0.80" />
<line x1="81.30" y1="412.10" x2="81.30" y2="415.50" stroke="#111" stroke-width="0.80" />
<line x1="78.60" y1="423.00" x2="84.00" y2="423.00" stroke="#222" stroke-width="0.95" />
<text x="0" y="2.77" font-size="7.70" text-anchor="middle" fill="#000" stroke="#000" stroke-width="0.03" transform="translate(81.30 431.70) scale(0.9091 1)" >2</text>
<line x1="87.80" y1="413.80" x2="93.20" y2="413.80" stroke="#222" stroke-width="0.95" />
<line x1="88.80" y1="423.00" x2="92.20" y2="423.00" stroke="#111" stroke-width="0.80" />
<line x1="90.50" y1="421.30" x2="90.50" y2="424.70" stroke="#111" stroke-width="0.80" />
<line x1="87.80" y1="431.70" x2="93.20" y2="431.70" stroke="#222" stroke-width="0.95" />
<line x1="97.10" y1="413.80" x2="102.50" y2="413.80" stroke="#222" stroke-width="0.95" />
<line x1="98.10" y1="423.00" x2="101.50" y2="423.00" stroke="#111" stroke-width="0.80" />
<line x1="99.80" y1="421.30" x2="99.80" y2="424.70" stroke="#111" stroke-width="0.80" />
<text x="0" y="2.77" font-size="7.70" text-anchor="middle" fill="#000" stroke="#000" stroke-width="0.03" transform="translate(99.80 431.70) scale(0.9091 1)" >1</text>
<line x1="106.20" y1="413.80" x2="111.60" y2="413.80" stroke="#222" stroke-width="0.95" />
<line x1="107.20" y1="423.00" x2="110.60" y2="423.00" stroke="#111" stroke-width="0.80" />
<line x1="108.90" y1="421.30" x2="108.90" y2="424.70" stroke="#111" stroke-width="0.80" />
<text x="0" y="2.77" font-size="7.70" text-anchor="middle" fill="#000" stroke="#000" stroke-width="0.03" transform="translate(108.90 431.70) scale(0.9091 1)" >2</text>
<line x1="135.00" y1="413.80" x2="140.40" y2="413.80" stroke="#222" stroke-width="0.95" />
<line x1="135.00" y1="423.00" x2="140.40" y2="423.00" stroke="#222" stroke-width="0.95" />
<text x="0" y="2.77" font-size="7.70" text-anchor="middle" fill="#000" stroke="#000" stroke-width="0.03" transform="translate(137.70 431.70) scale(0.9091 1)" >1</text>
<line x1="146.50" y1="413.80" x2="149.90" y2="413.80" stroke="#111" stroke-width="0.80" />
<line x1="148.20" y1="412.10" x2="148.20" y2="415.50" stroke="#111" stroke-width="0.80" />
<line x1="145.50" y1="423.00" x2="150.90" y2="423.00" stroke="#222" stroke-width="0.95" />
<line x1="145.50" y1="431.70" x2="150.90" y2="431.70" stroke="#222" stroke-width="0.95" />
<line x1="155.60" y1="413.80" x2="159.00" y2="413.80" stroke="#111" stroke-width="0.80" />
<line x1="157.30" y1="412.10" x2="157.30" y2="415.50" stroke="#111" stroke-width="0.80" />
<line x1="154.60" y1="423.00" x2="160.00" y2="423.00" stroke="#222" stroke-width="0.95" />
<text x="0" y="2.77" font-size="7.70" text-anchor="middle" fill="#000" stroke="#000" stroke-width="0.03" transform="translate(157.30 431.70) scale(0.9091 1)" >1</text>
<line x1="165.70" y1="413.80" x2="169.10" y2="413.80" stroke="#111" stroke-width="0.80" />
<line x1="167.40" y1="412.10" x2="167.40" y2="415.50" stroke="#111" stroke-width="0.80" />
<line x1="164.70" y1="423.00" x2="170.10" y2="423.00" stroke="#222" stroke-width="0.95" />
<text x="0" y="2.77" font-size="7.70" text-anchor="middle" fill="#000" stroke="#000" stroke-width="0.03" transform="translate(167.40 431.70) scale(0.9091 1)" >2</text>
<line x1="174.00" y1="413.80" x2="179.40" y2="413.80" stroke="#222" stroke-width="0.95" />
<line x1="175.00" y1="423.00" x2="178.40" y2="423.00" stroke="#111" stroke-width="0.80" />
<line x1="176.70" y1="421.30" x2="176.70" y2="424.70" stroke="#111" stroke-width="0.80" />
<line x1="174.00" y1="431.70" x2="179.40" y2="431.70" stroke="#222" stroke-width="0.95" />
<line x1="183.40" y1="413.80" x2="188.80" y2="413.80" stroke="#222" stroke-width="0.95" />
<line x1="184.40" y1="423.00" x2="187.80" y2="423.00" stroke="#111" stroke-width="0.80" />
<line x1="186.10" y1="421.30" x2="186.10" y2="424.70" stroke="#111" stroke-width="0.80" />
<text x="0" y="2.77" font-size="7.70" text-anchor="middle" fill="#000" stroke="#000" stroke-width="0.03" transform="translate(186.10 431.70) scale(0.9091 1)" >1</text>
<line x1="192.60" y1="413.80" x2="198.00" y2="413.80" stroke="#222" stroke-width="0.95" />
<line x1="193.60" y1="423.00" x2="197.00" y2="423.00" stroke="#111" stroke-width="0.80" />
<line x1="195.30" y1="421.30" x2="195.30" y2="424.70" stroke="#111" stroke-width="0.80" />
<text x="0" y="2.77" font-size="7.70" text-anchor="middle" fill="#000" stroke="#000" stroke-width="0.03" transform="translate(195.30 431.70) scale(0.9091 1)" >2</text>
<linearGradient id="g17" x1="0" y1="0" x2="1" y2="0">
<stop offset="0" stop-color="#b8b8b8"/>
<stop offset="0.5" stop-color="#b0b0b0"/>
<stop offset="1" stop-color="#a2a2a2"/>
</linearGradient>
<rect x="36.00" y="438.60" width="79.40" height="75.60" fill="url(#g17)" />
<linearGradient id="g18" x1="0" y1="0" x2="1" y2="0">
<stop offset="0" stop-color="#c6c6c6"/>
<stop offset="0.5" stop-color="#cecece"/>
<stop offset="1" stop-color="#d2d2d2"/>
</linearGradient>
<rect x="122.00" y="439.10" width="83.10" height="75.10" fill="url(#g18)" />
<line x1="122.00" y1="439.30" x2="205.10" y2="439.30" stroke="#444" stroke-width="0.60" />
<rect x="36.70" y="442.35" width="3.70" height="1.30" rx="0.65" fill="#333" fill-opacity="0.35"/>
<rect x="36.70" y="445.35" width="3.70" height="1.30" rx="0.65" fill="#333" fill-opacity="0.35"/>
<rect x="36.70" y="450.85" width="3.70" height="1.30" rx="0.65" fill="#333" fill-opacity="0.45"/>
<rect x="36.70" y="460.75" width="3.70" height="1.30" rx="0.65" fill="#333" fill-opacity="0.50"/>
<rect x="36.70" y="472.35" width="3.70" height="1.30" rx="0.65" fill="#333" fill-opacity="0.50"/>
<rect x="36.70" y="487.55" width="3.70" height="1.30" rx="0.65" fill="#333" fill-opacity="0.80"/>
<rect x="36.70" y="496.25" width="3.70" height="1.30" rx="0.65" fill="#333" fill-opacity="0.35"/>
<rect x="36.70" y="506.35" width="3.70" height="1.30" rx="0.65" fill="#333" fill-opacity="0.30"/>
<rect x="123.00" y="452.85" width="4.00" height="1.30" rx="0.65" fill="#444" fill-opacity="0.30"/>
<rect x="123.00" y="462.05" width="4.00" height="1.30" rx="0.65" fill="#444" fill-opacity="0.40"/>
<rect x="123.00" y="471.05" width="4.00" height="1.30" rx="0.65" fill="#444" fill-opacity="0.35"/>
<rect x="123.00" y="488.05" width="4.00" height="1.30" rx="0.65" fill="#444" fill-opacity="0.45"/>
<rect x="123.00" y="497.95" width="4.00" height="1.30" rx="0.65" fill="#444" fill-opacity="0.30"/>
<text x="0" y="2.61" font-size="7.26" text-anchor="end" fill="#000" stroke="#000" stroke-width="0.03" transform="translate(35.50 458.10) scale(0.9091 1)" textLength="28.01" lengthAdjust="spacingAndGlyphs" >Nap1 FL</text>
<text x="0" y="2.61" font-size="7.26" text-anchor="end" fill="#000" stroke="#000" stroke-width="0.03" transform="translate(35.50 466.00) scale(0.9091 1)" textLength="17.12" lengthAdjust="spacingAndGlyphs" >MBP</text>
<text x="0" y="2.61" font-size="7.26" text-anchor="end" fill="#000" stroke="#000" stroke-width="0.03" transform="translate(35.50 473.30) scale(0.9091 1)" textLength="33.40" lengthAdjust="spacingAndGlyphs" >Nap1 core</text>
<text x="0" y="2.61" font-size="7.26" text-anchor="end" fill="#000" stroke="#000" stroke-width="0.03" transform="translate(35.50 508.50) scale(0.9091 1)" textLength="30.65" lengthAdjust="spacingAndGlyphs" >H2A-H2B</text>
<rect x="43.30" y="465.20" width="9.20" height="3.20" rx="1.20" fill="#101010" fill-opacity="0.85"/>
<ellipse cx="47.90" cy="507.80" rx="4.60" ry="0.70" fill="#444" fill-opacity="0.25"/>
<text x="0" y="2.18" font-size="6.05" text-anchor="middle" fill="#222" stroke="#222" stroke-width="0.03" transform="translate(47.00 517.50) scale(0.9091 1)" >1</text>
<rect x="54.50" y="465.20" width="8.50" height="3.20" rx="1.20" fill="#101010" fill-opacity="0.85"/>
<ellipse cx="58.75" cy="472.40" rx="4.25" ry="0.65" fill="#333" fill-opacity="0.40"/>
<text x="0" y="2.18" font-size="6.05" text-anchor="middle" fill="#222" stroke="#222" stroke-width="0.03" transform="translate(56.10 517.50) scale(0.9091 1)" >2</text>
<rect x="64.00" y="465.20" width="8.50" height="3.20" rx="1.20" fill="#101010" fill-opacity="0.85"/>
<ellipse cx="68.25" cy="472.40" rx="4.25" ry="0.65" fill="#333" fill-opacity="0.40"/>
<ellipse cx="68.25" cy="507.80" rx="4.25" ry="0.70" fill="#444" fill-opacity="0.25"/>
<text x="0" y="2.18" font-size="6.05" text-anchor="middle" fill="#222" stroke="#222" stroke-width="0.03" transform="translate(66.90 517.50) scale(0.9091 1)" >3</text>
<rect x="74.00" y="465.20" width="9.50" height="3.20" rx="1.20" fill="#101010" fill-opacity="0.85"/>
<ellipse cx="78.75" cy="472.40" rx="4.75" ry="0.65" fill="#333" fill-opacity="0.40"/>
<ellipse cx="78.75" cy="507.80" rx="4.75" ry="0.70" fill="#444" fill-opacity="0.25"/>
<text x="0" y="2.18" font-size="6.05" text-anchor="middle" fill="#222" stroke="#222" stroke-width="0.03" transform="translate(78.50 517.50) scale(0.9091 1)" >4</text>
<rect x="85.60" y="465.20" width="8.30" height="3.20" rx="1.20" fill="#101010" fill-opacity="0.85"/>
<ellipse cx="89.75" cy="461.10" rx="4.15" ry="0.70" fill="#333" fill-opacity="0.35"/>
<text x="0" y="2.18" font-size="6.05" text-anchor="middle" fill="#222" stroke="#222" stroke-width="0.03" transform="translate(89.40 517.50) scale(0.9091 1)" >5</text>
<rect x="95.50" y="465.20" width="8.80" height="3.20" rx="1.20" fill="#101010" fill-opacity="0.85"/>
<ellipse cx="99.90" cy="461.10" rx="4.40" ry="0.70" fill="#333" fill-opacity="0.35"/>
<ellipse cx="99.90" cy="507.80" rx="4.40" ry="0.70" fill="#444" fill-opacity="0.25"/>
<text x="0" y="2.18" font-size="6.05" text-anchor="middle" fill="#222" stroke="#222" stroke-width="0.03" transform="translate(100.00 517.50) scale(0.9091 1)" >6</text>
<rect x="106.00" y="465.20" width="8.50" height="3.20" rx="1.20" fill="#101010" fill-opacity="0.85"/>
<ellipse cx="110.25" cy="461.10" rx="4.25" ry="0.70" fill="#333" fill-opacity="0.35"/>
<ellipse cx="110.25" cy="507.80" rx="4.25" ry="0.70" fill="#444" fill-opacity="0.25"/>
<text x="0" y="2.18" font-size="6.05" text-anchor="middle" fill="#222" stroke="#222" stroke-width="0.03" transform="translate(111.20 517.50) scale(0.9091 1)" >7</text>
<ellipse cx="136.00" cy="465.50" rx="4.00" ry="0.60" fill="#555" fill-opacity="0.30"/>
<ellipse cx="136.00" cy="507.60" rx="4.00" ry="0.70" fill="#222" fill-opacity="0.25"/>
<ellipse cx="136.00" cy="511.20" rx="4.00" ry="0.70" fill="#222" fill-opacity="0.21"/>
<text x="0" y="2.18" font-size="6.05" text-anchor="middle" fill="#222" stroke="#222" stroke-width="0.03" transform="translate(137.90 519.20) scale(0.9091 1)" >8</text>
<ellipse cx="147.00" cy="465.50" rx="4.10" ry="0.60" fill="#555" fill-opacity="0.30"/>
<ellipse cx="147.00" cy="473.00" rx="4.10" ry="1.00" fill="#151515" fill-opacity="0.72"/>
<text x="0" y="2.18" font-size="6.05" text-anchor="middle" fill="#222" stroke="#222" stroke-width="0.03" transform="translate(147.30 519.20) scale(0.9091 1)" >9</text>
<ellipse cx="157.25" cy="465.50" rx="4.15" ry="0.60" fill="#555" fill-opacity="0.30"/>
<ellipse cx="157.25" cy="473.00" rx="4.15" ry="1.00" fill="#151515" fill-opacity="0.72"/>
<ellipse cx="157.25" cy="507.60" rx="4.15" ry="0.70" fill="#222" fill-opacity="0.45"/>
<ellipse cx="157.25" cy="511.20" rx="4.15" ry="0.70" fill="#222" fill-opacity="0.38"/>
<text x="0" y="2.18" font-size="6.05" text-anchor="middle" fill="#222" stroke="#222" stroke-width="0.03" transform="translate(158.40 519.20) scale(0.9091 1)" >10</text>
<ellipse cx="167.70" cy="465.50" rx="3.90" ry="0.60" fill="#555" fill-opacity="0.30"/>
<ellipse cx="167.70" cy="473.00" rx="3.90" ry="1.00" fill="#151515" fill-opacity="0.72"/>
<ellipse cx="167.70" cy="507.60" rx="3.90" ry="0.70" fill="#222" fill-opacity="0.55"/>
<ellipse cx="167.70" cy="511.20" rx="3.90" ry="0.70" fill="#222" fill-opacity="0.47"/>
<text x="0" y="2.18" font-size="6.05" text-anchor="middle" fill="#222" stroke="#222" stroke-width="0.03" transform="translate(169.30 519.20) scale(0.9091 1)" >11</text>
<ellipse cx="177.85" cy="465.50" rx="4.15" ry="0.60" fill="#555" fill-opacity="0.30"/>
<ellipse cx="177.85" cy="460.90" rx="4.15" ry="1.00" fill="#151515" fill-opacity="0.72"/>
<text x="0" y="2.18" font-size="6.05" text-anchor="middle" fill="#222" stroke="#222" stroke-width="0.03" transform="translate(179.20 519.20) scale(0.9091 1)" >12</text>
<ellipse cx="187.75" cy="465.50" rx="4.15" ry="0.60" fill="#555" fill-opacity="0.30"/>
<ellipse cx="187.75" cy="460.90" rx="4.15" ry="1.00" fill="#151515" fill-opacity="0.72"/>
<ellipse cx="187.75" cy="507.60" rx="4.15" ry="0.70" fill="#222" fill-opacity="0.45"/>
<ellipse cx="187.75" cy="511.20" rx="4.15" ry="0.70" fill="#222" fill-opacity="0.38"/>
<text x="0" y="2.18" font-size="6.05" text-anchor="middle" fill="#222" stroke="#222" stroke-width="0.03" transform="translate(189.70 519.20) scale(0.9091 1)" >13</text>
<ellipse cx="198.30" cy="465.50" rx="4.30" ry="0.60" fill="#555" fill-opacity="0.30"/>
<ellipse cx="198.30" cy="460.90" rx="4.30" ry="1.00" fill="#151515" fill-opacity="0.72"/>
<ellipse cx="198.30" cy="507.60" rx="4.30" ry="0.70" fill="#222" fill-opacity="0.55"/>
<ellipse cx="198.30" cy="511.20" rx="4.30" ry="0.70" fill="#222" fill-opacity="0.47"/>
<text x="0" y="2.18" font-size="6.05" text-anchor="middle" fill="#222" stroke="#222" stroke-width="0.03" transform="translate(200.60 519.20) scale(0.9091 1)" >14</text>
<circle cx="150.5" cy="500" r="2.5" fill="none" stroke="#aaa" stroke-width="0.6" fill-opacity="0.3"/>
<text x="0" y="2.06" font-size="5.72" text-anchor="start" fill="#333" stroke="#333" stroke-width="0.03" transform="translate(115.40 437.00) scale(0.9091 1)" >kDa</text>
<text x="0" y="2.06" font-size="5.72" text-anchor="start" fill="#333" stroke="#333" stroke-width="0.03" transform="translate(115.40 441.60) scale(0.9091 1)" >250</text>
<text x="0" y="2.06" font-size="5.72" text-anchor="start" fill="#333" stroke="#333" stroke-width="0.03" transform="translate(115.40 445.20) scale(0.9091 1)" >150</text>
<text x="0" y="2.06" font-size="5.72" text-anchor="start" fill="#333" stroke="#333" stroke-width="0.03" transform="translate(115.40 448.20) scale(0.9091 1)" >100</text>
<text x="0" y="2.06" font-size="5.72" text-anchor="start" fill="#333" stroke="#333" stroke-width="0.03" transform="translate(115.40 453.50) scale(0.9091 1)" >75</text>
<text x="0" y="2.06" font-size="5.72" text-anchor="start" fill="#333" stroke="#333" stroke-width="0.03" transform="translate(115.40 462.70) scale(0.9091 1)" >50</text>
<text x="0" y="2.06" font-size="5.72" text-anchor="start" fill="#333" stroke="#333" stroke-width="0.03" transform="translate(115.40 471.70) scale(0.9091 1)" >37</text>
<text x="0" y="2.06" font-size="5.72" text-anchor="start" fill="#333" stroke="#333" stroke-width="0.03" transform="translate(115.40 488.70) scale(0.9091 1)" >25</text>
<text x="0" y="2.06" font-size="5.72" text-anchor="start" fill="#333" stroke="#333" stroke-width="0.03" transform="translate(115.40 498.60) scale(0.9091 1)" >20</text>
<text x="0" y="2.06" font-size="5.72" text-anchor="start" fill="#333" stroke="#333" stroke-width="0.03" transform="translate(115.40 513.90) scale(0.9091 1)" >15</text>
<text x="0" y="2.97" font-size="8.25" text-anchor="middle" fill="#000" stroke="#000" stroke-width="0.03" transform="translate(299.90 405.70) scale(0.9091 1)" textLength="20.85" lengthAdjust="spacingAndGlyphs" >Peak</text>
<text x="0" y="2.97" font-size="8.25" text-anchor="middle" fill="#000" stroke="#000" stroke-width="0.03" transform="translate(329.20 396.70) scale(0.9091 1)" textLength="30.41" lengthAdjust="spacingAndGlyphs" >Volume</text>
<text x="0" y="2.97" font-size="8.25" text-anchor="middle" fill="#000" stroke="#000" stroke-width="0.03" transform="translate(329.70 405.70) scale(0.9091 1)" textLength="18.86" lengthAdjust="spacingAndGlyphs" >(mL)</text>
<text x="0" y="2.97" font-size="8.25" text-anchor="middle" fill="#000" stroke="#000" stroke-width="0.03" transform="translate(367.30 396.70) scale(0.9091 1)" textLength="21.95" lengthAdjust="spacingAndGlyphs" >Mass</text>
<text x="0" y="2.97" font-size="8.25" text-anchor="middle" fill="#000" stroke="#000" stroke-width="0.03" transform="translate(367.40 405.70) scale(0.9091 1)" textLength="23.49" lengthAdjust="spacingAndGlyphs" >(kDa)</text>
<text x="0" y="2.97" font-size="8.25" text-anchor="middle" fill="#000" stroke="#000" stroke-width="0.03" transform="translate(435.20 397.20) scale(0.9091 1)" textLength="36.47" lengthAdjust="spacingAndGlyphs" >Complex</text>
<text x="0" y="2.97" font-size="8.25" text-anchor="middle" fill="#000" stroke="#000" stroke-width="0.03" transform="translate(434.90 406.50) scale(0.9091 1)" textLength="99.17" lengthAdjust="spacingAndGlyphs" >(theoretical mass in kDa)</text>
<line x1="289.20" y1="412.30" x2="480.20" y2="412.30" stroke="#333" stroke-width="0.90" />
<text x="0" y="2.97" font-size="8.25" text-anchor="middle" fill="#f0a030" stroke="#f0a030" stroke-width="0.03" transform="translate(299.40 418.00) scale(0.9091 1)" >1</text>
<text x="0" y="2.97" font-size="8.25" text-anchor="middle" fill="#000" stroke="#000" stroke-width="0.03" transform="translate(329.90 418.00) scale(0.9091 1)" textLength="17.11" lengthAdjust="spacingAndGlyphs" >10.6</text>
<text x="0" y="2.97" font-size="8.25" text-anchor="middle" fill="#000" stroke="#000" stroke-width="0.03" transform="translate(368.40 418.00) scale(0.9091 1)" textLength="39.33" lengthAdjust="spacingAndGlyphs" >~225-238</text>
<text x="0" y="2.97" font-size="8.25" text-anchor="middle" fill="#f0a030" stroke="#f0a030" stroke-width="0.03" transform="translate(299.40 428.20) scale(0.9091 1)" >2</text>
<text x="0" y="2.97" font-size="8.25" text-anchor="middle" fill="#000" stroke="#000" stroke-width="0.03" transform="translate(329.90 428.20) scale(0.9091 1)" textLength="17.11" lengthAdjust="spacingAndGlyphs" >12.3</text>
<text x="0" y="2.97" font-size="8.25" text-anchor="middle" fill="#000" stroke="#000" stroke-width="0.03" transform="translate(368.40 428.20) scale(0.9091 1)" textLength="39.33" lengthAdjust="spacingAndGlyphs" >~149-152</text>
<text x="0" y="2.97" font-size="8.25" text-anchor="middle" fill="#9088ec" stroke="#9088ec" stroke-width="0.03" transform="translate(299.40 446.30) scale(0.9091 1)" >1</text>
<text x="0" y="2.97" font-size="8.25" text-anchor="middle" fill="#000" stroke="#000" stroke-width="0.03" transform="translate(329.90 446.30) scale(0.9091 1)" textLength="8.63" lengthAdjust="spacingAndGlyphs" >11</text>
<text x="0" y="2.97" font-size="8.25" text-anchor="middle" fill="#000" stroke="#000" stroke-width="0.03" transform="translate(368.40 446.30) scale(0.9091 1)" textLength="39.33" lengthAdjust="spacingAndGlyphs" >~150-200</text>
<text x="0" y="2.97" font-size="8.25" text-anchor="middle" fill="#9088ec" stroke="#9088ec" stroke-width="0.03" transform="translate(299.40 464.60) scale(0.9091 1)" >2</text>
<text x="0" y="2.97" font-size="8.25" text-anchor="middle" fill="#000" stroke="#000" stroke-width="0.03" transform="translate(329.90 464.60) scale(0.9091 1)" textLength="17.11" lengthAdjust="spacingAndGlyphs" >12.8</text>
<text x="0" y="2.97" font-size="8.25" text-anchor="middle" fill="#000" stroke="#000" stroke-width="0.03" transform="translate(368.40 464.60) scale(0.9091 1)" textLength="39.33" lengthAdjust="spacingAndGlyphs" >~135-142</text>
<text x="0" y="2.97" font-size="8.25" text-anchor="middle" fill="#000" stroke="#000" stroke-width="0.03" transform="translate(435.20 418.20) scale(0.9091 1)" textLength="71.89" lengthAdjust="spacingAndGlyphs" >1K:1N<tspan font-size="5.12" dy="2.06">2</tspan><tspan dy="-2.06">:1H (245)</tspan></text>
<text x="0" y="2.97" font-size="8.25" text-anchor="middle" fill="#000" stroke="#000" stroke-width="0.03" transform="translate(433.30 428.40) scale(0.9091 1)" textLength="42.30" lengthAdjust="spacingAndGlyphs" >K•H (141)</text>
<text x="0" y="2.97" font-size="8.25" text-anchor="middle" fill="#000" stroke="#000" stroke-width="0.03" transform="translate(430.20 443.20) scale(0.9091 1)" textLength="55.05" lengthAdjust="spacingAndGlyphs" >1N<tspan font-size="5.12" dy="2.06">2</tspan><tspan dy="-2.06">:1H  (131)</tspan></text>
<text x="0" y="2.97" font-size="8.25" text-anchor="middle" fill="#000" stroke="#000" stroke-width="0.03" transform="translate(430.50 452.10) scale(0.9091 1)" textLength="55.61" lengthAdjust="spacingAndGlyphs" >2N<tspan font-size="5.12" dy="2.06">2</tspan><tspan dy="-2.06">:2H  (262)</tspan></text>
<text x="0" y="2.97" font-size="8.25" text-anchor="middle" fill="#000" stroke="#000" stroke-width="0.03" transform="translate(433.60 464.70) scale(0.9091 1)" textLength="42.85" lengthAdjust="spacingAndGlyphs" >K•H  (141)</text>
<text x="0" y="3.25" font-size="9.02" text-anchor="start" fill="#000" stroke="#000" stroke-width="0.03" transform="translate(240.80 487.10) scale(0.9091 1)" textLength="34.23" lengthAdjust="spacingAndGlyphs" >1 Kap114</text>
<text x="0" y="3.25" font-size="9.02" text-anchor="start" fill="#000" stroke="#000" stroke-width="0.03" transform="translate(275.40 487.10) scale(0.9091 1)" textLength="37.42" lengthAdjust="spacingAndGlyphs" >+ 1 Nap1<tspan font-size="5.59" dy="2.25">2</tspan></text>
<line x1="359.00" y1="487.10" x2="378.00" y2="487.10" stroke="#111" stroke-width="1.10" />
<path d="M380,487.10 L375.5,485.30 L375.5,488.90 Z" fill="#111"/>
<text x="0" y="3.25" font-size="9.02" text-anchor="start" fill="#000" stroke="#000" stroke-width="0.03" transform="translate(240.80 503.80) scale(0.9091 1)" textLength="34.23" lengthAdjust="spacingAndGlyphs" >1 Kap114</text>
<text x="0" y="3.25" font-size="9.02" text-anchor="start" fill="#000" stroke="#000" stroke-width="0.03" transform="translate(275.40 503.80) scale(0.9091 1)" textLength="37.42" lengthAdjust="spacingAndGlyphs" >+ 1 Nap1<tspan font-size="5.59" dy="2.25">2</tspan></text>
<line x1="359.00" y1="503.80" x2="378.00" y2="503.80" stroke="#111" stroke-width="1.10" />
<path d="M380,503.80 L375.5,502.00 L375.5,505.60 Z" fill="#111"/>
<text x="0" y="3.25" font-size="9.02" text-anchor="start" fill="#000" stroke="#000" stroke-width="0.03" transform="translate(312.90 487.10) scale(0.9091 1)" textLength="48.42" lengthAdjust="spacingAndGlyphs" >+ 1 H2A-H2B</text>
<text x="0" y="3.25" font-size="9.02" text-anchor="start" fill="#000" stroke="#000" stroke-width="0.03" transform="translate(312.90 503.80) scale(0.9091 1)" textLength="48.42" lengthAdjust="spacingAndGlyphs" >+ 2 H2A-H2B</text>
<text x="0" y="3.25" font-size="9.02" text-anchor="start" fill="#000" stroke="#000" stroke-width="0.03" transform="translate(380.30 487.10) scale(0.9091 1)" textLength="153.80" lengthAdjust="spacingAndGlyphs" >1 Kap114/Nap1<tspan font-size="5.59" dy="2.25">2</tspan><tspan dy="-2.25">/H2A-H2B ternary complex</tspan></text>
<text x="0" y="3.25" font-size="9.02" text-anchor="start" fill="#000" stroke="#000" stroke-width="0.03" transform="translate(380.30 503.80) scale(0.9091 1)" textLength="145.66" lengthAdjust="spacingAndGlyphs" >1 Kap114•H2A-H2B + 1 Nap1<tspan font-size="5.59" dy="2.25">2</tspan><tspan dy="-2.25">•H2A-H2B</tspan></text>
</svg></body></html>
